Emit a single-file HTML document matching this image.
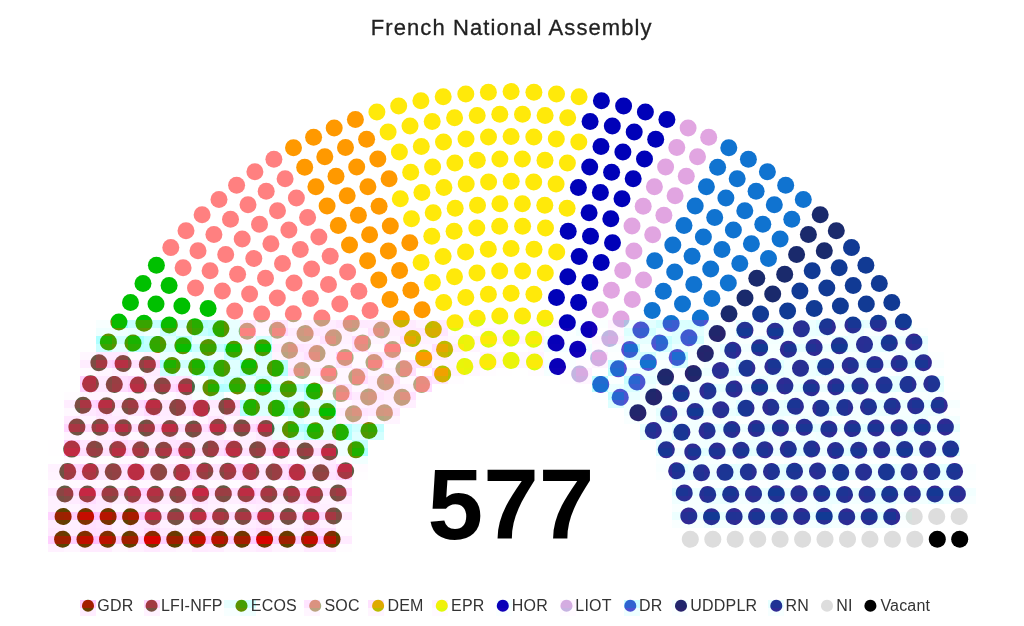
<!DOCTYPE html>
<html><head><meta charset="utf-8"><title>French National Assembly</title>
<style>
html,body{margin:0;padding:0;background:#fff}
body{width:1024px;height:626px;position:relative;overflow:hidden;font-family:"Liberation Sans",Arial,sans-serif}
#title{position:absolute;left:0;width:1023.4px;top:14.6px;text-align:center;font-size:22px;line-height:26px;color:#222;white-space:nowrap;letter-spacing:1.1px;-webkit-text-stroke:0.3px #222}
#title span{display:inline-block}
#num{position:absolute;left:0;width:1022px;top:447px;text-align:center;font-size:100px;line-height:114px;font-weight:bold;color:#000}
svg{position:absolute;left:0;top:0}
svg svg{position:static}
.li{position:absolute;top:596.3px;height:20px;line-height:20px;font-size:16px;color:#333;white-space:nowrap;letter-spacing:0.2px}
</style></head><body>
<div id="title"><span>French National Assembly</span></div>
<svg width="1024" height="626" viewBox="0 0 1024 626">
<svg x="0" y="0" width="1024" height="320" viewBox="0 0 1024 320">
<circle cx="118.9" cy="322" r="8.5" fill="#00c000"/>
<circle cx="144" cy="323.3" r="8.5" fill="#00c000"/>
<circle cx="130.5" cy="302.4" r="8.5" fill="#00c000"/>
<circle cx="169.3" cy="324.9" r="8.5" fill="#00c000"/>
<circle cx="156" cy="304.1" r="8.5" fill="#00c000"/>
<circle cx="194.9" cy="326.7" r="8.5" fill="#00c000"/>
<circle cx="143" cy="283.5" r="8.5" fill="#00c000"/>
<circle cx="181.9" cy="306.1" r="8.5" fill="#00c000"/>
<circle cx="169.1" cy="285.6" r="8.5" fill="#00c000"/>
<circle cx="208.1" cy="308.4" r="8.5" fill="#00c000"/>
<circle cx="156.4" cy="265.2" r="8.5" fill="#00c000"/>
<circle cx="195.5" cy="288.1" r="8.5" fill="#ff8080"/>
<circle cx="234.7" cy="311" r="8.5" fill="#ff8080"/>
<circle cx="183.1" cy="267.8" r="8.5" fill="#ff8080"/>
<circle cx="170.8" cy="247.6" r="8.5" fill="#ff8080"/>
<circle cx="222.4" cy="290.9" r="8.5" fill="#ff8080"/>
<circle cx="210.1" cy="270.8" r="8.5" fill="#ff8080"/>
<circle cx="261.7" cy="314.1" r="8.5" fill="#ff8080"/>
<circle cx="198" cy="250.8" r="8.5" fill="#ff8080"/>
<circle cx="249.6" cy="294.1" r="8.5" fill="#ff8080"/>
<circle cx="186" cy="230.8" r="8.5" fill="#ff8080"/>
<circle cx="237.6" cy="274.2" r="8.5" fill="#ff8080"/>
<circle cx="225.7" cy="254.4" r="8.5" fill="#ff8080"/>
<circle cx="213.9" cy="234.6" r="8.5" fill="#ff8080"/>
<circle cx="277.3" cy="298" r="8.5" fill="#ff8080"/>
<circle cx="293.3" cy="313.7" r="8.5" fill="#ff8080"/>
<circle cx="202.1" cy="214.8" r="8.5" fill="#ff8080"/>
<circle cx="265.5" cy="278.2" r="8.5" fill="#ff8080"/>
<circle cx="253.8" cy="258.5" r="8.5" fill="#ff8080"/>
<circle cx="242.2" cy="238.9" r="8.5" fill="#ff8080"/>
<circle cx="230.5" cy="219.2" r="8.5" fill="#ff8080"/>
<circle cx="219" cy="199.6" r="8.5" fill="#ff8080"/>
<circle cx="321.9" cy="318.1" r="8.5" fill="#ff8080"/>
<circle cx="294" cy="282.9" r="8.5" fill="#ff8080"/>
<circle cx="310.4" cy="298.5" r="8.5" fill="#ff8080"/>
<circle cx="282.5" cy="263.4" r="8.5" fill="#ff8080"/>
<circle cx="270.9" cy="243.8" r="8.5" fill="#ff8080"/>
<circle cx="259.5" cy="224.3" r="8.5" fill="#ff8080"/>
<circle cx="248" cy="204.8" r="8.5" fill="#ff8080"/>
<circle cx="236.6" cy="185.2" r="8.5" fill="#ff8080"/>
<circle cx="351.2" cy="323.4" r="8.5" fill="#ff8080"/>
<circle cx="311.6" cy="269" r="8.5" fill="#ff8080"/>
<circle cx="339.8" cy="303.9" r="8.5" fill="#ff8080"/>
<circle cx="300.3" cy="249.6" r="8.5" fill="#ff8080"/>
<circle cx="288.9" cy="230.1" r="8.5" fill="#ff8080"/>
<circle cx="328.5" cy="284.5" r="8.5" fill="#ff8080"/>
<circle cx="277.5" cy="210.7" r="8.5" fill="#ff8080"/>
<circle cx="266.2" cy="191.3" r="8.5" fill="#ff8080"/>
<circle cx="254.9" cy="171.8" r="8.5" fill="#ff8080"/>
<circle cx="330.2" cy="256.3" r="8.5" fill="#ff8080"/>
<circle cx="318.9" cy="236.9" r="8.5" fill="#ff8080"/>
<circle cx="307.6" cy="217.5" r="8.5" fill="#ff8080"/>
<circle cx="296.4" cy="198.1" r="8.5" fill="#ff8080"/>
<circle cx="285.1" cy="178.7" r="8.5" fill="#ff8080"/>
<circle cx="273.9" cy="159.3" r="8.5" fill="#ff8080"/>
<circle cx="370.1" cy="310.6" r="8.5" fill="#ff8080"/>
<circle cx="358.9" cy="291.3" r="8.5" fill="#ff8080"/>
<circle cx="347.6" cy="271.9" r="8.5" fill="#ff8080"/>
<circle cx="293.5" cy="147.8" r="8.5" fill="#ff9900"/>
<circle cx="304.7" cy="167.3" r="8.5" fill="#ff9900"/>
<circle cx="315.9" cy="186.7" r="8.5" fill="#ff9900"/>
<circle cx="327.1" cy="206.1" r="8.5" fill="#ff9900"/>
<circle cx="338.3" cy="225.5" r="8.5" fill="#ff9900"/>
<circle cx="349.5" cy="244.9" r="8.5" fill="#ff9900"/>
<circle cx="367.6" cy="260.7" r="8.5" fill="#ff9900"/>
<circle cx="378.8" cy="280.1" r="8.5" fill="#ff9900"/>
<circle cx="390" cy="299.5" r="8.5" fill="#ff9900"/>
<circle cx="401.3" cy="319" r="8.5" fill="#ff9900"/>
<circle cx="313.6" cy="137.3" r="8.5" fill="#ff9900"/>
<circle cx="324.8" cy="156.8" r="8.5" fill="#ff9900"/>
<circle cx="336" cy="176.3" r="8.5" fill="#ff9900"/>
<circle cx="347.2" cy="195.8" r="8.5" fill="#ff9900"/>
<circle cx="358.4" cy="215.3" r="8.5" fill="#ff9900"/>
<circle cx="369.6" cy="234.8" r="8.5" fill="#ff9900"/>
<circle cx="334.2" cy="127.9" r="8.5" fill="#ff9900"/>
<circle cx="388.4" cy="250.9" r="8.5" fill="#ff9900"/>
<circle cx="345.5" cy="147.5" r="8.5" fill="#ff9900"/>
<circle cx="399.6" cy="270.5" r="8.5" fill="#ff9900"/>
<circle cx="356.7" cy="167.1" r="8.5" fill="#ff9900"/>
<circle cx="367.9" cy="186.7" r="8.5" fill="#ff9900"/>
<circle cx="410.9" cy="290.2" r="8.5" fill="#ff9900"/>
<circle cx="379.1" cy="206.3" r="8.5" fill="#ff9900"/>
<circle cx="422.1" cy="309.8" r="8.5" fill="#ff9900"/>
<circle cx="390.3" cy="226" r="8.5" fill="#ff9900"/>
<circle cx="355.4" cy="119.5" r="8.5" fill="#ff9900"/>
<circle cx="366.6" cy="139.2" r="8.5" fill="#ff9900"/>
<circle cx="377.8" cy="159" r="8.5" fill="#ff9900"/>
<circle cx="409.8" cy="242.8" r="8.5" fill="#ff9900"/>
<circle cx="389.1" cy="178.8" r="8.5" fill="#ff9900"/>
<circle cx="421.1" cy="262.6" r="8.5" fill="#ffe90a"/>
<circle cx="400.3" cy="198.7" r="8.5" fill="#ffe90a"/>
<circle cx="376.9" cy="112.1" r="8.5" fill="#ffe90a"/>
<circle cx="411.5" cy="218.7" r="8.5" fill="#ffe90a"/>
<circle cx="432.4" cy="282.6" r="8.5" fill="#ffe90a"/>
<circle cx="388.1" cy="132.1" r="8.5" fill="#ffe90a"/>
<circle cx="399.4" cy="152.1" r="8.5" fill="#ffe90a"/>
<circle cx="443.7" cy="302.6" r="8.5" fill="#ffe90a"/>
<circle cx="410.7" cy="172.3" r="8.5" fill="#ffe90a"/>
<circle cx="431.8" cy="236.2" r="8.5" fill="#ffe90a"/>
<circle cx="455" cy="322.7" r="8.5" fill="#ffe90a"/>
<circle cx="398.7" cy="105.9" r="8.5" fill="#ffe90a"/>
<circle cx="421.9" cy="192.4" r="8.5" fill="#ffe90a"/>
<circle cx="410" cy="126.1" r="8.5" fill="#ffe90a"/>
<circle cx="443.1" cy="256.4" r="8.5" fill="#ffe90a"/>
<circle cx="433.2" cy="212.7" r="8.5" fill="#ffe90a"/>
<circle cx="421.3" cy="146.5" r="8.5" fill="#ffe90a"/>
<circle cx="454.5" cy="276.8" r="8.5" fill="#ffe90a"/>
<circle cx="432.6" cy="167" r="8.5" fill="#ffe90a"/>
<circle cx="420.9" cy="100.8" r="8.5" fill="#ffe90a"/>
<circle cx="443.9" cy="187.5" r="8.5" fill="#ffe90a"/>
<circle cx="432.2" cy="121.4" r="8.5" fill="#ffe90a"/>
<circle cx="465.8" cy="297.4" r="8.5" fill="#ffe90a"/>
<circle cx="454.1" cy="231.2" r="8.5" fill="#ffe90a"/>
<circle cx="443.5" cy="142.1" r="8.5" fill="#ffe90a"/>
<circle cx="455.2" cy="208.3" r="8.5" fill="#ffe90a"/>
<circle cx="465.6" cy="252" r="8.5" fill="#ffe90a"/>
<circle cx="477.2" cy="318.2" r="8.5" fill="#ffe90a"/>
<circle cx="443.2" cy="96.8" r="8.5" fill="#ffe90a"/>
<circle cx="454.9" cy="163" r="8.5" fill="#ffe90a"/>
<circle cx="454.6" cy="117.8" r="8.5" fill="#ffe90a"/>
<circle cx="477" cy="273" r="8.5" fill="#ffe90a"/>
<circle cx="466.2" cy="184" r="8.5" fill="#ffe90a"/>
<circle cx="466" cy="138.9" r="8.5" fill="#ffe90a"/>
<circle cx="476.8" cy="227.9" r="8.5" fill="#ffe90a"/>
<circle cx="465.8" cy="93.9" r="8.5" fill="#ffe90a"/>
<circle cx="477.5" cy="205.3" r="8.5" fill="#ffe90a"/>
<circle cx="488.4" cy="294.2" r="8.5" fill="#ffe90a"/>
<circle cx="477.3" cy="160.3" r="8.5" fill="#ffe90a"/>
<circle cx="477.2" cy="115.4" r="8.5" fill="#ffe90a"/>
<circle cx="488.3" cy="249.3" r="8.5" fill="#ffe90a"/>
<circle cx="488.6" cy="181.9" r="8.5" fill="#ffe90a"/>
<circle cx="488.5" cy="137" r="8.5" fill="#ffe90a"/>
<circle cx="499.8" cy="315.9" r="8.5" fill="#ffe90a"/>
<circle cx="488.4" cy="92.2" r="8.5" fill="#ffe90a"/>
<circle cx="499.7" cy="271" r="8.5" fill="#ffe90a"/>
<circle cx="499.7" cy="226.2" r="8.5" fill="#ffe90a"/>
<circle cx="499.9" cy="203.8" r="8.5" fill="#ffe90a"/>
<circle cx="499.9" cy="159" r="8.5" fill="#ffe90a"/>
<circle cx="499.8" cy="114.2" r="8.5" fill="#ffe90a"/>
<circle cx="511.1" cy="293.2" r="8.5" fill="#ffe90a"/>
<circle cx="511.1" cy="248.4" r="8.5" fill="#ffe90a"/>
<circle cx="511.2" cy="181.2" r="8.5" fill="#ffe90a"/>
<circle cx="511.1" cy="136.4" r="8.5" fill="#ffe90a"/>
<circle cx="511.1" cy="91.6" r="8.5" fill="#ffe90a"/>
<circle cx="522.5" cy="114.2" r="8.5" fill="#ffe90a"/>
<circle cx="522.4" cy="159" r="8.5" fill="#ffe90a"/>
<circle cx="522.4" cy="203.8" r="8.5" fill="#ffe90a"/>
<circle cx="522.6" cy="226.2" r="8.5" fill="#ffe90a"/>
<circle cx="522.6" cy="271" r="8.5" fill="#ffe90a"/>
<circle cx="522.5" cy="315.9" r="8.5" fill="#ffe90a"/>
<circle cx="533.9" cy="92.2" r="8.5" fill="#ffe90a"/>
<circle cx="533.8" cy="137" r="8.5" fill="#ffe90a"/>
<circle cx="533.7" cy="181.9" r="8.5" fill="#ffe90a"/>
<circle cx="534" cy="249.3" r="8.5" fill="#ffe90a"/>
<circle cx="545.1" cy="115.4" r="8.5" fill="#ffe90a"/>
<circle cx="545" cy="160.3" r="8.5" fill="#ffe90a"/>
<circle cx="533.9" cy="294.2" r="8.5" fill="#ffe90a"/>
<circle cx="544.8" cy="205.3" r="8.5" fill="#ffe90a"/>
<circle cx="556.5" cy="93.9" r="8.5" fill="#ffe90a"/>
<circle cx="545.5" cy="227.9" r="8.5" fill="#ffe90a"/>
<circle cx="556.3" cy="138.9" r="8.5" fill="#ffe90a"/>
<circle cx="556.1" cy="184" r="8.5" fill="#ffe90a"/>
<circle cx="545.3" cy="273" r="8.5" fill="#ffe90a"/>
<circle cx="567.7" cy="117.8" r="8.5" fill="#ffe90a"/>
<circle cx="567.4" cy="163" r="8.5" fill="#ffe90a"/>
<circle cx="545.1" cy="318.2" r="8.5" fill="#ffe90a"/>
<circle cx="579.1" cy="96.8" r="8.5" fill="#ffe90a"/>
<circle cx="556.7" cy="252" r="8.5" fill="#ffe90a"/>
<circle cx="567.1" cy="208.3" r="8.5" fill="#ffe90a"/>
<circle cx="578.8" cy="142.1" r="8.5" fill="#ffe90a"/>
<circle cx="568.2" cy="231.2" r="8.5" fill="#0001b8"/>
<circle cx="556.5" cy="297.4" r="8.5" fill="#0001b8"/>
<circle cx="590.1" cy="121.4" r="8.5" fill="#0001b8"/>
<circle cx="578.4" cy="187.5" r="8.5" fill="#0001b8"/>
<circle cx="601.4" cy="100.8" r="8.5" fill="#0001b8"/>
<circle cx="589.7" cy="167" r="8.5" fill="#0001b8"/>
<circle cx="567.8" cy="276.8" r="8.5" fill="#0001b8"/>
<circle cx="601" cy="146.5" r="8.5" fill="#0001b8"/>
<circle cx="589.1" cy="212.7" r="8.5" fill="#0001b8"/>
<circle cx="579.2" cy="256.4" r="8.5" fill="#0001b8"/>
<circle cx="612.3" cy="126.1" r="8.5" fill="#0001b8"/>
<circle cx="600.4" cy="192.4" r="8.5" fill="#0001b8"/>
<circle cx="567.3" cy="322.7" r="8.5" fill="#0001b8"/>
<circle cx="623.6" cy="105.9" r="8.5" fill="#0001b8"/>
<circle cx="590.5" cy="236.2" r="8.5" fill="#0001b8"/>
<circle cx="611.6" cy="172.3" r="8.5" fill="#0001b8"/>
<circle cx="578.6" cy="302.6" r="8.5" fill="#0001b8"/>
<circle cx="622.9" cy="152.1" r="8.5" fill="#0001b8"/>
<circle cx="634.2" cy="132.1" r="8.5" fill="#0001b8"/>
<circle cx="589.9" cy="282.6" r="8.5" fill="#0001b8"/>
<circle cx="610.8" cy="218.7" r="8.5" fill="#0001b8"/>
<circle cx="645.4" cy="112.1" r="8.5" fill="#0001b8"/>
<circle cx="601.2" cy="262.6" r="8.5" fill="#0001b8"/>
<circle cx="622" cy="198.7" r="8.5" fill="#0001b8"/>
<circle cx="633.2" cy="178.8" r="8.5" fill="#0001b8"/>
<circle cx="612.5" cy="242.8" r="8.5" fill="#0001b8"/>
<circle cx="644.5" cy="159" r="8.5" fill="#0001b8"/>
<circle cx="655.7" cy="139.2" r="8.5" fill="#0001b8"/>
<circle cx="666.9" cy="119.5" r="8.5" fill="#0001b8"/>
<circle cx="632" cy="226" r="8.5" fill="#e1a5e1"/>
<circle cx="600.2" cy="309.8" r="8.5" fill="#e1a5e1"/>
<circle cx="643.2" cy="206.3" r="8.5" fill="#e1a5e1"/>
<circle cx="611.4" cy="290.2" r="8.5" fill="#e1a5e1"/>
<circle cx="654.4" cy="186.7" r="8.5" fill="#e1a5e1"/>
<circle cx="622.7" cy="270.5" r="8.5" fill="#e1a5e1"/>
<circle cx="665.6" cy="167.1" r="8.5" fill="#e1a5e1"/>
<circle cx="676.8" cy="147.5" r="8.5" fill="#e1a5e1"/>
<circle cx="633.9" cy="250.9" r="8.5" fill="#e1a5e1"/>
<circle cx="688.1" cy="127.9" r="8.5" fill="#e1a5e1"/>
<circle cx="652.7" cy="234.8" r="8.5" fill="#e1a5e1"/>
<circle cx="663.9" cy="215.3" r="8.5" fill="#e1a5e1"/>
<circle cx="675.1" cy="195.8" r="8.5" fill="#e1a5e1"/>
<circle cx="686.3" cy="176.3" r="8.5" fill="#e1a5e1"/>
<circle cx="697.5" cy="156.8" r="8.5" fill="#e1a5e1"/>
<circle cx="708.7" cy="137.3" r="8.5" fill="#e1a5e1"/>
<circle cx="621" cy="319" r="8.5" fill="#e1a5e1"/>
<circle cx="632.3" cy="299.5" r="8.5" fill="#e1a5e1"/>
<circle cx="643.5" cy="280.1" r="8.5" fill="#e1a5e1"/>
<circle cx="654.7" cy="260.7" r="8.5" fill="#1073d0"/>
<circle cx="672.8" cy="244.9" r="8.5" fill="#1073d0"/>
<circle cx="684" cy="225.5" r="8.5" fill="#1073d0"/>
<circle cx="695.2" cy="206.1" r="8.5" fill="#1073d0"/>
<circle cx="706.4" cy="186.7" r="8.5" fill="#1073d0"/>
<circle cx="717.6" cy="167.3" r="8.5" fill="#1073d0"/>
<circle cx="728.8" cy="147.8" r="8.5" fill="#1073d0"/>
<circle cx="674.7" cy="271.9" r="8.5" fill="#1073d0"/>
<circle cx="663.4" cy="291.3" r="8.5" fill="#1073d0"/>
<circle cx="652.2" cy="310.6" r="8.5" fill="#1073d0"/>
<circle cx="748.4" cy="159.3" r="8.5" fill="#1073d0"/>
<circle cx="737.2" cy="178.7" r="8.5" fill="#1073d0"/>
<circle cx="725.9" cy="198.1" r="8.5" fill="#1073d0"/>
<circle cx="714.7" cy="217.5" r="8.5" fill="#1073d0"/>
<circle cx="703.4" cy="236.9" r="8.5" fill="#1073d0"/>
<circle cx="692.1" cy="256.3" r="8.5" fill="#1073d0"/>
<circle cx="767.4" cy="171.8" r="8.5" fill="#1073d0"/>
<circle cx="756.1" cy="191.3" r="8.5" fill="#1073d0"/>
<circle cx="744.8" cy="210.7" r="8.5" fill="#1073d0"/>
<circle cx="693.8" cy="284.5" r="8.5" fill="#1073d0"/>
<circle cx="733.4" cy="230.1" r="8.5" fill="#1073d0"/>
<circle cx="682.5" cy="303.9" r="8.5" fill="#1073d0"/>
<circle cx="722" cy="249.6" r="8.5" fill="#1073d0"/>
<circle cx="710.7" cy="269" r="8.5" fill="#1073d0"/>
<circle cx="671.1" cy="323.4" r="8.5" fill="#1073d0"/>
<circle cx="785.7" cy="185.2" r="8.5" fill="#1073d0"/>
<circle cx="774.3" cy="204.8" r="8.5" fill="#1073d0"/>
<circle cx="762.8" cy="224.3" r="8.5" fill="#1073d0"/>
<circle cx="751.4" cy="243.8" r="8.5" fill="#1073d0"/>
<circle cx="739.8" cy="263.4" r="8.5" fill="#1073d0"/>
<circle cx="711.9" cy="298.5" r="8.5" fill="#1073d0"/>
<circle cx="728.3" cy="282.9" r="8.5" fill="#1073d0"/>
<circle cx="700.4" cy="318.1" r="8.5" fill="#1073d0"/>
<circle cx="803.3" cy="199.6" r="8.5" fill="#1073d0"/>
<circle cx="791.8" cy="219.2" r="8.5" fill="#1073d0"/>
<circle cx="780.1" cy="238.9" r="8.5" fill="#1073d0"/>
<circle cx="768.5" cy="258.5" r="8.5" fill="#1073d0"/>
<circle cx="756.8" cy="278.2" r="8.5" fill="#1a2a6c"/>
<circle cx="820.2" cy="214.8" r="8.5" fill="#1a2a6c"/>
<circle cx="729" cy="313.7" r="8.5" fill="#1a2a6c"/>
<circle cx="745" cy="298" r="8.5" fill="#1a2a6c"/>
<circle cx="808.4" cy="234.6" r="8.5" fill="#1a2a6c"/>
<circle cx="796.6" cy="254.4" r="8.5" fill="#1a2a6c"/>
<circle cx="784.7" cy="274.2" r="8.5" fill="#1a2a6c"/>
<circle cx="836.3" cy="230.8" r="8.5" fill="#1a2a6c"/>
<circle cx="772.7" cy="294.1" r="8.5" fill="#1a2a6c"/>
<circle cx="824.3" cy="250.8" r="8.5" fill="#1a2a6c"/>
<circle cx="760.6" cy="314.1" r="8.5" fill="#113a94"/>
<circle cx="812.2" cy="270.8" r="8.5" fill="#113a94"/>
<circle cx="799.9" cy="290.9" r="8.5" fill="#113a94"/>
<circle cx="851.5" cy="247.6" r="8.5" fill="#113a94"/>
<circle cx="839.2" cy="267.8" r="8.5" fill="#113a94"/>
<circle cx="787.6" cy="311" r="8.5" fill="#113a94"/>
<circle cx="826.8" cy="288.1" r="8.5" fill="#113a94"/>
<circle cx="865.9" cy="265.2" r="8.5" fill="#113a94"/>
<circle cx="814.2" cy="308.4" r="8.5" fill="#113a94"/>
<circle cx="853.2" cy="285.6" r="8.5" fill="#113a94"/>
<circle cx="840.4" cy="306.1" r="8.5" fill="#113a94"/>
<circle cx="879.3" cy="283.5" r="8.5" fill="#113a94"/>
<circle cx="827.4" cy="326.7" r="8.5" fill="#113a94"/>
<circle cx="866.3" cy="304.1" r="8.5" fill="#113a94"/>
<circle cx="853" cy="324.9" r="8.5" fill="#113a94"/>
<circle cx="891.8" cy="302.4" r="8.5" fill="#113a94"/>
<circle cx="878.3" cy="323.3" r="8.5" fill="#113a94"/>
<circle cx="903.4" cy="322" r="8.5" fill="#113a94"/>
</svg>
<svg x="96" y="320" width="16" height="8" viewBox="96 320 16 8"><rect x="96" y="320" width="16" height="8" fill="#f8ffff"/><circle cx="118.9" cy="322" r="8.5" fill="#6a8a00"/></svg>
<svg x="112" y="320" width="16" height="8" viewBox="112 320 16 8"><rect x="112" y="320" width="16" height="8" fill="#98ffff"/><circle cx="118.9" cy="322" r="8.5" fill="#0abb00"/></svg>
<svg x="128" y="320" width="16" height="8" viewBox="128 320 16 8"><rect x="128" y="320" width="16" height="8" fill="#c6ffff"/><circle cx="144" cy="323.3" r="8.5" fill="#38a400"/></svg>
<svg x="144" y="320" width="16" height="8" viewBox="144 320 16 8"><rect x="144" y="320" width="16" height="8" fill="#c6ffff"/><circle cx="144" cy="323.3" r="8.5" fill="#38a400"/></svg>
<svg x="160" y="320" width="16" height="8" viewBox="160 320 16 8"><rect x="160" y="320" width="16" height="8" fill="#97ffff"/><circle cx="169.3" cy="324.9" r="8.5" fill="#09bb00"/></svg>
<svg x="176" y="320" width="16" height="8" viewBox="176 320 16 8"><rect x="176" y="320" width="16" height="8" fill="#d5ffff"/><circle cx="169.3" cy="324.9" r="8.5" fill="#479c00"/><circle cx="194.9" cy="326.7" r="8.5" fill="#479c00"/></svg>
<svg x="192" y="320" width="16" height="8" viewBox="192 320 16 8"><rect x="192" y="320" width="16" height="8" fill="#b6ffff"/><circle cx="194.9" cy="326.7" r="8.5" fill="#28ac00"/></svg>
<svg x="208" y="320" width="16" height="8" viewBox="208 320 16 8"><rect x="208" y="320" width="16" height="8" fill="#bfffff"/><circle cx="220.9" cy="328.8" r="8.5" fill="#31a700"/></svg>
<svg x="224" y="320" width="16" height="8" viewBox="224 320 16 8"><rect x="224" y="320" width="16" height="8" fill="#e9ffff"/><circle cx="220.9" cy="328.8" r="8.5" fill="#5a9200"/><circle cx="247.2" cy="331.2" r="8.5" fill="#90b980"/></svg>
<svg x="240" y="320" width="16" height="8" viewBox="240 320 16 8"><rect x="240" y="320" width="16" height="8" fill="#ffeaff"/><circle cx="247.2" cy="331.2" r="8.5" fill="#cf9980"/><circle cx="261.7" cy="314.1" r="8.5" fill="#cf9980"/></svg>
<svg x="256" y="320" width="16" height="8" viewBox="256 320 16 8"><rect x="256" y="320" width="16" height="8" fill="#fff6ff"/><circle cx="277.4" cy="330.2" r="8.5" fill="#b8a480"/><circle cx="261.7" cy="314.1" r="8.5" fill="#b8a480"/></svg>
<svg x="272" y="320" width="16" height="8" viewBox="272 320 16 8"><rect x="272" y="320" width="16" height="8" fill="#ffe7ff"/><circle cx="277.4" cy="330.2" r="8.5" fill="#d59580"/><circle cx="293.3" cy="313.7" r="8.5" fill="#d59580"/></svg>
<svg x="288" y="320" width="16" height="8" viewBox="288 320 16 8"><rect x="288" y="320" width="16" height="8" fill="#fff6ff"/><circle cx="305.1" cy="333.6" r="8.5" fill="#b8a480"/><circle cx="293.3" cy="313.7" r="8.5" fill="#b8a480"/></svg>
<svg x="304" y="320" width="16" height="8" viewBox="304 320 16 8"><rect x="304" y="320" width="16" height="8" fill="#fff0ff"/><circle cx="305.1" cy="333.6" r="8.5" fill="#c49e80"/><circle cx="321.9" cy="318.1" r="8.5" fill="#c49e80"/></svg>
<svg x="320" y="320" width="16" height="8" viewBox="320 320 16 8"><rect x="320" y="320" width="16" height="8" fill="#ffedff"/><circle cx="321.9" cy="318.1" r="8.5" fill="#c99c80"/></svg>
<svg x="336" y="320" width="16" height="8" viewBox="336 320 16 8"><rect x="336" y="320" width="16" height="8" fill="#ffe6ff"/><circle cx="351.2" cy="323.4" r="8.5" fill="#d79480"/></svg>
<svg x="352" y="320" width="16" height="8" viewBox="352 320 16 8"><rect x="352" y="320" width="16" height="8" fill="#ffeaff"/><circle cx="351.2" cy="323.4" r="8.5" fill="#ce9980"/></svg>
<svg x="368" y="320" width="16" height="8" viewBox="368 320 16 8"><rect x="368" y="320" width="16" height="8" fill="#ffebff"/><circle cx="381.4" cy="330" r="8.5" fill="#cd9a80"/></svg>
<svg x="384" y="320" width="16" height="8" viewBox="384 320 16 8"><rect x="384" y="320" width="16" height="8" fill="#ffeaff"/><circle cx="381.4" cy="330" r="8.5" fill="#d09880"/><circle cx="401.3" cy="319" r="8.5" fill="#d0b100"/></svg>
<svg x="400" y="320" width="16" height="8" viewBox="400 320 16 8"><rect x="400" y="320" width="16" height="8" fill="#ffebff"/><circle cx="401.3" cy="319" r="8.5" fill="#cdb200"/></svg>
<svg x="416" y="320" width="16" height="8" viewBox="416 320 16 8"><rect x="416" y="320" width="16" height="8" fill="#fff3ff"/><circle cx="433.3" cy="329.5" r="8.5" fill="#beba00"/></svg>
<svg x="432" y="320" width="16" height="8" viewBox="432 320 16 8"><rect x="432" y="320" width="16" height="8" fill="#ffebff"/><circle cx="433.3" cy="329.5" r="8.5" fill="#cdb300"/><circle cx="455" cy="322.7" r="8.5" fill="#fdea0a"/></svg>
<svg x="448" y="320" width="16" height="8" viewBox="448 320 16 8"><rect x="448" y="320" width="16" height="8" fill="#ffecff"/><circle cx="455" cy="322.7" r="8.5" fill="#fcea0a"/></svg>
<svg x="464" y="320" width="16" height="8" viewBox="464 320 16 8"><rect x="464" y="320" width="16" height="8" fill="#fff5ff"/><circle cx="477.2" cy="318.2" r="8.5" fill="#e9f40a"/></svg>
<svg x="480" y="320" width="16" height="8" viewBox="480 320 16 8"><rect x="480" y="320" width="16" height="8" fill="#fffaff"/><circle cx="477.2" cy="318.2" r="8.5" fill="#e0f90a"/><circle cx="499.8" cy="315.9" r="8.5" fill="#e0f90a"/></svg>
<svg x="496" y="320" width="16" height="8" viewBox="496 320 16 8"><rect x="496" y="320" width="16" height="8" fill="#fff9ff"/><circle cx="499.8" cy="315.9" r="8.5" fill="#e2f80a"/></svg>
<svg x="512" y="320" width="16" height="8" viewBox="512 320 16 8"><rect x="512" y="320" width="16" height="8" fill="#fff8ff"/><circle cx="522.5" cy="315.9" r="8.5" fill="#e4f70a"/></svg>
<svg x="528" y="320" width="16" height="8" viewBox="528 320 16 8"><rect x="528" y="320" width="16" height="8" fill="#fff9ff"/><circle cx="522.5" cy="315.9" r="8.5" fill="#e2f80a"/><circle cx="545.1" cy="318.2" r="8.5" fill="#e2f80a"/></svg>
<svg x="544" y="320" width="16" height="8" viewBox="544 320 16 8"><rect x="544" y="320" width="16" height="8" fill="#fff8ff"/><circle cx="545.1" cy="318.2" r="8.5" fill="#e5f60a"/><circle cx="567.3" cy="322.7" r="8.5" fill="#2400b8"/></svg>
<svg x="560" y="320" width="16" height="8" viewBox="560 320 16 8"><rect x="560" y="320" width="16" height="8" fill="#ebffff"/><circle cx="567.3" cy="322.7" r="8.5" fill="#0100b8"/></svg>
<svg x="576" y="320" width="16" height="8" viewBox="576 320 16 8"><rect x="576" y="320" width="16" height="8" fill="#f4ffff"/><circle cx="589" cy="329.5" r="8.5" fill="#0b00b8"/></svg>
<svg x="592" y="320" width="16" height="8" viewBox="592 320 16 8"><rect x="592" y="320" width="16" height="8" fill="#fbffff"/><circle cx="589" cy="329.5" r="8.5" fill="#1200b8"/></svg>
<svg x="608" y="320" width="16" height="8" viewBox="608 320 16 8"><rect x="608" y="320" width="16" height="8" fill="#fff5ff"/><circle cx="621" cy="319" r="8.5" fill="#d1ade1"/></svg>
<svg x="624" y="320" width="16" height="8" viewBox="624 320 16 8"><rect x="624" y="320" width="16" height="8" fill="#f1ffff"/><circle cx="621" cy="319" r="8.5" fill="#b0bee1"/><circle cx="640.9" cy="330" r="8.5" fill="#5251d0"/></svg>
<svg x="640" y="320" width="16" height="8" viewBox="640 320 16 8"><rect x="640" y="320" width="16" height="8" fill="#e3ffff"/><circle cx="640.9" cy="330" r="8.5" fill="#4459d0"/></svg>
<svg x="656" y="320" width="16" height="8" viewBox="656 320 16 8"><rect x="656" y="320" width="16" height="8" fill="#d2ffff"/><circle cx="671.1" cy="323.4" r="8.5" fill="#3361d0"/></svg>
<svg x="672" y="320" width="16" height="8" viewBox="672 320 16 8"><rect x="672" y="320" width="16" height="8" fill="#dbffff"/><circle cx="671.1" cy="323.4" r="8.5" fill="#3c5cd0"/></svg>
<svg x="688" y="320" width="16" height="8" viewBox="688 320 16 8"><rect x="688" y="320" width="16" height="8" fill="#d9ffff"/><circle cx="700.4" cy="318.1" r="8.5" fill="#3a5dd0"/></svg>
<svg x="704" y="320" width="16" height="8" viewBox="704 320 16 8"><rect x="704" y="320" width="16" height="8" fill="#f2ffff"/><circle cx="700.4" cy="318.1" r="8.5" fill="#5351d0"/><circle cx="717.2" cy="333.6" r="8.5" fill="#1f276c"/></svg>
<svg x="720" y="320" width="16" height="8" viewBox="720 320 16 8"><rect x="720" y="320" width="16" height="8" fill="#fcffff"/><circle cx="729" cy="313.7" r="8.5" fill="#2a226c"/><circle cx="717.2" cy="333.6" r="8.5" fill="#2a226c"/></svg>
<svg x="736" y="320" width="16" height="8" viewBox="736 320 16 8"><rect x="736" y="320" width="16" height="8" fill="#e9ffff"/><circle cx="744.9" cy="330.2" r="8.5" fill="#223294"/></svg>
<svg x="752" y="320" width="16" height="8" viewBox="752 320 16 8"><rect x="752" y="320" width="16" height="8" fill="#f8ffff"/><circle cx="760.6" cy="314.1" r="8.5" fill="#312994"/><circle cx="744.9" cy="330.2" r="8.5" fill="#312994"/><circle cx="775.1" cy="331.2" r="8.5" fill="#312994"/></svg>
<svg x="768" y="320" width="16" height="8" viewBox="768 320 16 8"><rect x="768" y="320" width="16" height="8" fill="#edffff"/><circle cx="775.1" cy="331.2" r="8.5" fill="#262f94"/></svg>
<svg x="784" y="320" width="16" height="8" viewBox="784 320 16 8"><rect x="784" y="320" width="16" height="8" fill="#f3ffff"/><circle cx="801.4" cy="328.8" r="8.5" fill="#2c2c94"/></svg>
<svg x="800" y="320" width="16" height="8" viewBox="800 320 16 8"><rect x="800" y="320" width="16" height="8" fill="#edffff"/><circle cx="801.4" cy="328.8" r="8.5" fill="#262f94"/></svg>
<svg x="816" y="320" width="16" height="8" viewBox="816 320 16 8"><rect x="816" y="320" width="16" height="8" fill="#e2ffff"/><circle cx="827.4" cy="326.7" r="8.5" fill="#1b3594"/></svg>
<svg x="832" y="320" width="16" height="8" viewBox="832 320 16 8"><rect x="832" y="320" width="16" height="8" fill="#f1ffff"/><circle cx="827.4" cy="326.7" r="8.5" fill="#2a2d94"/><circle cx="853" cy="324.9" r="8.5" fill="#2a2d94"/></svg>
<svg x="848" y="320" width="16" height="8" viewBox="848 320 16 8"><rect x="848" y="320" width="16" height="8" fill="#dfffff"/><circle cx="853" cy="324.9" r="8.5" fill="#183694"/></svg>
<svg x="864" y="320" width="16" height="8" viewBox="864 320 16 8"><rect x="864" y="320" width="16" height="8" fill="#e7ffff"/><circle cx="878.3" cy="323.3" r="8.5" fill="#203294"/></svg>
<svg x="880" y="320" width="16" height="8" viewBox="880 320 16 8"><rect x="880" y="320" width="16" height="8" fill="#eeffff"/><circle cx="878.3" cy="323.3" r="8.5" fill="#272f94"/><circle cx="903.4" cy="322" r="8.5" fill="#272f94"/></svg>
<svg x="896" y="320" width="16" height="8" viewBox="896 320 16 8"><rect x="896" y="320" width="16" height="8" fill="#daffff"/><circle cx="903.4" cy="322" r="8.5" fill="#133994"/></svg>
<svg x="96" y="328" width="16" height="8" viewBox="96 328 16 8"><rect x="96" y="328" width="16" height="8" fill="#efffff"/><circle cx="108.4" cy="342.1" r="8.5" fill="#618f00"/></svg>
<svg x="112" y="328" width="16" height="8" viewBox="112 328 16 8"><rect x="112" y="328" width="16" height="8" fill="#edffff"/><circle cx="108.4" cy="342.1" r="8.5" fill="#5e9000"/><circle cx="118.9" cy="322" r="8.5" fill="#5e9000"/></svg>
<svg x="128" y="328" width="16" height="8" viewBox="128 328 16 8"><rect x="128" y="328" width="16" height="8" fill="#e7ffff"/><circle cx="133" cy="343.1" r="8.5" fill="#599300"/><circle cx="144" cy="323.3" r="8.5" fill="#599300"/></svg>
<svg x="144" y="328" width="16" height="8" viewBox="144 328 16 8"><rect x="144" y="328" width="16" height="8" fill="#efffff"/><circle cx="157.8" cy="344.4" r="8.5" fill="#618f00"/><circle cx="144" cy="323.3" r="8.5" fill="#618f00"/></svg>
<svg x="160" y="328" width="16" height="8" viewBox="160 328 16 8"><rect x="160" y="328" width="16" height="8" fill="#cbffff"/><circle cx="169.3" cy="324.9" r="8.5" fill="#3ca100"/></svg>
<svg x="176" y="328" width="16" height="8" viewBox="176 328 16 8"><rect x="176" y="328" width="16" height="8" fill="#e8ffff"/><circle cx="169.3" cy="324.9" r="8.5" fill="#5a9200"/><circle cx="194.9" cy="326.7" r="8.5" fill="#5a9200"/></svg>
<svg x="192" y="328" width="16" height="8" viewBox="192 328 16 8"><rect x="192" y="328" width="16" height="8" fill="#c6ffff"/><circle cx="194.9" cy="326.7" r="8.5" fill="#38a400"/></svg>
<svg x="208" y="328" width="16" height="8" viewBox="208 328 16 8"><rect x="208" y="328" width="16" height="8" fill="#b6ffff"/><circle cx="220.9" cy="328.8" r="8.5" fill="#27ac00"/></svg>
<svg x="224" y="328" width="16" height="8" viewBox="224 328 16 8"><rect x="224" y="328" width="16" height="8" fill="#e6ffff"/><circle cx="220.9" cy="328.8" r="8.5" fill="#589300"/><circle cx="247.2" cy="331.2" r="8.5" fill="#8dba80"/></svg>
<svg x="240" y="328" width="16" height="8" viewBox="240 328 16 8"><rect x="240" y="328" width="16" height="8" fill="#ffd4ff"/><circle cx="247.2" cy="331.2" r="8.5" fill="#fb8280"/></svg>
<svg x="256" y="328" width="16" height="8" viewBox="256 328 16 8"><rect x="256" y="328" width="16" height="8" fill="#fff8ff"/><circle cx="277.4" cy="330.2" r="8.5" fill="#b4a680"/></svg>
<svg x="272" y="328" width="16" height="8" viewBox="272 328 16 8"><rect x="272" y="328" width="16" height="8" fill="#ffd9ff"/><circle cx="277.4" cy="330.2" r="8.5" fill="#f08880"/></svg>
<svg x="288" y="328" width="16" height="8" viewBox="288 328 16 8"><rect x="288" y="328" width="16" height="8" fill="#ffecff"/><circle cx="305.1" cy="333.6" r="8.5" fill="#cc9a80"/></svg>
<svg x="304" y="328" width="16" height="8" viewBox="304 328 16 8"><rect x="304" y="328" width="16" height="8" fill="#ffe6ff"/><circle cx="305.1" cy="333.6" r="8.5" fill="#d89480"/></svg>
<svg x="320" y="328" width="16" height="8" viewBox="320 328 16 8"><rect x="320" y="328" width="16" height="8" fill="#ffeaff"/><circle cx="333.4" cy="337.7" r="8.5" fill="#ce9980"/></svg>
<svg x="336" y="328" width="16" height="8" viewBox="336 328 16 8"><rect x="336" y="328" width="16" height="8" fill="#ffefff"/><circle cx="333.4" cy="337.7" r="8.5" fill="#c69d80"/><circle cx="351.2" cy="323.4" r="8.5" fill="#c69d80"/></svg>
<svg x="352" y="328" width="16" height="8" viewBox="352 328 16 8"><rect x="352" y="328" width="16" height="8" fill="#fff6ff"/><circle cx="362.6" cy="342.9" r="8.5" fill="#b8a480"/><circle cx="351.2" cy="323.4" r="8.5" fill="#b8a480"/></svg>
<svg x="368" y="328" width="16" height="8" viewBox="368 328 16 8"><rect x="368" y="328" width="16" height="8" fill="#ffe2ff"/><circle cx="381.4" cy="330" r="8.5" fill="#e09080"/></svg>
<svg x="384" y="328" width="16" height="8" viewBox="384 328 16 8"><rect x="384" y="328" width="16" height="8" fill="#fff0ff"/><circle cx="381.4" cy="330" r="8.5" fill="#c39f80"/></svg>
<svg x="400" y="328" width="16" height="8" viewBox="400 328 16 8"><rect x="400" y="328" width="16" height="8" fill="#ffebff"/><circle cx="412.5" cy="338.5" r="8.5" fill="#ccb300"/></svg>
<svg x="416" y="328" width="16" height="8" viewBox="416 328 16 8"><rect x="416" y="328" width="16" height="8" fill="#ffe8ff"/><circle cx="412.5" cy="338.5" r="8.5" fill="#d4af00"/><circle cx="433.3" cy="329.5" r="8.5" fill="#d4af00"/></svg>
<svg x="432" y="328" width="16" height="8" viewBox="432 328 16 8"><rect x="432" y="328" width="16" height="8" fill="#ffe6ff"/><circle cx="433.3" cy="329.5" r="8.5" fill="#d8ad00"/></svg>
<svg x="448" y="328" width="16" height="8" viewBox="448 328 16 8"><rect x="448" y="328" width="16" height="8" fill="#fffaff"/><circle cx="455" cy="322.7" r="8.5" fill="#e0f90a"/><circle cx="466.3" cy="343" r="8.5" fill="#e0f90a"/></svg>
<svg x="464" y="328" width="16" height="8" viewBox="464 328 16 8"><rect x="464" y="328" width="16" height="8" fill="#fffeff"/><circle cx="466.3" cy="343" r="8.5" fill="#d9fd0a"/></svg>
<svg x="480" y="328" width="16" height="8" viewBox="480 328 16 8"><rect x="480" y="328" width="16" height="8" fill="#fff5ff"/><circle cx="488.6" cy="339.3" r="8.5" fill="#e9f40a"/></svg>
<svg x="496" y="328" width="16" height="8" viewBox="496 328 16 8"><rect x="496" y="328" width="16" height="8" fill="#fff8ff"/><circle cx="488.6" cy="339.3" r="8.5" fill="#e5f60a"/><circle cx="511.1" cy="338" r="8.5" fill="#e5f60a"/></svg>
<svg x="512" y="328" width="16" height="8" viewBox="512 328 16 8"><rect x="512" y="328" width="16" height="8" fill="#fff9ff"/><circle cx="511.1" cy="338" r="8.5" fill="#e2f80a"/><circle cx="533.7" cy="339.3" r="8.5" fill="#e2f80a"/></svg>
<svg x="528" y="328" width="16" height="8" viewBox="528 328 16 8"><rect x="528" y="328" width="16" height="8" fill="#fff6ff"/><circle cx="533.7" cy="339.3" r="8.5" fill="#e8f50a"/></svg>
<svg x="544" y="328" width="16" height="8" viewBox="544 328 16 8"><rect x="544" y="328" width="16" height="8" fill="#fdffff"/><circle cx="556" cy="343" r="8.5" fill="#1400b8"/></svg>
<svg x="560" y="328" width="16" height="8" viewBox="560 328 16 8"><rect x="560" y="328" width="16" height="8" fill="#faffff"/><circle cx="556" cy="343" r="8.5" fill="#1100b8"/><circle cx="567.3" cy="322.7" r="8.5" fill="#1100b8"/></svg>
<svg x="576" y="328" width="16" height="8" viewBox="576 328 16 8"><rect x="576" y="328" width="16" height="8" fill="#f1ffff"/><circle cx="589" cy="329.5" r="8.5" fill="#0700b8"/></svg>
<svg x="592" y="328" width="16" height="8" viewBox="592 328 16 8"><circle cx="589" cy="329.5" r="8.5" fill="#1600b8"/><circle cx="609.8" cy="338.5" r="8.5" fill="#beb7e1"/></svg>
<svg x="608" y="328" width="16" height="8" viewBox="608 328 16 8"><rect x="608" y="328" width="16" height="8" fill="#fff9ff"/><circle cx="609.8" cy="338.5" r="8.5" fill="#cab1e1"/></svg>
<svg x="624" y="328" width="16" height="8" viewBox="624 328 16 8"><rect x="624" y="328" width="16" height="8" fill="#ddffff"/><circle cx="640.9" cy="330" r="8.5" fill="#3e5cd0"/></svg>
<svg x="640" y="328" width="16" height="8" viewBox="640 328 16 8"><rect x="640" y="328" width="16" height="8" fill="#d3ffff"/><circle cx="640.9" cy="330" r="8.5" fill="#3460d0"/><circle cx="659.7" cy="342.9" r="8.5" fill="#3460d0"/></svg>
<svg x="656" y="328" width="16" height="8" viewBox="656 328 16 8"><rect x="656" y="328" width="16" height="8" fill="#ebffff"/><circle cx="671.1" cy="323.4" r="8.5" fill="#4c54d0"/><circle cx="659.7" cy="342.9" r="8.5" fill="#4c54d0"/></svg>
<svg x="672" y="328" width="16" height="8" viewBox="672 328 16 8"><rect x="672" y="328" width="16" height="8" fill="#dfffff"/><circle cx="671.1" cy="323.4" r="8.5" fill="#405ad0"/><circle cx="688.9" cy="337.7" r="8.5" fill="#405ad0"/></svg>
<svg x="688" y="328" width="16" height="8" viewBox="688 328 16 8"><rect x="688" y="328" width="16" height="8" fill="#e2ffff"/><circle cx="688.9" cy="337.7" r="8.5" fill="#4359d0"/></svg>
<svg x="704" y="328" width="16" height="8" viewBox="704 328 16 8"><rect x="704" y="328" width="16" height="8" fill="#f2ffff"/><circle cx="717.2" cy="333.6" r="8.5" fill="#20276c"/></svg>
<svg x="720" y="328" width="16" height="8" viewBox="720 328 16 8"><rect x="720" y="328" width="16" height="8" fill="#f9ffff"/><circle cx="717.2" cy="333.6" r="8.5" fill="#27236c"/></svg>
<svg x="736" y="328" width="16" height="8" viewBox="736 328 16 8"><rect x="736" y="328" width="16" height="8" fill="#dbffff"/><circle cx="744.9" cy="330.2" r="8.5" fill="#143994"/></svg>
<svg x="752" y="328" width="16" height="8" viewBox="752 328 16 8"><rect x="752" y="328" width="16" height="8" fill="#faffff"/><circle cx="744.9" cy="330.2" r="8.5" fill="#332894"/><circle cx="775.1" cy="331.2" r="8.5" fill="#332894"/></svg>
<svg x="768" y="328" width="16" height="8" viewBox="768 328 16 8"><rect x="768" y="328" width="16" height="8" fill="#daffff"/><circle cx="775.1" cy="331.2" r="8.5" fill="#133994"/></svg>
<svg x="784" y="328" width="16" height="8" viewBox="784 328 16 8"><rect x="784" y="328" width="16" height="8" fill="#f1ffff"/><circle cx="801.4" cy="328.8" r="8.5" fill="#2a2d94"/></svg>
<svg x="800" y="328" width="16" height="8" viewBox="800 328 16 8"><rect x="800" y="328" width="16" height="8" fill="#eaffff"/><circle cx="801.4" cy="328.8" r="8.5" fill="#233194"/></svg>
<svg x="816" y="328" width="16" height="8" viewBox="816 328 16 8"><rect x="816" y="328" width="16" height="8" fill="#e8ffff"/><circle cx="827.4" cy="326.7" r="8.5" fill="#213294"/></svg>
<svg x="832" y="328" width="16" height="8" viewBox="832 328 16 8"><rect x="832" y="328" width="16" height="8" fill="#f9ffff"/><circle cx="827.4" cy="326.7" r="8.5" fill="#322994"/><circle cx="853" cy="324.9" r="8.5" fill="#322994"/></svg>
<svg x="848" y="328" width="16" height="8" viewBox="848 328 16 8"><rect x="848" y="328" width="16" height="8" fill="#eeffff"/><circle cx="853" cy="324.9" r="8.5" fill="#272f94"/><circle cx="864.5" cy="344.4" r="8.5" fill="#272f94"/></svg>
<svg x="864" y="328" width="16" height="8" viewBox="864 328 16 8"><rect x="864" y="328" width="16" height="8" fill="#f8ffff"/><circle cx="878.3" cy="323.3" r="8.5" fill="#312a94"/><circle cx="864.5" cy="344.4" r="8.5" fill="#312a94"/></svg>
<svg x="880" y="328" width="16" height="8" viewBox="880 328 16 8"><rect x="880" y="328" width="16" height="8" fill="#f9ffff"/><circle cx="878.3" cy="323.3" r="8.5" fill="#322994"/><circle cx="889.3" cy="343.1" r="8.5" fill="#322994"/></svg>
<svg x="896" y="328" width="16" height="8" viewBox="896 328 16 8"><rect x="896" y="328" width="16" height="8" fill="#f8ffff"/><circle cx="903.4" cy="322" r="8.5" fill="#312a94"/><circle cx="913.9" cy="342.1" r="8.5" fill="#312a94"/></svg>
<svg x="912" y="328" width="16" height="8" viewBox="912 328 16 8"><rect x="912" y="328" width="16" height="8" fill="#fbffff"/><circle cx="913.9" cy="342.1" r="8.5" fill="#342894"/></svg>
<svg x="96" y="336" width="16" height="8" viewBox="96 336 16 8"><rect x="96" y="336" width="16" height="8" fill="#aeffff"/><circle cx="108.4" cy="342.1" r="8.5" fill="#20b000"/></svg>
<svg x="112" y="336" width="16" height="8" viewBox="112 336 16 8"><rect x="112" y="336" width="16" height="8" fill="#d0ffff"/><circle cx="108.4" cy="342.1" r="8.5" fill="#429f00"/><circle cx="133" cy="343.1" r="8.5" fill="#429f00"/></svg>
<svg x="128" y="336" width="16" height="8" viewBox="128 336 16 8"><rect x="128" y="336" width="16" height="8" fill="#a7ffff"/><circle cx="133" cy="343.1" r="8.5" fill="#19b300"/></svg>
<svg x="144" y="336" width="16" height="8" viewBox="144 336 16 8"><rect x="144" y="336" width="16" height="8" fill="#c3ffff"/><circle cx="157.8" cy="344.4" r="8.5" fill="#34a500"/></svg>
<svg x="160" y="336" width="16" height="8" viewBox="160 336 16 8"><rect x="160" y="336" width="16" height="8" fill="#dfffff"/><circle cx="157.8" cy="344.4" r="8.5" fill="#519700"/><circle cx="182.9" cy="345.8" r="8.5" fill="#519700"/></svg>
<svg x="176" y="336" width="16" height="8" viewBox="176 336 16 8"><rect x="176" y="336" width="16" height="8" fill="#b9ffff"/><circle cx="182.9" cy="345.8" r="8.5" fill="#2aaa00"/></svg>
<svg x="192" y="336" width="16" height="8" viewBox="192 336 16 8"><rect x="192" y="336" width="16" height="8" fill="#e8ffff"/><circle cx="208.2" cy="347.4" r="8.5" fill="#5a9200"/></svg>
<svg x="208" y="336" width="16" height="8" viewBox="208 336 16 8"><rect x="208" y="336" width="16" height="8" fill="#e1ffff"/><circle cx="208.2" cy="347.4" r="8.5" fill="#539600"/><circle cx="220.9" cy="328.8" r="8.5" fill="#539600"/></svg>
<svg x="224" y="336" width="16" height="8" viewBox="224 336 16 8"><rect x="224" y="336" width="16" height="8" fill="#e5ffff"/><circle cx="233.9" cy="349.3" r="8.5" fill="#569400"/><circle cx="220.9" cy="328.8" r="8.5" fill="#569400"/></svg>
<svg x="240" y="336" width="16" height="8" viewBox="240 336 16 8"><rect x="240" y="336" width="16" height="8" fill="#fff3ff"/><circle cx="233.9" cy="349.3" r="8.5" fill="#887a00"/><circle cx="262.7" cy="347.8" r="8.5" fill="#887a00"/><circle cx="247.2" cy="331.2" r="8.5" fill="#bea180"/></svg>
<svg x="256" y="336" width="16" height="8" viewBox="256 336 16 8"><rect x="256" y="336" width="16" height="8" fill="#d3ffff"/><circle cx="262.7" cy="347.8" r="8.5" fill="#459d00"/><circle cx="277.4" cy="330.2" r="8.5" fill="#7ac480"/></svg>
<svg x="272" y="336" width="16" height="8" viewBox="272 336 16 8"><rect x="272" y="336" width="16" height="8" fill="#fff5ff"/><circle cx="289.5" cy="350.3" r="8.5" fill="#b9a480"/><circle cx="277.4" cy="330.2" r="8.5" fill="#b9a480"/></svg>
<svg x="288" y="336" width="16" height="8" viewBox="288 336 16 8"><rect x="288" y="336" width="16" height="8" fill="#fff1ff"/><circle cx="289.5" cy="350.3" r="8.5" fill="#c29f80"/><circle cx="305.1" cy="333.6" r="8.5" fill="#c29f80"/></svg>
<svg x="304" y="336" width="16" height="8" viewBox="304 336 16 8"><rect x="304" y="336" width="16" height="8" fill="#fff0ff"/><circle cx="305.1" cy="333.6" r="8.5" fill="#c39f80"/></svg>
<svg x="320" y="336" width="16" height="8" viewBox="320 336 16 8"><rect x="320" y="336" width="16" height="8" fill="#ffe2ff"/><circle cx="333.4" cy="337.7" r="8.5" fill="#df9080"/></svg>
<svg x="336" y="336" width="16" height="8" viewBox="336 336 16 8"><rect x="336" y="336" width="16" height="8" fill="#fff1ff"/><circle cx="333.4" cy="337.7" r="8.5" fill="#c29f80"/></svg>
<svg x="352" y="336" width="16" height="8" viewBox="352 336 16 8"><rect x="352" y="336" width="16" height="8" fill="#ffdbff"/><circle cx="362.6" cy="342.9" r="8.5" fill="#ed8980"/></svg>
<svg x="368" y="336" width="16" height="8" viewBox="368 336 16 8"><rect x="368" y="336" width="16" height="8" fill="#fff4ff"/><circle cx="362.6" cy="342.9" r="8.5" fill="#bca280"/><circle cx="381.4" cy="330" r="8.5" fill="#bca280"/></svg>
<svg x="384" y="336" width="16" height="8" viewBox="384 336 16 8"><rect x="384" y="336" width="16" height="8" fill="#fff4ff"/><circle cx="392.6" cy="349.4" r="8.5" fill="#bba380"/><circle cx="381.4" cy="330" r="8.5" fill="#bba380"/></svg>
<svg x="400" y="336" width="16" height="8" viewBox="400 336 16 8"><rect x="400" y="336" width="16" height="8" fill="#ffdfff"/><circle cx="412.5" cy="338.5" r="8.5" fill="#e6a600"/></svg>
<svg x="416" y="336" width="16" height="8" viewBox="416 336 16 8"><rect x="416" y="336" width="16" height="8" fill="#fff1ff"/><circle cx="412.5" cy="338.5" r="8.5" fill="#c1b800"/><circle cx="433.3" cy="329.5" r="8.5" fill="#c1b800"/></svg>
<svg x="432" y="336" width="16" height="8" viewBox="432 336 16 8"><rect x="432" y="336" width="16" height="8" fill="#fff3ff"/><circle cx="433.3" cy="329.5" r="8.5" fill="#beba00"/><circle cx="444.6" cy="349.3" r="8.5" fill="#beba00"/></svg>
<svg x="448" y="336" width="16" height="8" viewBox="448 336 16 8"><rect x="448" y="336" width="16" height="8" fill="#fff7ff"/><circle cx="444.6" cy="349.3" r="8.5" fill="#b7be00"/><circle cx="466.3" cy="343" r="8.5" fill="#e7f50a"/></svg>
<svg x="464" y="336" width="16" height="8" viewBox="464 336 16 8"><rect x="464" y="336" width="16" height="8" fill="#fff2ff"/><circle cx="466.3" cy="343" r="8.5" fill="#eff10a"/></svg>
<svg x="480" y="336" width="16" height="8" viewBox="480 336 16 8"><rect x="480" y="336" width="16" height="8" fill="#ffebff"/><circle cx="488.6" cy="339.3" r="8.5" fill="#feea0a"/></svg>
<svg x="496" y="336" width="16" height="8" viewBox="496 336 16 8"><rect x="496" y="336" width="16" height="8" fill="#fff3ff"/><circle cx="488.6" cy="339.3" r="8.5" fill="#eef20a"/><circle cx="511.1" cy="338" r="8.5" fill="#eef20a"/></svg>
<svg x="512" y="336" width="16" height="8" viewBox="512 336 16 8"><rect x="512" y="336" width="16" height="8" fill="#fff3ff"/><circle cx="511.1" cy="338" r="8.5" fill="#eef20a"/><circle cx="533.7" cy="339.3" r="8.5" fill="#eef20a"/></svg>
<svg x="528" y="336" width="16" height="8" viewBox="528 336 16 8"><rect x="528" y="336" width="16" height="8" fill="#ffedff"/><circle cx="533.7" cy="339.3" r="8.5" fill="#f9ec0a"/></svg>
<svg x="544" y="336" width="16" height="8" viewBox="544 336 16 8"><rect x="544" y="336" width="16" height="8" fill="#f0ffff"/><circle cx="556" cy="343" r="8.5" fill="#0600b8"/></svg>
<svg x="560" y="336" width="16" height="8" viewBox="560 336 16 8"><rect x="560" y="336" width="16" height="8" fill="#f9ffff"/><circle cx="556" cy="343" r="8.5" fill="#0f00b8"/><circle cx="577.7" cy="349.3" r="8.5" fill="#0f00b8"/></svg>
<svg x="576" y="336" width="16" height="8" viewBox="576 336 16 8"><rect x="576" y="336" width="16" height="8" fill="#faffff"/><circle cx="577.7" cy="349.3" r="8.5" fill="#1000b8"/><circle cx="589" cy="329.5" r="8.5" fill="#1000b8"/></svg>
<svg x="592" y="336" width="16" height="8" viewBox="592 336 16 8"><rect x="592" y="336" width="16" height="8" fill="#fff8ff"/><circle cx="589" cy="329.5" r="8.5" fill="#2300b8"/><circle cx="609.8" cy="338.5" r="8.5" fill="#cbb0e1"/></svg>
<svg x="608" y="336" width="16" height="8" viewBox="608 336 16 8"><rect x="608" y="336" width="16" height="8" fill="#fff4ff"/><circle cx="609.8" cy="338.5" r="8.5" fill="#d3ace1"/><circle cx="629.7" cy="349.4" r="8.5" fill="#753fd0"/></svg>
<svg x="624" y="336" width="16" height="8" viewBox="624 336 16 8"><rect x="624" y="336" width="16" height="8" fill="#eaffff"/><circle cx="640.9" cy="330" r="8.5" fill="#4b55d0"/><circle cx="629.7" cy="349.4" r="8.5" fill="#4b55d0"/></svg>
<svg x="640" y="336" width="16" height="8" viewBox="640 336 16 8"><rect x="640" y="336" width="16" height="8" fill="#e5ffff"/><circle cx="640.9" cy="330" r="8.5" fill="#4658d0"/><circle cx="659.7" cy="342.9" r="8.5" fill="#4658d0"/></svg>
<svg x="656" y="336" width="16" height="8" viewBox="656 336 16 8"><rect x="656" y="336" width="16" height="8" fill="#c7ffff"/><circle cx="659.7" cy="342.9" r="8.5" fill="#2867d0"/></svg>
<svg x="672" y="336" width="16" height="8" viewBox="672 336 16 8"><rect x="672" y="336" width="16" height="8" fill="#ddffff"/><circle cx="688.9" cy="337.7" r="8.5" fill="#3e5cd0"/></svg>
<svg x="688" y="336" width="16" height="8" viewBox="688 336 16 8"><rect x="688" y="336" width="16" height="8" fill="#d4ffff"/><circle cx="688.9" cy="337.7" r="8.5" fill="#3560d0"/></svg>
<svg x="704" y="336" width="16" height="8" viewBox="704 336 16 8"><rect x="704" y="336" width="16" height="8" fill="#f8ffff"/><circle cx="717.2" cy="333.6" r="8.5" fill="#25246c"/></svg>
<svg x="720" y="336" width="16" height="8" viewBox="720 336 16 8"><rect x="720" y="336" width="16" height="8" fill="#f8ffff"/><circle cx="717.2" cy="333.6" r="8.5" fill="#25246c"/><circle cx="732.8" cy="350.3" r="8.5" fill="#312a94"/></svg>
<svg x="736" y="336" width="16" height="8" viewBox="736 336 16 8"><rect x="736" y="336" width="16" height="8" fill="#f8ffff"/><circle cx="744.9" cy="330.2" r="8.5" fill="#312a94"/><circle cx="732.8" cy="350.3" r="8.5" fill="#312a94"/><circle cx="759.6" cy="347.8" r="8.5" fill="#312a94"/></svg>
<svg x="752" y="336" width="16" height="8" viewBox="752 336 16 8"><rect x="752" y="336" width="16" height="8" fill="#efffff"/><circle cx="759.6" cy="347.8" r="8.5" fill="#282e94"/></svg>
<svg x="768" y="336" width="16" height="8" viewBox="768 336 16 8"><rect x="768" y="336" width="16" height="8" fill="#f3ffff"/><circle cx="775.1" cy="331.2" r="8.5" fill="#2c2c94"/><circle cx="788.4" cy="349.3" r="8.5" fill="#2c2c94"/></svg>
<svg x="784" y="336" width="16" height="8" viewBox="784 336 16 8"><rect x="784" y="336" width="16" height="8" fill="#f6ffff"/><circle cx="801.4" cy="328.8" r="8.5" fill="#2f2b94"/><circle cx="788.4" cy="349.3" r="8.5" fill="#2f2b94"/></svg>
<svg x="800" y="336" width="16" height="8" viewBox="800 336 16 8"><rect x="800" y="336" width="16" height="8" fill="#f2ffff"/><circle cx="801.4" cy="328.8" r="8.5" fill="#2b2d94"/><circle cx="814.1" cy="347.4" r="8.5" fill="#2b2d94"/></svg>
<svg x="816" y="336" width="16" height="8" viewBox="816 336 16 8"><rect x="816" y="336" width="16" height="8" fill="#f9ffff"/><circle cx="814.1" cy="347.4" r="8.5" fill="#322994"/><circle cx="839.4" cy="345.8" r="8.5" fill="#322994"/></svg>
<svg x="832" y="336" width="16" height="8" viewBox="832 336 16 8"><rect x="832" y="336" width="16" height="8" fill="#e6ffff"/><circle cx="839.4" cy="345.8" r="8.5" fill="#1f3394"/></svg>
<svg x="848" y="336" width="16" height="8" viewBox="848 336 16 8"><rect x="848" y="336" width="16" height="8" fill="#f0ffff"/><circle cx="864.5" cy="344.4" r="8.5" fill="#292e94"/></svg>
<svg x="864" y="336" width="16" height="8" viewBox="864 336 16 8"><rect x="864" y="336" width="16" height="8" fill="#eeffff"/><circle cx="864.5" cy="344.4" r="8.5" fill="#272f94"/></svg>
<svg x="880" y="336" width="16" height="8" viewBox="880 336 16 8"><rect x="880" y="336" width="16" height="8" fill="#ddffff"/><circle cx="889.3" cy="343.1" r="8.5" fill="#163794"/></svg>
<svg x="896" y="336" width="16" height="8" viewBox="896 336 16 8"><rect x="896" y="336" width="16" height="8" fill="#eeffff"/><circle cx="889.3" cy="343.1" r="8.5" fill="#272f94"/><circle cx="913.9" cy="342.1" r="8.5" fill="#272f94"/></svg>
<svg x="912" y="336" width="16" height="8" viewBox="912 336 16 8"><rect x="912" y="336" width="16" height="8" fill="#e7ffff"/><circle cx="913.9" cy="342.1" r="8.5" fill="#203294"/></svg>
<svg x="96" y="344" width="16" height="8" viewBox="96 344 16 8"><rect x="96" y="344" width="16" height="8" fill="#caffff"/><circle cx="108.4" cy="342.1" r="8.5" fill="#3ca200"/></svg>
<svg x="112" y="344" width="16" height="8" viewBox="112 344 16 8"><rect x="112" y="344" width="16" height="8" fill="#e6ffff"/><circle cx="108.4" cy="342.1" r="8.5" fill="#579400"/><circle cx="133" cy="343.1" r="8.5" fill="#579400"/></svg>
<svg x="128" y="344" width="16" height="8" viewBox="128 344 16 8"><rect x="128" y="344" width="16" height="8" fill="#b8ffff"/><circle cx="133" cy="343.1" r="8.5" fill="#2aab00"/></svg>
<svg x="144" y="344" width="16" height="8" viewBox="144 344 16 8"><rect x="144" y="344" width="16" height="8" fill="#bdffff"/><circle cx="157.8" cy="344.4" r="8.5" fill="#2fa800"/></svg>
<svg x="160" y="344" width="16" height="8" viewBox="160 344 16 8"><rect x="160" y="344" width="16" height="8" fill="#d5ffff"/><circle cx="157.8" cy="344.4" r="8.5" fill="#479c00"/><circle cx="182.9" cy="345.8" r="8.5" fill="#479c00"/></svg>
<svg x="176" y="344" width="16" height="8" viewBox="176 344 16 8"><rect x="176" y="344" width="16" height="8" fill="#99ffff"/><circle cx="182.9" cy="345.8" r="8.5" fill="#0bbb00"/></svg>
<svg x="192" y="344" width="16" height="8" viewBox="192 344 16 8"><rect x="192" y="344" width="16" height="8" fill="#c8ffff"/><circle cx="208.2" cy="347.4" r="8.5" fill="#39a300"/></svg>
<svg x="208" y="344" width="16" height="8" viewBox="208 344 16 8"><rect x="208" y="344" width="16" height="8" fill="#c5ffff"/><circle cx="208.2" cy="347.4" r="8.5" fill="#37a400"/></svg>
<svg x="224" y="344" width="16" height="8" viewBox="224 344 16 8"><rect x="224" y="344" width="16" height="8" fill="#9cffff"/><circle cx="233.9" cy="349.3" r="8.5" fill="#0eb900"/></svg>
<svg x="240" y="344" width="16" height="8" viewBox="240 344 16 8"><rect x="240" y="344" width="16" height="8" fill="#e8ffff"/><circle cx="233.9" cy="349.3" r="8.5" fill="#5a9200"/><circle cx="262.7" cy="347.8" r="8.5" fill="#5a9200"/></svg>
<svg x="256" y="344" width="16" height="8" viewBox="256 344 16 8"><rect x="256" y="344" width="16" height="8" fill="#97ffff"/><circle cx="262.7" cy="347.8" r="8.5" fill="#09bb00"/></svg>
<svg x="272" y="344" width="16" height="8" viewBox="272 344 16 8"><rect x="272" y="344" width="16" height="8" fill="#ffedff"/><circle cx="289.5" cy="350.3" r="8.5" fill="#c99c80"/></svg>
<svg x="288" y="344" width="16" height="8" viewBox="288 344 16 8"><rect x="288" y="344" width="16" height="8" fill="#ffe5ff"/><circle cx="289.5" cy="350.3" r="8.5" fill="#d99380"/></svg>
<svg x="304" y="344" width="16" height="8" viewBox="304 344 16 8"><rect x="304" y="344" width="16" height="8" fill="#ffe8ff"/><circle cx="317" cy="353.5" r="8.5" fill="#d29780"/></svg>
<svg x="320" y="344" width="16" height="8" viewBox="320 344 16 8"><rect x="320" y="344" width="16" height="8" fill="#fff2ff"/><circle cx="317" cy="353.5" r="8.5" fill="#bfa180"/><circle cx="333.4" cy="337.7" r="8.5" fill="#bfa180"/></svg>
<svg x="336" y="344" width="16" height="8" viewBox="336 344 16 8"><rect x="336" y="344" width="16" height="8" fill="#fff5ff"/><circle cx="345.1" cy="357.4" r="8.5" fill="#baa380"/><circle cx="333.4" cy="337.7" r="8.5" fill="#baa380"/></svg>
<svg x="352" y="344" width="16" height="8" viewBox="352 344 16 8"><rect x="352" y="344" width="16" height="8" fill="#ffe2ff"/><circle cx="362.6" cy="342.9" r="8.5" fill="#e09080"/></svg>
<svg x="368" y="344" width="16" height="8" viewBox="368 344 16 8"><rect x="368" y="344" width="16" height="8" fill="#fffbff"/><circle cx="362.6" cy="342.9" r="8.5" fill="#adaa80"/></svg>
<svg x="384" y="344" width="16" height="8" viewBox="384 344 16 8"><rect x="384" y="344" width="16" height="8" fill="#ffd4ff"/><circle cx="392.6" cy="349.4" r="8.5" fill="#fb8280"/></svg>
<svg x="400" y="344" width="16" height="8" viewBox="400 344 16 8"><rect x="400" y="344" width="16" height="8" fill="#fff6ff"/><circle cx="392.6" cy="349.4" r="8.5" fill="#b8a480"/><circle cx="412.5" cy="338.5" r="8.5" fill="#b8bd00"/></svg>
<svg x="416" y="344" width="16" height="8" viewBox="416 344 16 8"><rect x="416" y="344" width="16" height="8" fill="#fff7ff"/><circle cx="412.5" cy="338.5" r="8.5" fill="#b6be00"/><circle cx="423.7" cy="357.9" r="8.5" fill="#b6be00"/></svg>
<svg x="432" y="344" width="16" height="8" viewBox="432 344 16 8"><rect x="432" y="344" width="16" height="8" fill="#ffdfff"/><circle cx="444.6" cy="349.3" r="8.5" fill="#e5a600"/></svg>
<svg x="448" y="344" width="16" height="8" viewBox="448 344 16 8"><rect x="448" y="344" width="16" height="8" fill="#ffedff"/><circle cx="444.6" cy="349.3" r="8.5" fill="#c9b400"/><circle cx="466.3" cy="343" r="8.5" fill="#f9ec0a"/></svg>
<svg x="464" y="344" width="16" height="8" viewBox="464 344 16 8"><rect x="464" y="344" width="16" height="8" fill="#fff5ff"/><circle cx="466.3" cy="343" r="8.5" fill="#eaf40a"/></svg>
<svg x="480" y="344" width="16" height="8" viewBox="480 344 16 8"><rect x="480" y="344" width="16" height="8" fill="#fff9ff"/><circle cx="488.6" cy="339.3" r="8.5" fill="#e1f80a"/></svg>
<svg x="496" y="344" width="16" height="8" viewBox="496 344 16 8"><rect x="496" y="344" width="16" height="8" fill="#fffdff"/><circle cx="511.1" cy="360.4" r="8.5" fill="#dafc0a"/><circle cx="511.1" cy="338" r="8.5" fill="#dafc0a"/></svg>
<svg x="512" y="344" width="16" height="8" viewBox="512 344 16 8"><rect x="512" y="344" width="16" height="8" fill="#fffeff"/><circle cx="511.1" cy="360.4" r="8.5" fill="#d9fc0a"/><circle cx="511.1" cy="338" r="8.5" fill="#d9fc0a"/><circle cx="533.7" cy="339.3" r="8.5" fill="#d9fc0a"/></svg>
<svg x="528" y="344" width="16" height="8" viewBox="528 344 16 8"><rect x="528" y="344" width="16" height="8" fill="#fff9ff"/><circle cx="533.7" cy="339.3" r="8.5" fill="#e1f80a"/></svg>
<svg x="544" y="344" width="16" height="8" viewBox="544 344 16 8"><rect x="544" y="344" width="16" height="8" fill="#f2ffff"/><circle cx="556" cy="343" r="8.5" fill="#0900b8"/></svg>
<svg x="560" y="344" width="16" height="8" viewBox="560 344 16 8"><rect x="560" y="344" width="16" height="8" fill="#f3ffff"/><circle cx="556" cy="343" r="8.5" fill="#0a00b8"/><circle cx="577.7" cy="349.3" r="8.5" fill="#0a00b8"/></svg>
<svg x="576" y="344" width="16" height="8" viewBox="576 344 16 8"><rect x="576" y="344" width="16" height="8" fill="#f2ffff"/><circle cx="577.7" cy="349.3" r="8.5" fill="#0900b8"/></svg>
<svg x="592" y="344" width="16" height="8" viewBox="592 344 16 8"><rect x="592" y="344" width="16" height="8" fill="#fffbff"/><circle cx="598.6" cy="357.9" r="8.5" fill="#c5b3e1"/><circle cx="609.8" cy="338.5" r="8.5" fill="#c5b3e1"/></svg>
<svg x="608" y="344" width="16" height="8" viewBox="608 344 16 8"><rect x="608" y="344" width="16" height="8" fill="#f9ffff"/><circle cx="609.8" cy="338.5" r="8.5" fill="#b8bae1"/><circle cx="629.7" cy="349.4" r="8.5" fill="#5a4dd0"/></svg>
<svg x="624" y="344" width="16" height="8" viewBox="624 344 16 8"><rect x="624" y="344" width="16" height="8" fill="#bbffff"/><circle cx="629.7" cy="349.4" r="8.5" fill="#1c6dd0"/></svg>
<svg x="640" y="344" width="16" height="8" viewBox="640 344 16 8"><rect x="640" y="344" width="16" height="8" fill="#f2ffff"/><circle cx="659.7" cy="342.9" r="8.5" fill="#5351d0"/></svg>
<svg x="656" y="344" width="16" height="8" viewBox="656 344 16 8"><rect x="656" y="344" width="16" height="8" fill="#d1ffff"/><circle cx="659.7" cy="342.9" r="8.5" fill="#3262d0"/><circle cx="677.2" cy="357.4" r="8.5" fill="#3262d0"/></svg>
<svg x="672" y="344" width="16" height="8" viewBox="672 344 16 8"><rect x="672" y="344" width="16" height="8" fill="#ebffff"/><circle cx="688.9" cy="337.7" r="8.5" fill="#4c54d0"/><circle cx="677.2" cy="357.4" r="8.5" fill="#4c54d0"/></svg>
<svg x="688" y="344" width="16" height="8" viewBox="688 344 16 8"><rect x="688" y="344" width="16" height="8" fill="#f4ffff"/><circle cx="688.9" cy="337.7" r="8.5" fill="#5550d0"/><circle cx="705.3" cy="353.5" r="8.5" fill="#22266c"/></svg>
<svg x="704" y="344" width="16" height="8" viewBox="704 344 16 8"><rect x="704" y="344" width="16" height="8" fill="#f7ffff"/><circle cx="705.3" cy="353.5" r="8.5" fill="#25246c"/></svg>
<svg x="720" y="344" width="16" height="8" viewBox="720 344 16 8"><rect x="720" y="344" width="16" height="8" fill="#e4ffff"/><circle cx="732.8" cy="350.3" r="8.5" fill="#1d3494"/></svg>
<svg x="736" y="344" width="16" height="8" viewBox="736 344 16 8"><rect x="736" y="344" width="16" height="8" fill="#f3ffff"/><circle cx="732.8" cy="350.3" r="8.5" fill="#2c2c94"/><circle cx="759.6" cy="347.8" r="8.5" fill="#2c2c94"/></svg>
<svg x="752" y="344" width="16" height="8" viewBox="752 344 16 8"><rect x="752" y="344" width="16" height="8" fill="#d9ffff"/><circle cx="759.6" cy="347.8" r="8.5" fill="#123a94"/></svg>
<svg x="768" y="344" width="16" height="8" viewBox="768 344 16 8"><rect x="768" y="344" width="16" height="8" fill="#f6ffff"/><circle cx="759.6" cy="347.8" r="8.5" fill="#2f2b94"/><circle cx="788.4" cy="349.3" r="8.5" fill="#2f2b94"/></svg>
<svg x="784" y="344" width="16" height="8" viewBox="784 344 16 8"><rect x="784" y="344" width="16" height="8" fill="#e1ffff"/><circle cx="788.4" cy="349.3" r="8.5" fill="#1a3594"/></svg>
<svg x="800" y="344" width="16" height="8" viewBox="800 344 16 8"><rect x="800" y="344" width="16" height="8" fill="#e7ffff"/><circle cx="814.1" cy="347.4" r="8.5" fill="#203394"/></svg>
<svg x="816" y="344" width="16" height="8" viewBox="816 344 16 8"><rect x="816" y="344" width="16" height="8" fill="#efffff"/><circle cx="814.1" cy="347.4" r="8.5" fill="#282e94"/><circle cx="839.4" cy="345.8" r="8.5" fill="#282e94"/></svg>
<svg x="832" y="344" width="16" height="8" viewBox="832 344 16 8"><rect x="832" y="344" width="16" height="8" fill="#dbffff"/><circle cx="839.4" cy="345.8" r="8.5" fill="#143994"/></svg>
<svg x="848" y="344" width="16" height="8" viewBox="848 344 16 8"><rect x="848" y="344" width="16" height="8" fill="#efffff"/><circle cx="864.5" cy="344.4" r="8.5" fill="#282e94"/></svg>
<svg x="864" y="344" width="16" height="8" viewBox="864 344 16 8"><rect x="864" y="344" width="16" height="8" fill="#ecffff"/><circle cx="864.5" cy="344.4" r="8.5" fill="#253094"/></svg>
<svg x="880" y="344" width="16" height="8" viewBox="880 344 16 8"><rect x="880" y="344" width="16" height="8" fill="#e4ffff"/><circle cx="889.3" cy="343.1" r="8.5" fill="#1d3494"/></svg>
<svg x="896" y="344" width="16" height="8" viewBox="896 344 16 8"><rect x="896" y="344" width="16" height="8" fill="#f6ffff"/><circle cx="889.3" cy="343.1" r="8.5" fill="#2f2b94"/><circle cx="913.9" cy="342.1" r="8.5" fill="#2f2b94"/></svg>
<svg x="912" y="344" width="16" height="8" viewBox="912 344 16 8"><rect x="912" y="344" width="16" height="8" fill="#f0ffff"/><circle cx="913.9" cy="342.1" r="8.5" fill="#292e94"/></svg>
<svg x="80" y="352" width="16" height="8" viewBox="80 352 16 8"><rect x="80" y="352" width="16" height="8" fill="#fff7ff"/><circle cx="98.9" cy="362.7" r="8.5" fill="#695643"/></svg>
<svg x="96" y="352" width="16" height="8" viewBox="96 352 16 8"><rect x="96" y="352" width="16" height="8" fill="#ffe9ff"/><circle cx="98.9" cy="362.7" r="8.5" fill="#864843"/></svg>
<svg x="112" y="352" width="16" height="8" viewBox="112 352 16 8"><rect x="112" y="352" width="16" height="8" fill="#ffe9ff"/><circle cx="123.1" cy="363.5" r="8.5" fill="#864843"/></svg>
<svg x="128" y="352" width="16" height="8" viewBox="128 352 16 8"><rect x="128" y="352" width="16" height="8" fill="#fff9ff"/><circle cx="123.1" cy="363.5" r="8.5" fill="#655843"/><circle cx="147.4" cy="364.4" r="8.5" fill="#655843"/></svg>
<svg x="144" y="352" width="16" height="8" viewBox="144 352 16 8"><rect x="144" y="352" width="16" height="8" fill="#fff2ff"/><circle cx="147.4" cy="364.4" r="8.5" fill="#745143"/><circle cx="157.8" cy="344.4" r="8.5" fill="#8b7900"/></svg>
<svg x="160" y="352" width="16" height="8" viewBox="160 352 16 8"><rect x="160" y="352" width="16" height="8" fill="#eaffff"/><circle cx="172" cy="365.5" r="8.5" fill="#5b9200"/><circle cx="157.8" cy="344.4" r="8.5" fill="#5b9200"/></svg>
<svg x="176" y="352" width="16" height="8" viewBox="176 352 16 8"><rect x="176" y="352" width="16" height="8" fill="#efffff"/><circle cx="172" cy="365.5" r="8.5" fill="#608f00"/><circle cx="196.7" cy="366.7" r="8.5" fill="#608f00"/><circle cx="182.9" cy="345.8" r="8.5" fill="#608f00"/></svg>
<svg x="192" y="352" width="16" height="8" viewBox="192 352 16 8"><rect x="192" y="352" width="16" height="8" fill="#e4ffff"/><circle cx="196.7" cy="366.7" r="8.5" fill="#569400"/><circle cx="208.2" cy="347.4" r="8.5" fill="#569400"/></svg>
<svg x="208" y="352" width="16" height="8" viewBox="208 352 16 8"><rect x="208" y="352" width="16" height="8" fill="#edffff"/><circle cx="221.8" cy="368.2" r="8.5" fill="#5f9000"/><circle cx="208.2" cy="347.4" r="8.5" fill="#5f9000"/></svg>
<svg x="224" y="352" width="16" height="8" viewBox="224 352 16 8"><rect x="224" y="352" width="16" height="8" fill="#c8ffff"/><circle cx="221.8" cy="368.2" r="8.5" fill="#3aa300"/><circle cx="233.9" cy="349.3" r="8.5" fill="#3aa300"/></svg>
<svg x="240" y="352" width="16" height="8" viewBox="240 352 16 8"><rect x="240" y="352" width="16" height="8" fill="#efffff"/><circle cx="249.4" cy="366.4" r="8.5" fill="#618f00"/><circle cx="233.9" cy="349.3" r="8.5" fill="#618f00"/><circle cx="262.7" cy="347.8" r="8.5" fill="#618f00"/></svg>
<svg x="256" y="352" width="16" height="8" viewBox="256 352 16 8"><rect x="256" y="352" width="16" height="8" fill="#daffff"/><circle cx="262.7" cy="347.8" r="8.5" fill="#4c9900"/></svg>
<svg x="272" y="352" width="16" height="8" viewBox="272 352 16 8"><rect x="272" y="352" width="16" height="8" fill="#fff4ff"/><circle cx="275.4" cy="368.3" r="8.5" fill="#867c00"/><circle cx="289.5" cy="350.3" r="8.5" fill="#bba280"/></svg>
<svg x="288" y="352" width="16" height="8" viewBox="288 352 16 8"><rect x="288" y="352" width="16" height="8" fill="#ffedff"/><circle cx="289.5" cy="350.3" r="8.5" fill="#c99b80"/></svg>
<svg x="304" y="352" width="16" height="8" viewBox="304 352 16 8"><rect x="304" y="352" width="16" height="8" fill="#ffe1ff"/><circle cx="317" cy="353.5" r="8.5" fill="#e18f80"/></svg>
<svg x="320" y="352" width="16" height="8" viewBox="320 352 16 8"><rect x="320" y="352" width="16" height="8" fill="#fff2ff"/><circle cx="317" cy="353.5" r="8.5" fill="#c0a080"/></svg>
<svg x="336" y="352" width="16" height="8" viewBox="336 352 16 8"><rect x="336" y="352" width="16" height="8" fill="#ffd5ff"/><circle cx="345.1" cy="357.4" r="8.5" fill="#f88380"/></svg>
<svg x="352" y="352" width="16" height="8" viewBox="352 352 16 8"><rect x="352" y="352" width="16" height="8" fill="#fffbff"/><circle cx="345.1" cy="357.4" r="8.5" fill="#aea980"/><circle cx="374" cy="362.4" r="8.5" fill="#aea980"/></svg>
<svg x="368" y="352" width="16" height="8" viewBox="368 352 16 8"><rect x="368" y="352" width="16" height="8" fill="#ffe8ff"/><circle cx="374" cy="362.4" r="8.5" fill="#d49680"/></svg>
<svg x="384" y="352" width="16" height="8" viewBox="384 352 16 8"><rect x="384" y="352" width="16" height="8" fill="#ffe7ff"/><circle cx="392.6" cy="349.4" r="8.5" fill="#d69580"/></svg>
<svg x="400" y="352" width="16" height="8" viewBox="400 352 16 8"><rect x="400" y="352" width="16" height="8" fill="#fffeff"/><circle cx="392.6" cy="349.4" r="8.5" fill="#a9ac80"/><circle cx="423.7" cy="357.9" r="8.5" fill="#a9c500"/></svg>
<svg x="416" y="352" width="16" height="8" viewBox="416 352 16 8"><rect x="416" y="352" width="16" height="8" fill="#ffd4ff"/><circle cx="423.7" cy="357.9" r="8.5" fill="#fb9b00"/></svg>
<svg x="432" y="352" width="16" height="8" viewBox="432 352 16 8"><rect x="432" y="352" width="16" height="8" fill="#ffedff"/><circle cx="423.7" cy="357.9" r="8.5" fill="#cab400"/><circle cx="444.6" cy="349.3" r="8.5" fill="#cab400"/></svg>
<svg x="448" y="352" width="16" height="8" viewBox="448 352 16 8"><rect x="448" y="352" width="16" height="8" fill="#fff9ff"/><circle cx="444.6" cy="349.3" r="8.5" fill="#b2c000"/><circle cx="464.8" cy="366.5" r="8.5" fill="#e2f80a"/></svg>
<svg x="464" y="352" width="16" height="8" viewBox="464 352 16 8"><rect x="464" y="352" width="16" height="8" fill="#fffeff"/><circle cx="464.8" cy="366.5" r="8.5" fill="#d9fc0a"/><circle cx="487.8" cy="361.9" r="8.5" fill="#d9fc0a"/></svg>
<svg x="480" y="352" width="16" height="8" viewBox="480 352 16 8"><rect x="480" y="352" width="16" height="8" fill="#fff2ff"/><circle cx="487.8" cy="361.9" r="8.5" fill="#eff10a"/></svg>
<svg x="496" y="352" width="16" height="8" viewBox="496 352 16 8"><rect x="496" y="352" width="16" height="8" fill="#fff5ff"/><circle cx="487.8" cy="361.9" r="8.5" fill="#e9f40a"/><circle cx="511.1" cy="360.4" r="8.5" fill="#e9f40a"/></svg>
<svg x="512" y="352" width="16" height="8" viewBox="512 352 16 8"><rect x="512" y="352" width="16" height="8" fill="#fff7ff"/><circle cx="511.1" cy="360.4" r="8.5" fill="#e5f60a"/><circle cx="534.5" cy="361.9" r="8.5" fill="#e5f60a"/></svg>
<svg x="528" y="352" width="16" height="8" viewBox="528 352 16 8"><rect x="528" y="352" width="16" height="8" fill="#fff3ff"/><circle cx="534.5" cy="361.9" r="8.5" fill="#eef20a"/></svg>
<svg x="544" y="352" width="16" height="8" viewBox="544 352 16 8"><rect x="544" y="352" width="16" height="8" fill="#fdffff"/><circle cx="557.5" cy="366.5" r="8.5" fill="#1400b8"/></svg>
<svg x="560" y="352" width="16" height="8" viewBox="560 352 16 8"><rect x="560" y="352" width="16" height="8" fill="#fbffff"/><circle cx="557.5" cy="366.5" r="8.5" fill="#1100b8"/><circle cx="577.7" cy="349.3" r="8.5" fill="#1100b8"/></svg>
<svg x="576" y="352" width="16" height="8" viewBox="576 352 16 8"><rect x="576" y="352" width="16" height="8" fill="#fbffff"/><circle cx="577.7" cy="349.3" r="8.5" fill="#1100b8"/><circle cx="598.6" cy="357.9" r="8.5" fill="#b9b9e1"/></svg>
<svg x="592" y="352" width="16" height="8" viewBox="592 352 16 8"><rect x="592" y="352" width="16" height="8" fill="#ffefff"/><circle cx="598.6" cy="357.9" r="8.5" fill="#dda7e1"/></svg>
<svg x="608" y="352" width="16" height="8" viewBox="608 352 16 8"><rect x="608" y="352" width="16" height="8" fill="#fcffff"/><circle cx="629.7" cy="349.4" r="8.5" fill="#5d4cd0"/></svg>
<svg x="624" y="352" width="16" height="8" viewBox="624 352 16 8"><rect x="624" y="352" width="16" height="8" fill="#d7ffff"/><circle cx="629.7" cy="349.4" r="8.5" fill="#385fd0"/></svg>
<svg x="640" y="352" width="16" height="8" viewBox="640 352 16 8"><rect x="640" y="352" width="16" height="8" fill="#d3ffff"/><circle cx="648.3" cy="362.4" r="8.5" fill="#3461d0"/></svg>
<svg x="656" y="352" width="16" height="8" viewBox="656 352 16 8"><rect x="656" y="352" width="16" height="8" fill="#f1ffff"/><circle cx="648.3" cy="362.4" r="8.5" fill="#5251d0"/><circle cx="677.2" cy="357.4" r="8.5" fill="#5251d0"/></svg>
<svg x="672" y="352" width="16" height="8" viewBox="672 352 16 8"><rect x="672" y="352" width="16" height="8" fill="#bdffff"/><circle cx="677.2" cy="357.4" r="8.5" fill="#1e6cd0"/></svg>
<svg x="688" y="352" width="16" height="8" viewBox="688 352 16 8"><rect x="688" y="352" width="16" height="8" fill="#f8ffff"/><circle cx="705.3" cy="353.5" r="8.5" fill="#25246c"/></svg>
<svg x="704" y="352" width="16" height="8" viewBox="704 352 16 8"><rect x="704" y="352" width="16" height="8" fill="#f4ffff"/><circle cx="705.3" cy="353.5" r="8.5" fill="#22266c"/></svg>
<svg x="720" y="352" width="16" height="8" viewBox="720 352 16 8"><rect x="720" y="352" width="16" height="8" fill="#ecffff"/><circle cx="732.8" cy="350.3" r="8.5" fill="#253094"/></svg>
<svg x="736" y="352" width="16" height="8" viewBox="736 352 16 8"><rect x="736" y="352" width="16" height="8" fill="#f9ffff"/><circle cx="732.8" cy="350.3" r="8.5" fill="#322994"/><circle cx="746.9" cy="368.3" r="8.5" fill="#322994"/></svg>
<svg x="752" y="352" width="16" height="8" viewBox="752 352 16 8"><rect x="752" y="352" width="16" height="8" fill="#f2ffff"/><circle cx="759.6" cy="347.8" r="8.5" fill="#2b2d94"/><circle cx="772.9" cy="366.4" r="8.5" fill="#2b2d94"/></svg>
<svg x="768" y="352" width="16" height="8" viewBox="768 352 16 8"><rect x="768" y="352" width="16" height="8" fill="#f7ffff"/><circle cx="788.4" cy="349.3" r="8.5" fill="#302a94"/><circle cx="772.9" cy="366.4" r="8.5" fill="#302a94"/></svg>
<svg x="784" y="352" width="16" height="8" viewBox="784 352 16 8"><rect x="784" y="352" width="16" height="8" fill="#eeffff"/><circle cx="788.4" cy="349.3" r="8.5" fill="#272f94"/><circle cx="800.5" cy="368.2" r="8.5" fill="#272f94"/></svg>
<svg x="800" y="352" width="16" height="8" viewBox="800 352 16 8"><rect x="800" y="352" width="16" height="8" fill="#f7ffff"/><circle cx="814.1" cy="347.4" r="8.5" fill="#302a94"/><circle cx="800.5" cy="368.2" r="8.5" fill="#302a94"/></svg>
<svg x="816" y="352" width="16" height="8" viewBox="816 352 16 8"><rect x="816" y="352" width="16" height="8" fill="#f8ffff"/><circle cx="814.1" cy="347.4" r="8.5" fill="#312a94"/><circle cx="825.6" cy="366.7" r="8.5" fill="#312a94"/></svg>
<svg x="832" y="352" width="16" height="8" viewBox="832 352 16 8"><rect x="832" y="352" width="16" height="8" fill="#f8ffff"/><circle cx="839.4" cy="345.8" r="8.5" fill="#312a94"/><circle cx="850.3" cy="365.5" r="8.5" fill="#312a94"/></svg>
<svg x="848" y="352" width="16" height="8" viewBox="848 352 16 8"><rect x="848" y="352" width="16" height="8" fill="#f8ffff"/><circle cx="864.5" cy="344.4" r="8.5" fill="#312994"/><circle cx="850.3" cy="365.5" r="8.5" fill="#312994"/></svg>
<svg x="864" y="352" width="16" height="8" viewBox="864 352 16 8"><rect x="864" y="352" width="16" height="8" fill="#f3ffff"/><circle cx="864.5" cy="344.4" r="8.5" fill="#2c2c94"/><circle cx="874.9" cy="364.4" r="8.5" fill="#2c2c94"/></svg>
<svg x="880" y="352" width="16" height="8" viewBox="880 352 16 8"><rect x="880" y="352" width="16" height="8" fill="#fbffff"/><circle cx="874.9" cy="364.4" r="8.5" fill="#342894"/><circle cx="899.2" cy="363.5" r="8.5" fill="#342894"/></svg>
<svg x="896" y="352" width="16" height="8" viewBox="896 352 16 8"><rect x="896" y="352" width="16" height="8" fill="#f2ffff"/><circle cx="899.2" cy="363.5" r="8.5" fill="#2b2d94"/></svg>
<svg x="912" y="352" width="16" height="8" viewBox="912 352 16 8"><rect x="912" y="352" width="16" height="8" fill="#eeffff"/><circle cx="923.4" cy="362.7" r="8.5" fill="#272f94"/></svg>
<svg x="928" y="352" width="16" height="8" viewBox="928 352 16 8"><rect x="928" y="352" width="16" height="8" fill="#fcffff"/><circle cx="923.4" cy="362.7" r="8.5" fill="#352794"/></svg>
<svg x="80" y="360" width="16" height="8" viewBox="80 360 16 8"><rect x="80" y="360" width="16" height="8" fill="#ffedff"/><circle cx="98.9" cy="362.7" r="8.5" fill="#7e4c43"/></svg>
<svg x="96" y="360" width="16" height="8" viewBox="96 360 16 8"><rect x="96" y="360" width="16" height="8" fill="#ffd8ff"/><circle cx="98.9" cy="362.7" r="8.5" fill="#a73743"/></svg>
<svg x="112" y="360" width="16" height="8" viewBox="112 360 16 8"><rect x="112" y="360" width="16" height="8" fill="#ffd0ff"/><circle cx="123.1" cy="363.5" r="8.5" fill="#b62f43"/></svg>
<svg x="128" y="360" width="16" height="8" viewBox="128 360 16 8"><rect x="128" y="360" width="16" height="8" fill="#ffe3ff"/><circle cx="123.1" cy="363.5" r="8.5" fill="#924243"/><circle cx="147.4" cy="364.4" r="8.5" fill="#924243"/></svg>
<svg x="144" y="360" width="16" height="8" viewBox="144 360 16 8"><rect x="144" y="360" width="16" height="8" fill="#ffd5ff"/><circle cx="147.4" cy="364.4" r="8.5" fill="#ac3543"/></svg>
<svg x="160" y="360" width="16" height="8" viewBox="160 360 16 8"><rect x="160" y="360" width="16" height="8" fill="#abffff"/><circle cx="172" cy="365.5" r="8.5" fill="#1db100"/></svg>
<svg x="176" y="360" width="16" height="8" viewBox="176 360 16 8"><rect x="176" y="360" width="16" height="8" fill="#d0ffff"/><circle cx="172" cy="365.5" r="8.5" fill="#429f00"/><circle cx="196.7" cy="366.7" r="8.5" fill="#429f00"/></svg>
<svg x="192" y="360" width="16" height="8" viewBox="192 360 16 8"><rect x="192" y="360" width="16" height="8" fill="#a9ffff"/><circle cx="196.7" cy="366.7" r="8.5" fill="#1bb200"/></svg>
<svg x="208" y="360" width="16" height="8" viewBox="208 360 16 8"><rect x="208" y="360" width="16" height="8" fill="#c0ffff"/><circle cx="221.8" cy="368.2" r="8.5" fill="#32a700"/></svg>
<svg x="224" y="360" width="16" height="8" viewBox="224 360 16 8"><rect x="224" y="360" width="16" height="8" fill="#dfffff"/><circle cx="221.8" cy="368.2" r="8.5" fill="#519700"/></svg>
<svg x="240" y="360" width="16" height="8" viewBox="240 360 16 8"><rect x="240" y="360" width="16" height="8" fill="#9bffff"/><circle cx="249.4" cy="366.4" r="8.5" fill="#0db900"/></svg>
<svg x="256" y="360" width="16" height="8" viewBox="256 360 16 8"><rect x="256" y="360" width="16" height="8" fill="#e0ffff"/><circle cx="249.4" cy="366.4" r="8.5" fill="#519700"/><circle cx="275.4" cy="368.3" r="8.5" fill="#519700"/></svg>
<svg x="272" y="360" width="16" height="8" viewBox="272 360 16 8"><rect x="272" y="360" width="16" height="8" fill="#b8ffff"/><circle cx="275.4" cy="368.3" r="8.5" fill="#2aab00"/></svg>
<svg x="288" y="360" width="16" height="8" viewBox="288 360 16 8"><rect x="288" y="360" width="16" height="8" fill="#ffeeff"/><circle cx="301.9" cy="370.6" r="8.5" fill="#c79d80"/></svg>
<svg x="304" y="360" width="16" height="8" viewBox="304 360 16 8"><rect x="304" y="360" width="16" height="8" fill="#fff3ff"/><circle cx="301.9" cy="370.6" r="8.5" fill="#bea180"/><circle cx="317" cy="353.5" r="8.5" fill="#bea180"/></svg>
<svg x="320" y="360" width="16" height="8" viewBox="320 360 16 8"><rect x="320" y="360" width="16" height="8" fill="#fff5ff"/><circle cx="329" cy="373.5" r="8.5" fill="#b9a380"/><circle cx="317" cy="353.5" r="8.5" fill="#b9a380"/></svg>
<svg x="336" y="360" width="16" height="8" viewBox="336 360 16 8"><rect x="336" y="360" width="16" height="8" fill="#ffe7ff"/><circle cx="345.1" cy="357.4" r="8.5" fill="#d59580"/></svg>
<svg x="352" y="360" width="16" height="8" viewBox="352 360 16 8"><rect x="352" y="360" width="16" height="8" fill="#fff9ff"/><circle cx="345.1" cy="357.4" r="8.5" fill="#b2a780"/><circle cx="374" cy="362.4" r="8.5" fill="#b2a780"/></svg>
<svg x="368" y="360" width="16" height="8" viewBox="368 360 16 8"><rect x="368" y="360" width="16" height="8" fill="#ffd8ff"/><circle cx="374" cy="362.4" r="8.5" fill="#f38680"/></svg>
<svg x="384" y="360" width="16" height="8" viewBox="384 360 16 8"><rect x="384" y="360" width="16" height="8" fill="#fff8ff"/><circle cx="403.9" cy="368.8" r="8.5" fill="#b4a680"/></svg>
<svg x="400" y="360" width="16" height="8" viewBox="400 360 16 8"><rect x="400" y="360" width="16" height="8" fill="#ffe3ff"/><circle cx="403.9" cy="368.8" r="8.5" fill="#dd9280"/><circle cx="423.7" cy="357.9" r="8.5" fill="#ddab00"/></svg>
<svg x="416" y="360" width="16" height="8" viewBox="416 360 16 8"><rect x="416" y="360" width="16" height="8" fill="#ffe4ff"/><circle cx="423.7" cy="357.9" r="8.5" fill="#dbab00"/></svg>
<svg x="432" y="360" width="16" height="8" viewBox="432 360 16 8"><rect x="432" y="360" width="16" height="8" fill="#fff8ff"/><circle cx="442.6" cy="374" r="8.5" fill="#b4bf00"/></svg>
<svg x="448" y="360" width="16" height="8" viewBox="448 360 16 8"><rect x="448" y="360" width="16" height="8" fill="#fff6ff"/><circle cx="442.6" cy="374" r="8.5" fill="#b8bd00"/><circle cx="464.8" cy="366.5" r="8.5" fill="#e8f50a"/></svg>
<svg x="464" y="360" width="16" height="8" viewBox="464 360 16 8"><rect x="464" y="360" width="16" height="8" fill="#fff4ff"/><circle cx="464.8" cy="366.5" r="8.5" fill="#ecf20a"/><circle cx="487.8" cy="361.9" r="8.5" fill="#ecf20a"/></svg>
<svg x="480" y="360" width="16" height="8" viewBox="480 360 16 8"><rect x="480" y="360" width="16" height="8" fill="#ffebff"/><circle cx="487.8" cy="361.9" r="8.5" fill="#fdea0a"/></svg>
<svg x="496" y="360" width="16" height="8" viewBox="496 360 16 8"><rect x="496" y="360" width="16" height="8" fill="#fff4ff"/><circle cx="487.8" cy="361.9" r="8.5" fill="#ebf30a"/><circle cx="511.1" cy="360.4" r="8.5" fill="#ebf30a"/></svg>
<svg x="512" y="360" width="16" height="8" viewBox="512 360 16 8"><rect x="512" y="360" width="16" height="8" fill="#fff5ff"/><circle cx="511.1" cy="360.4" r="8.5" fill="#eaf40a"/><circle cx="534.5" cy="361.9" r="8.5" fill="#eaf40a"/></svg>
<svg x="528" y="360" width="16" height="8" viewBox="528 360 16 8"><rect x="528" y="360" width="16" height="8" fill="#ffecff"/><circle cx="534.5" cy="361.9" r="8.5" fill="#fbeb0a"/></svg>
<svg x="544" y="360" width="16" height="8" viewBox="544 360 16 8"><rect x="544" y="360" width="16" height="8" fill="#f1ffff"/><circle cx="557.5" cy="366.5" r="8.5" fill="#0800b8"/></svg>
<svg x="560" y="360" width="16" height="8" viewBox="560 360 16 8"><rect x="560" y="360" width="16" height="8" fill="#f9ffff"/><circle cx="557.5" cy="366.5" r="8.5" fill="#0f00b8"/><circle cx="579.7" cy="374" r="8.5" fill="#b7bae1"/></svg>
<svg x="576" y="360" width="16" height="8" viewBox="576 360 16 8"><rect x="576" y="360" width="16" height="8" fill="#fffcff"/><circle cx="579.7" cy="374" r="8.5" fill="#c4b4e1"/><circle cx="598.6" cy="357.9" r="8.5" fill="#c4b4e1"/></svg>
<svg x="592" y="360" width="16" height="8" viewBox="592 360 16 8"><rect x="592" y="360" width="16" height="8" fill="#fff5ff"/><circle cx="598.6" cy="357.9" r="8.5" fill="#d2ade1"/></svg>
<svg x="608" y="360" width="16" height="8" viewBox="608 360 16 8"><rect x="608" y="360" width="16" height="8" fill="#c8ffff"/><circle cx="618.4" cy="368.8" r="8.5" fill="#2966d0"/></svg>
<svg x="624" y="360" width="16" height="8" viewBox="624 360 16 8"><rect x="624" y="360" width="16" height="8" fill="#f9ffff"/><circle cx="618.4" cy="368.8" r="8.5" fill="#5a4dd0"/><circle cx="648.3" cy="362.4" r="8.5" fill="#5a4dd0"/></svg>
<svg x="640" y="360" width="16" height="8" viewBox="640 360 16 8"><rect x="640" y="360" width="16" height="8" fill="#b2ffff"/><circle cx="648.3" cy="362.4" r="8.5" fill="#1372d0"/></svg>
<svg x="656" y="360" width="16" height="8" viewBox="656 360 16 8"><rect x="656" y="360" width="16" height="8" fill="#f9ffff"/><circle cx="648.3" cy="362.4" r="8.5" fill="#5a4ed0"/><circle cx="677.2" cy="357.4" r="8.5" fill="#5a4ed0"/></svg>
<svg x="672" y="360" width="16" height="8" viewBox="672 360 16 8"><rect x="672" y="360" width="16" height="8" fill="#d8ffff"/><circle cx="677.2" cy="357.4" r="8.5" fill="#395ed0"/><circle cx="693.3" cy="373.5" r="8.5" fill="#06346c"/></svg>
<svg x="688" y="360" width="16" height="8" viewBox="688 360 16 8"><rect x="688" y="360" width="16" height="8" fill="#fbffff"/><circle cx="705.3" cy="353.5" r="8.5" fill="#28236c"/><circle cx="693.3" cy="373.5" r="8.5" fill="#28236c"/></svg>
<svg x="704" y="360" width="16" height="8" viewBox="704 360 16 8"><rect x="704" y="360" width="16" height="8" fill="#f4ffff"/><circle cx="705.3" cy="353.5" r="8.5" fill="#21266c"/><circle cx="720.4" cy="370.6" r="8.5" fill="#2d2c94"/></svg>
<svg x="720" y="360" width="16" height="8" viewBox="720 360 16 8"><rect x="720" y="360" width="16" height="8" fill="#f4ffff"/><circle cx="720.4" cy="370.6" r="8.5" fill="#2d2c94"/></svg>
<svg x="736" y="360" width="16" height="8" viewBox="736 360 16 8"><rect x="736" y="360" width="16" height="8" fill="#e3ffff"/><circle cx="746.9" cy="368.3" r="8.5" fill="#1c3594"/></svg>
<svg x="752" y="360" width="16" height="8" viewBox="752 360 16 8"><rect x="752" y="360" width="16" height="8" fill="#f4ffff"/><circle cx="746.9" cy="368.3" r="8.5" fill="#2d2c94"/><circle cx="772.9" cy="366.4" r="8.5" fill="#2d2c94"/></svg>
<svg x="768" y="360" width="16" height="8" viewBox="768 360 16 8"><rect x="768" y="360" width="16" height="8" fill="#e0ffff"/><circle cx="772.9" cy="366.4" r="8.5" fill="#193694"/></svg>
<svg x="784" y="360" width="16" height="8" viewBox="784 360 16 8"><rect x="784" y="360" width="16" height="8" fill="#f0ffff"/><circle cx="800.5" cy="368.2" r="8.5" fill="#292e94"/></svg>
<svg x="800" y="360" width="16" height="8" viewBox="800 360 16 8"><rect x="800" y="360" width="16" height="8" fill="#edffff"/><circle cx="800.5" cy="368.2" r="8.5" fill="#262f94"/></svg>
<svg x="816" y="360" width="16" height="8" viewBox="816 360 16 8"><rect x="816" y="360" width="16" height="8" fill="#ddffff"/><circle cx="825.6" cy="366.7" r="8.5" fill="#163794"/></svg>
<svg x="832" y="360" width="16" height="8" viewBox="832 360 16 8"><rect x="832" y="360" width="16" height="8" fill="#eeffff"/><circle cx="825.6" cy="366.7" r="8.5" fill="#272f94"/><circle cx="850.3" cy="365.5" r="8.5" fill="#272f94"/></svg>
<svg x="848" y="360" width="16" height="8" viewBox="848 360 16 8"><rect x="848" y="360" width="16" height="8" fill="#e6ffff"/><circle cx="850.3" cy="365.5" r="8.5" fill="#1f3394"/></svg>
<svg x="864" y="360" width="16" height="8" viewBox="864 360 16 8"><rect x="864" y="360" width="16" height="8" fill="#dfffff"/><circle cx="874.9" cy="364.4" r="8.5" fill="#183694"/></svg>
<svg x="880" y="360" width="16" height="8" viewBox="880 360 16 8"><rect x="880" y="360" width="16" height="8" fill="#ecffff"/><circle cx="874.9" cy="364.4" r="8.5" fill="#253094"/><circle cx="899.2" cy="363.5" r="8.5" fill="#253094"/></svg>
<svg x="896" y="360" width="16" height="8" viewBox="896 360 16 8"><rect x="896" y="360" width="16" height="8" fill="#e4ffff"/><circle cx="899.2" cy="363.5" r="8.5" fill="#1d3494"/></svg>
<svg x="912" y="360" width="16" height="8" viewBox="912 360 16 8"><rect x="912" y="360" width="16" height="8" fill="#e0ffff"/><circle cx="923.4" cy="362.7" r="8.5" fill="#193694"/></svg>
<svg x="928" y="360" width="16" height="8" viewBox="928 360 16 8"><rect x="928" y="360" width="16" height="8" fill="#f7ffff"/><circle cx="923.4" cy="362.7" r="8.5" fill="#302a94"/></svg>
<svg x="80" y="368" width="16" height="8" viewBox="80 368 16 8"><rect x="80" y="368" width="16" height="8" fill="#fffbff"/><circle cx="90.5" cy="383.7" r="8.5" fill="#625a43"/><circle cx="98.9" cy="362.7" r="8.5" fill="#625a43"/></svg>
<svg x="96" y="368" width="16" height="8" viewBox="96 368 16 8"><rect x="96" y="368" width="16" height="8" fill="#fff5ff"/><circle cx="98.9" cy="362.7" r="8.5" fill="#6e5443"/></svg>
<svg x="112" y="368" width="16" height="8" viewBox="112 368 16 8"><rect x="112" y="368" width="16" height="8" fill="#ffefff"/><circle cx="114.3" cy="384.4" r="8.5" fill="#7a4e43"/><circle cx="123.1" cy="363.5" r="8.5" fill="#7a4e43"/></svg>
<svg x="128" y="368" width="16" height="8" viewBox="128 368 16 8"><rect x="128" y="368" width="16" height="8" fill="#fff9ff"/><circle cx="123.1" cy="363.5" r="8.5" fill="#665843"/><circle cx="147.4" cy="364.4" r="8.5" fill="#665843"/></svg>
<svg x="144" y="368" width="16" height="8" viewBox="144 368 16 8"><rect x="144" y="368" width="16" height="8" fill="#ffecff"/><circle cx="147.4" cy="364.4" r="8.5" fill="#804b43"/></svg>
<svg x="160" y="368" width="16" height="8" viewBox="160 368 16 8"><rect x="160" y="368" width="16" height="8" fill="#cdffff"/><circle cx="172" cy="365.5" r="8.5" fill="#3fa000"/></svg>
<svg x="176" y="368" width="16" height="8" viewBox="176 368 16 8"><rect x="176" y="368" width="16" height="8" fill="#e8ffff"/><circle cx="172" cy="365.5" r="8.5" fill="#5a9200"/><circle cx="196.7" cy="366.7" r="8.5" fill="#5a9200"/></svg>
<svg x="192" y="368" width="16" height="8" viewBox="192 368 16 8"><rect x="192" y="368" width="16" height="8" fill="#bcffff"/><circle cx="196.7" cy="366.7" r="8.5" fill="#2ea900"/></svg>
<svg x="208" y="368" width="16" height="8" viewBox="208 368 16 8"><rect x="208" y="368" width="16" height="8" fill="#beffff"/><circle cx="221.8" cy="368.2" r="8.5" fill="#2fa800"/></svg>
<svg x="224" y="368" width="16" height="8" viewBox="224 368 16 8"><rect x="224" y="368" width="16" height="8" fill="#ddffff"/><circle cx="221.8" cy="368.2" r="8.5" fill="#4e9800"/></svg>
<svg x="240" y="368" width="16" height="8" viewBox="240 368 16 8"><rect x="240" y="368" width="16" height="8" fill="#b7ffff"/><circle cx="249.4" cy="366.4" r="8.5" fill="#29ab00"/></svg>
<svg x="256" y="368" width="16" height="8" viewBox="256 368 16 8"><rect x="256" y="368" width="16" height="8" fill="#e2ffff"/><circle cx="249.4" cy="366.4" r="8.5" fill="#539600"/><circle cx="275.4" cy="368.3" r="8.5" fill="#539600"/></svg>
<svg x="272" y="368" width="16" height="8" viewBox="272 368 16 8"><rect x="272" y="368" width="16" height="8" fill="#b5ffff"/><circle cx="275.4" cy="368.3" r="8.5" fill="#27ac00"/></svg>
<svg x="288" y="368" width="16" height="8" viewBox="288 368 16 8"><rect x="288" y="368" width="16" height="8" fill="#ffe3ff"/><circle cx="301.9" cy="370.6" r="8.5" fill="#de9180"/></svg>
<svg x="304" y="368" width="16" height="8" viewBox="304 368 16 8"><rect x="304" y="368" width="16" height="8" fill="#ffefff"/><circle cx="301.9" cy="370.6" r="8.5" fill="#c69d80"/></svg>
<svg x="320" y="368" width="16" height="8" viewBox="320 368 16 8"><rect x="320" y="368" width="16" height="8" fill="#ffd5ff"/><circle cx="329" cy="373.5" r="8.5" fill="#f98380"/></svg>
<svg x="336" y="368" width="16" height="8" viewBox="336 368 16 8"><rect x="336" y="368" width="16" height="8" fill="#fff7ff"/><circle cx="329" cy="373.5" r="8.5" fill="#b5a680"/><circle cx="356.8" cy="377.1" r="8.5" fill="#b5a680"/></svg>
<svg x="352" y="368" width="16" height="8" viewBox="352 368 16 8"><rect x="352" y="368" width="16" height="8" fill="#ffe2ff"/><circle cx="356.8" cy="377.1" r="8.5" fill="#de9180"/><circle cx="374" cy="362.4" r="8.5" fill="#de9180"/></svg>
<svg x="368" y="368" width="16" height="8" viewBox="368 368 16 8"><rect x="368" y="368" width="16" height="8" fill="#fff4ff"/><circle cx="385.4" cy="381.9" r="8.5" fill="#bca280"/><circle cx="374" cy="362.4" r="8.5" fill="#bca280"/></svg>
<svg x="384" y="368" width="16" height="8" viewBox="384 368 16 8"><rect x="384" y="368" width="16" height="8" fill="#fff1ff"/><circle cx="385.4" cy="381.9" r="8.5" fill="#c29f80"/><circle cx="403.9" cy="368.8" r="8.5" fill="#c29f80"/></svg>
<svg x="400" y="368" width="16" height="8" viewBox="400 368 16 8"><rect x="400" y="368" width="16" height="8" fill="#ffdfff"/><circle cx="403.9" cy="368.8" r="8.5" fill="#e48e80"/></svg>
<svg x="416" y="368" width="16" height="8" viewBox="416 368 16 8"><circle cx="421.6" cy="384.4" r="8.5" fill="#a6ad80"/></svg>
<svg x="432" y="368" width="16" height="8" viewBox="432 368 16 8"><rect x="432" y="368" width="16" height="8" fill="#ffdaff"/><circle cx="442.6" cy="374" r="8.5" fill="#f0a100"/></svg>
<svg x="448" y="368" width="16" height="8" viewBox="448 368 16 8"><rect x="448" y="368" width="16" height="8" fill="#fff2ff"/><circle cx="442.6" cy="374" r="8.5" fill="#bfb900"/><circle cx="464.8" cy="366.5" r="8.5" fill="#f0f10a"/></svg>
<svg x="464" y="368" width="16" height="8" viewBox="464 368 16 8"><rect x="464" y="368" width="16" height="8" fill="#fff7ff"/><circle cx="464.8" cy="366.5" r="8.5" fill="#e6f60a"/></svg>
<svg x="480" y="368" width="16" height="8" viewBox="480 368 16 8"><rect x="480" y="368" width="16" height="8" fill="#fffcff"/><circle cx="487.8" cy="361.9" r="8.5" fill="#dcfb0a"/></svg>
<svg x="496" y="368" width="16" height="8" viewBox="496 368 16 8"><rect x="496" y="368" width="16" height="8" fill="#fffeff"/><circle cx="511.1" cy="360.4" r="8.5" fill="#d7fd0a"/></svg>
<svg x="512" y="368" width="16" height="8" viewBox="512 368 16 8"><circle cx="511.1" cy="360.4" r="8.5" fill="#d7fe0a"/></svg>
<svg x="528" y="368" width="16" height="8" viewBox="528 368 16 8"><rect x="528" y="368" width="16" height="8" fill="#fffcff"/><circle cx="534.5" cy="361.9" r="8.5" fill="#dcfb0a"/></svg>
<svg x="544" y="368" width="16" height="8" viewBox="544 368 16 8"><rect x="544" y="368" width="16" height="8" fill="#f5ffff"/><circle cx="557.5" cy="366.5" r="8.5" fill="#0c00b8"/></svg>
<svg x="560" y="368" width="16" height="8" viewBox="560 368 16 8"><rect x="560" y="368" width="16" height="8" fill="#fffdff"/><circle cx="557.5" cy="366.5" r="8.5" fill="#1a00b8"/><circle cx="579.7" cy="374" r="8.5" fill="#c3b5e1"/></svg>
<svg x="576" y="368" width="16" height="8" viewBox="576 368 16 8"><rect x="576" y="368" width="16" height="8" fill="#fff2ff"/><circle cx="579.7" cy="374" r="8.5" fill="#d7aae1"/></svg>
<svg x="592" y="368" width="16" height="8" viewBox="592 368 16 8"><circle cx="600.7" cy="384.4" r="8.5" fill="#604ad0"/></svg>
<svg x="608" y="368" width="16" height="8" viewBox="608 368 16 8"><rect x="608" y="368" width="16" height="8" fill="#bfffff"/><circle cx="618.4" cy="368.8" r="8.5" fill="#206bd0"/></svg>
<svg x="624" y="368" width="16" height="8" viewBox="624 368 16 8"><rect x="624" y="368" width="16" height="8" fill="#ebffff"/><circle cx="618.4" cy="368.8" r="8.5" fill="#4c54d0"/><circle cx="636.9" cy="381.9" r="8.5" fill="#4c54d0"/></svg>
<svg x="640" y="368" width="16" height="8" viewBox="640 368 16 8"><rect x="640" y="368" width="16" height="8" fill="#edffff"/><circle cx="648.3" cy="362.4" r="8.5" fill="#4e53d0"/><circle cx="636.9" cy="381.9" r="8.5" fill="#4e53d0"/></svg>
<svg x="656" y="368" width="16" height="8" viewBox="656 368 16 8"><rect x="656" y="368" width="16" height="8" fill="#f2ffff"/><circle cx="665.5" cy="377.1" r="8.5" fill="#20276c"/></svg>
<svg x="672" y="368" width="16" height="8" viewBox="672 368 16 8"><rect x="672" y="368" width="16" height="8" fill="#fbffff"/><circle cx="665.5" cy="377.1" r="8.5" fill="#29226c"/><circle cx="693.3" cy="373.5" r="8.5" fill="#29226c"/></svg>
<svg x="688" y="368" width="16" height="8" viewBox="688 368 16 8"><rect x="688" y="368" width="16" height="8" fill="#f0ffff"/><circle cx="693.3" cy="373.5" r="8.5" fill="#1d286c"/></svg>
<svg x="704" y="368" width="16" height="8" viewBox="704 368 16 8"><rect x="704" y="368" width="16" height="8" fill="#edffff"/><circle cx="720.4" cy="370.6" r="8.5" fill="#262f94"/></svg>
<svg x="720" y="368" width="16" height="8" viewBox="720 368 16 8"><rect x="720" y="368" width="16" height="8" fill="#ebffff"/><circle cx="720.4" cy="370.6" r="8.5" fill="#243094"/></svg>
<svg x="736" y="368" width="16" height="8" viewBox="736 368 16 8"><rect x="736" y="368" width="16" height="8" fill="#e2ffff"/><circle cx="746.9" cy="368.3" r="8.5" fill="#1b3594"/></svg>
<svg x="752" y="368" width="16" height="8" viewBox="752 368 16 8"><rect x="752" y="368" width="16" height="8" fill="#f6ffff"/><circle cx="746.9" cy="368.3" r="8.5" fill="#2f2b94"/><circle cx="772.9" cy="366.4" r="8.5" fill="#2f2b94"/></svg>
<svg x="768" y="368" width="16" height="8" viewBox="768 368 16 8"><rect x="768" y="368" width="16" height="8" fill="#e8ffff"/><circle cx="772.9" cy="366.4" r="8.5" fill="#213294"/></svg>
<svg x="784" y="368" width="16" height="8" viewBox="784 368 16 8"><rect x="784" y="368" width="16" height="8" fill="#efffff"/><circle cx="800.5" cy="368.2" r="8.5" fill="#282e94"/></svg>
<svg x="800" y="368" width="16" height="8" viewBox="800 368 16 8"><rect x="800" y="368" width="16" height="8" fill="#edffff"/><circle cx="800.5" cy="368.2" r="8.5" fill="#263094"/></svg>
<svg x="816" y="368" width="16" height="8" viewBox="816 368 16 8"><rect x="816" y="368" width="16" height="8" fill="#e5ffff"/><circle cx="825.6" cy="366.7" r="8.5" fill="#1e3394"/></svg>
<svg x="832" y="368" width="16" height="8" viewBox="832 368 16 8"><rect x="832" y="368" width="16" height="8" fill="#f7ffff"/><circle cx="825.6" cy="366.7" r="8.5" fill="#302a94"/><circle cx="850.3" cy="365.5" r="8.5" fill="#302a94"/></svg>
<svg x="848" y="368" width="16" height="8" viewBox="848 368 16 8"><rect x="848" y="368" width="16" height="8" fill="#f0ffff"/><circle cx="850.3" cy="365.5" r="8.5" fill="#292e94"/></svg>
<svg x="864" y="368" width="16" height="8" viewBox="864 368 16 8"><rect x="864" y="368" width="16" height="8" fill="#f0ffff"/><circle cx="874.9" cy="364.4" r="8.5" fill="#292e94"/></svg>
<svg x="880" y="368" width="16" height="8" viewBox="880 368 16 8"><rect x="880" y="368" width="16" height="8" fill="#fbffff"/><circle cx="874.9" cy="364.4" r="8.5" fill="#342894"/><circle cx="899.2" cy="363.5" r="8.5" fill="#342894"/></svg>
<svg x="896" y="368" width="16" height="8" viewBox="896 368 16 8"><rect x="896" y="368" width="16" height="8" fill="#f6ffff"/><circle cx="899.2" cy="363.5" r="8.5" fill="#2f2b94"/><circle cx="908" cy="384.4" r="8.5" fill="#2f2b94"/></svg>
<svg x="912" y="368" width="16" height="8" viewBox="912 368 16 8"><rect x="912" y="368" width="16" height="8" fill="#f7ffff"/><circle cx="923.4" cy="362.7" r="8.5" fill="#302a94"/></svg>
<svg x="928" y="368" width="16" height="8" viewBox="928 368 16 8"><rect x="928" y="368" width="16" height="8" fill="#fdffff"/><circle cx="923.4" cy="362.7" r="8.5" fill="#362794"/><circle cx="931.8" cy="383.7" r="8.5" fill="#362794"/></svg>
<svg x="80" y="376" width="16" height="8" viewBox="80 376 16 8"><rect x="80" y="376" width="16" height="8" fill="#ffd2ff"/><circle cx="90.5" cy="383.7" r="8.5" fill="#b23143"/></svg>
<svg x="96" y="376" width="16" height="8" viewBox="96 376 16 8"><rect x="96" y="376" width="16" height="8" fill="#ffeaff"/><circle cx="90.5" cy="383.7" r="8.5" fill="#834943"/><circle cx="114.3" cy="384.4" r="8.5" fill="#834943"/></svg>
<svg x="112" y="376" width="16" height="8" viewBox="112 376 16 8"><rect x="112" y="376" width="16" height="8" fill="#ffdfff"/><circle cx="114.3" cy="384.4" r="8.5" fill="#983f43"/></svg>
<svg x="128" y="376" width="16" height="8" viewBox="128 376 16 8"><rect x="128" y="376" width="16" height="8" fill="#ffd8ff"/><circle cx="138.2" cy="385.1" r="8.5" fill="#a73743"/></svg>
<svg x="144" y="376" width="16" height="8" viewBox="144 376 16 8"><rect x="144" y="376" width="16" height="8" fill="#fff0ff"/><circle cx="138.2" cy="385.1" r="8.5" fill="#774f43"/><circle cx="162.3" cy="385.9" r="8.5" fill="#774f43"/></svg>
<svg x="160" y="376" width="16" height="8" viewBox="160 376 16 8"><rect x="160" y="376" width="16" height="8" fill="#ffe6ff"/><circle cx="162.3" cy="385.9" r="8.5" fill="#8a4643"/></svg>
<svg x="176" y="376" width="16" height="8" viewBox="176 376 16 8"><rect x="176" y="376" width="16" height="8" fill="#ffe3ff"/><circle cx="186.5" cy="386.8" r="8.5" fill="#904243"/></svg>
<svg x="192" y="376" width="16" height="8" viewBox="192 376 16 8"><rect x="192" y="376" width="16" height="8" fill="#f9ffff"/><circle cx="186.5" cy="386.8" r="8.5" fill="#546143"/><circle cx="211" cy="387.8" r="8.5" fill="#6b8a00"/></svg>
<svg x="208" y="376" width="16" height="8" viewBox="208 376 16 8"><rect x="208" y="376" width="16" height="8" fill="#dbffff"/><circle cx="211" cy="387.8" r="8.5" fill="#4c9900"/><circle cx="221.8" cy="368.2" r="8.5" fill="#4c9900"/></svg>
<svg x="224" y="376" width="16" height="8" viewBox="224 376 16 8"><rect x="224" y="376" width="16" height="8" fill="#ceffff"/><circle cx="237.4" cy="385.9" r="8.5" fill="#3fa000"/><circle cx="221.8" cy="368.2" r="8.5" fill="#3fa000"/></svg>
<svg x="240" y="376" width="16" height="8" viewBox="240 376 16 8"><rect x="240" y="376" width="16" height="8" fill="#eaffff"/><circle cx="237.4" cy="385.9" r="8.5" fill="#5c9100"/><circle cx="262.7" cy="387.3" r="8.5" fill="#5c9100"/></svg>
<svg x="256" y="376" width="16" height="8" viewBox="256 376 16 8"><rect x="256" y="376" width="16" height="8" fill="#ccffff"/><circle cx="262.7" cy="387.3" r="8.5" fill="#3ea000"/><circle cx="275.4" cy="368.3" r="8.5" fill="#3ea000"/></svg>
<svg x="272" y="376" width="16" height="8" viewBox="272 376 16 8"><rect x="272" y="376" width="16" height="8" fill="#efffff"/><circle cx="288.3" cy="388.9" r="8.5" fill="#618f00"/><circle cx="275.4" cy="368.3" r="8.5" fill="#618f00"/></svg>
<svg x="288" y="376" width="16" height="8" viewBox="288 376 16 8"><rect x="288" y="376" width="16" height="8" fill="#fcffff"/><circle cx="288.3" cy="388.9" r="8.5" fill="#6e8800"/><circle cx="301.9" cy="370.6" r="8.5" fill="#a3af80"/></svg>
<svg x="304" y="376" width="16" height="8" viewBox="304 376 16 8"><rect x="304" y="376" width="16" height="8" fill="#fbffff"/><circle cx="314.4" cy="391" r="8.5" fill="#6d8800"/><circle cx="301.9" cy="370.6" r="8.5" fill="#a2af80"/></svg>
<svg x="320" y="376" width="16" height="8" viewBox="320 376 16 8"><rect x="320" y="376" width="16" height="8" fill="#ffe7ff"/><circle cx="329" cy="373.5" r="8.5" fill="#d59580"/></svg>
<svg x="336" y="376" width="16" height="8" viewBox="336 376 16 8"><rect x="336" y="376" width="16" height="8" fill="#fff7ff"/><circle cx="329" cy="373.5" r="8.5" fill="#b5a580"/><circle cx="356.8" cy="377.1" r="8.5" fill="#b5a580"/></svg>
<svg x="352" y="376" width="16" height="8" viewBox="352 376 16 8"><rect x="352" y="376" width="16" height="8" fill="#ffdcff"/><circle cx="356.8" cy="377.1" r="8.5" fill="#ea8b80"/></svg>
<svg x="368" y="376" width="16" height="8" viewBox="368 376 16 8"><rect x="368" y="376" width="16" height="8" fill="#ffedff"/><circle cx="385.4" cy="381.9" r="8.5" fill="#ca9b80"/></svg>
<svg x="384" y="376" width="16" height="8" viewBox="384 376 16 8"><rect x="384" y="376" width="16" height="8" fill="#ffe5ff"/><circle cx="385.4" cy="381.9" r="8.5" fill="#d99380"/><circle cx="403.9" cy="368.8" r="8.5" fill="#d99380"/></svg>
<svg x="400" y="376" width="16" height="8" viewBox="400 376 16 8"><rect x="400" y="376" width="16" height="8" fill="#fff9ff"/><circle cx="403.9" cy="368.8" r="8.5" fill="#b2a780"/><circle cx="421.6" cy="384.4" r="8.5" fill="#b2a780"/></svg>
<svg x="416" y="376" width="16" height="8" viewBox="416 376 16 8"><rect x="416" y="376" width="16" height="8" fill="#ffdeff"/><circle cx="421.6" cy="384.4" r="8.5" fill="#e68d80"/></svg>
<svg x="432" y="376" width="16" height="8" viewBox="432 376 16 8"><rect x="432" y="376" width="16" height="8" fill="#ffe7ff"/><circle cx="442.6" cy="374" r="8.5" fill="#d6ae00"/></svg>
<svg x="448" y="376" width="16" height="8" viewBox="448 376 16 8"><rect x="448" y="376" width="16" height="8" fill="#fffcff"/><circle cx="442.6" cy="374" r="8.5" fill="#abc400"/></svg>
<svg x="560" y="376" width="16" height="8" viewBox="560 376 16 8"><rect x="560" y="376" width="16" height="8" fill="#fffdff"/><circle cx="579.7" cy="374" r="8.5" fill="#c2b5e1"/></svg>
<svg x="576" y="376" width="16" height="8" viewBox="576 376 16 8"><rect x="576" y="376" width="16" height="8" fill="#fff6ff"/><circle cx="579.7" cy="374" r="8.5" fill="#ceaee1"/></svg>
<svg x="592" y="376" width="16" height="8" viewBox="592 376 16 8"><rect x="592" y="376" width="16" height="8" fill="#c0ffff"/><circle cx="600.7" cy="384.4" r="8.5" fill="#216ad0"/></svg>
<svg x="608" y="376" width="16" height="8" viewBox="608 376 16 8"><rect x="608" y="376" width="16" height="8" fill="#faffff"/><circle cx="600.7" cy="384.4" r="8.5" fill="#5b4dd0"/><circle cx="618.4" cy="368.8" r="8.5" fill="#5b4dd0"/></svg>
<svg x="624" y="376" width="16" height="8" viewBox="624 376 16 8"><rect x="624" y="376" width="16" height="8" fill="#c8ffff"/><circle cx="636.9" cy="381.9" r="8.5" fill="#2966d0"/></svg>
<svg x="640" y="376" width="16" height="8" viewBox="640 376 16 8"><rect x="640" y="376" width="16" height="8" fill="#e7ffff"/><circle cx="636.9" cy="381.9" r="8.5" fill="#4856d0"/></svg>
<svg x="656" y="376" width="16" height="8" viewBox="656 376 16 8"><rect x="656" y="376" width="16" height="8" fill="#efffff"/><circle cx="665.5" cy="377.1" r="8.5" fill="#1d296c"/></svg>
<svg x="672" y="376" width="16" height="8" viewBox="672 376 16 8"><rect x="672" y="376" width="16" height="8" fill="#fdffff"/><circle cx="665.5" cy="377.1" r="8.5" fill="#2a226c"/><circle cx="693.3" cy="373.5" r="8.5" fill="#2a226c"/></svg>
<svg x="688" y="376" width="16" height="8" viewBox="688 376 16 8"><rect x="688" y="376" width="16" height="8" fill="#f6ffff"/><circle cx="693.3" cy="373.5" r="8.5" fill="#24256c"/><circle cx="707.9" cy="391" r="8.5" fill="#2f2b94"/></svg>
<svg x="704" y="376" width="16" height="8" viewBox="704 376 16 8"><rect x="704" y="376" width="16" height="8" fill="#f9ffff"/><circle cx="720.4" cy="370.6" r="8.5" fill="#322994"/><circle cx="707.9" cy="391" r="8.5" fill="#322994"/></svg>
<svg x="720" y="376" width="16" height="8" viewBox="720 376 16 8"><rect x="720" y="376" width="16" height="8" fill="#f4ffff"/><circle cx="720.4" cy="370.6" r="8.5" fill="#2d2c94"/><circle cx="734" cy="388.9" r="8.5" fill="#2d2c94"/></svg>
<svg x="736" y="376" width="16" height="8" viewBox="736 376 16 8"><rect x="736" y="376" width="16" height="8" fill="#fbffff"/><circle cx="746.9" cy="368.3" r="8.5" fill="#342894"/><circle cx="734" cy="388.9" r="8.5" fill="#342894"/><circle cx="759.6" cy="387.3" r="8.5" fill="#342894"/></svg>
<svg x="752" y="376" width="16" height="8" viewBox="752 376 16 8"><rect x="752" y="376" width="16" height="8" fill="#edffff"/><circle cx="759.6" cy="387.3" r="8.5" fill="#262f94"/></svg>
<svg x="768" y="376" width="16" height="8" viewBox="768 376 16 8"><rect x="768" y="376" width="16" height="8" fill="#f5ffff"/><circle cx="784.9" cy="385.9" r="8.5" fill="#2e2b94"/></svg>
<svg x="784" y="376" width="16" height="8" viewBox="784 376 16 8"><rect x="784" y="376" width="16" height="8" fill="#f1ffff"/><circle cx="800.5" cy="368.2" r="8.5" fill="#2a2d94"/><circle cx="784.9" cy="385.9" r="8.5" fill="#2a2d94"/></svg>
<svg x="800" y="376" width="16" height="8" viewBox="800 376 16 8"><rect x="800" y="376" width="16" height="8" fill="#f1ffff"/><circle cx="800.5" cy="368.2" r="8.5" fill="#2a2d94"/><circle cx="811.3" cy="387.8" r="8.5" fill="#2a2d94"/></svg>
<svg x="816" y="376" width="16" height="8" viewBox="816 376 16 8"><rect x="816" y="376" width="16" height="8" fill="#faffff"/><circle cx="811.3" cy="387.8" r="8.5" fill="#332994"/><circle cx="835.8" cy="386.8" r="8.5" fill="#332994"/></svg>
<svg x="832" y="376" width="16" height="8" viewBox="832 376 16 8"><rect x="832" y="376" width="16" height="8" fill="#efffff"/><circle cx="835.8" cy="386.8" r="8.5" fill="#282e94"/></svg>
<svg x="848" y="376" width="16" height="8" viewBox="848 376 16 8"><rect x="848" y="376" width="16" height="8" fill="#ecffff"/><circle cx="860" cy="385.9" r="8.5" fill="#253094"/></svg>
<svg x="864" y="376" width="16" height="8" viewBox="864 376 16 8"><rect x="864" y="376" width="16" height="8" fill="#f5ffff"/><circle cx="860" cy="385.9" r="8.5" fill="#2e2b94"/><circle cx="884.1" cy="385.1" r="8.5" fill="#2e2b94"/></svg>
<svg x="880" y="376" width="16" height="8" viewBox="880 376 16 8"><rect x="880" y="376" width="16" height="8" fill="#e8ffff"/><circle cx="884.1" cy="385.1" r="8.5" fill="#213294"/></svg>
<svg x="896" y="376" width="16" height="8" viewBox="896 376 16 8"><rect x="896" y="376" width="16" height="8" fill="#e6ffff"/><circle cx="908" cy="384.4" r="8.5" fill="#1f3394"/></svg>
<svg x="912" y="376" width="16" height="8" viewBox="912 376 16 8"><rect x="912" y="376" width="16" height="8" fill="#f1ffff"/><circle cx="908" cy="384.4" r="8.5" fill="#2a2d94"/><circle cx="931.8" cy="383.7" r="8.5" fill="#2a2d94"/></svg>
<svg x="928" y="376" width="16" height="8" viewBox="928 376 16 8"><rect x="928" y="376" width="16" height="8" fill="#e5ffff"/><circle cx="931.8" cy="383.7" r="8.5" fill="#1e3494"/></svg>
<svg x="80" y="384" width="16" height="8" viewBox="80 384 16 8"><rect x="80" y="384" width="16" height="8" fill="#ffd4ff"/><circle cx="90.5" cy="383.7" r="8.5" fill="#ad3443"/></svg>
<svg x="96" y="384" width="16" height="8" viewBox="96 384 16 8"><rect x="96" y="384" width="16" height="8" fill="#ffe8ff"/><circle cx="90.5" cy="383.7" r="8.5" fill="#884743"/><circle cx="114.3" cy="384.4" r="8.5" fill="#884743"/></svg>
<svg x="112" y="384" width="16" height="8" viewBox="112 384 16 8"><rect x="112" y="384" width="16" height="8" fill="#ffddff"/><circle cx="114.3" cy="384.4" r="8.5" fill="#9d3c43"/></svg>
<svg x="128" y="384" width="16" height="8" viewBox="128 384 16 8"><rect x="128" y="384" width="16" height="8" fill="#ffcfff"/><circle cx="138.2" cy="385.1" r="8.5" fill="#b82e43"/></svg>
<svg x="144" y="384" width="16" height="8" viewBox="144 384 16 8"><rect x="144" y="384" width="16" height="8" fill="#ffe5ff"/><circle cx="138.2" cy="385.1" r="8.5" fill="#8d4443"/><circle cx="162.3" cy="385.9" r="8.5" fill="#8d4443"/></svg>
<svg x="160" y="384" width="16" height="8" viewBox="160 384 16 8"><rect x="160" y="384" width="16" height="8" fill="#ffdaff"/><circle cx="162.3" cy="385.9" r="8.5" fill="#a23a43"/></svg>
<svg x="176" y="384" width="16" height="8" viewBox="176 384 16 8"><rect x="176" y="384" width="16" height="8" fill="#ffceff"/><circle cx="186.5" cy="386.8" r="8.5" fill="#ba2d43"/></svg>
<svg x="192" y="384" width="16" height="8" viewBox="192 384 16 8"><rect x="192" y="384" width="16" height="8" fill="#edffff"/><circle cx="186.5" cy="386.8" r="8.5" fill="#486743"/><circle cx="211" cy="387.8" r="8.5" fill="#5f9000"/></svg>
<svg x="208" y="384" width="16" height="8" viewBox="208 384 16 8"><rect x="208" y="384" width="16" height="8" fill="#b1ffff"/><circle cx="211" cy="387.8" r="8.5" fill="#23ae00"/></svg>
<svg x="224" y="384" width="16" height="8" viewBox="224 384 16 8"><rect x="224" y="384" width="16" height="8" fill="#b6ffff"/><circle cx="237.4" cy="385.9" r="8.5" fill="#28ac00"/></svg>
<svg x="240" y="384" width="16" height="8" viewBox="240 384 16 8"><rect x="240" y="384" width="16" height="8" fill="#d1ffff"/><circle cx="237.4" cy="385.9" r="8.5" fill="#439e00"/><circle cx="262.7" cy="387.3" r="8.5" fill="#439e00"/></svg>
<svg x="256" y="384" width="16" height="8" viewBox="256 384 16 8"><rect x="256" y="384" width="16" height="8" fill="#97ffff"/><circle cx="262.7" cy="387.3" r="8.5" fill="#09bc00"/></svg>
<svg x="272" y="384" width="16" height="8" viewBox="272 384 16 8"><rect x="272" y="384" width="16" height="8" fill="#c9ffff"/><circle cx="288.3" cy="388.9" r="8.5" fill="#3aa200"/></svg>
<svg x="288" y="384" width="16" height="8" viewBox="288 384 16 8"><rect x="288" y="384" width="16" height="8" fill="#c4ffff"/><circle cx="288.3" cy="388.9" r="8.5" fill="#36a500"/></svg>
<svg x="304" y="384" width="16" height="8" viewBox="304 384 16 8"><rect x="304" y="384" width="16" height="8" fill="#a3ffff"/><circle cx="314.4" cy="391" r="8.5" fill="#15b500"/></svg>
<svg x="320" y="384" width="16" height="8" viewBox="320 384 16 8"><rect x="320" y="384" width="16" height="8" fill="#f9ffff"/><circle cx="314.4" cy="391" r="8.5" fill="#6b8a00"/><circle cx="341.1" cy="393.6" r="8.5" fill="#a0b080"/></svg>
<svg x="336" y="384" width="16" height="8" viewBox="336 384 16 8"><rect x="336" y="384" width="16" height="8" fill="#ffe4ff"/><circle cx="341.1" cy="393.6" r="8.5" fill="#db9280"/><circle cx="356.8" cy="377.1" r="8.5" fill="#db9280"/></svg>
<svg x="352" y="384" width="16" height="8" viewBox="352 384 16 8"><rect x="352" y="384" width="16" height="8" fill="#fff7ff"/><circle cx="368.6" cy="396.9" r="8.5" fill="#b6a580"/><circle cx="356.8" cy="377.1" r="8.5" fill="#b6a580"/></svg>
<svg x="368" y="384" width="16" height="8" viewBox="368 384 16 8"><rect x="368" y="384" width="16" height="8" fill="#ffeeff"/><circle cx="368.6" cy="396.9" r="8.5" fill="#c79c80"/><circle cx="385.4" cy="381.9" r="8.5" fill="#c79c80"/></svg>
<svg x="384" y="384" width="16" height="8" viewBox="384 384 16 8"><rect x="384" y="384" width="16" height="8" fill="#ffebff"/><circle cx="385.4" cy="381.9" r="8.5" fill="#cd9a80"/><circle cx="402.1" cy="397.3" r="8.5" fill="#cd9a80"/></svg>
<svg x="400" y="384" width="16" height="8" viewBox="400 384 16 8"><rect x="400" y="384" width="16" height="8" fill="#fff2ff"/><circle cx="402.1" cy="397.3" r="8.5" fill="#bfa180"/><circle cx="421.6" cy="384.4" r="8.5" fill="#bfa180"/></svg>
<svg x="416" y="384" width="16" height="8" viewBox="416 384 16 8"><rect x="416" y="384" width="16" height="8" fill="#ffdbff"/><circle cx="421.6" cy="384.4" r="8.5" fill="#ec8a80"/></svg>
<svg x="592" y="384" width="16" height="8" viewBox="592 384 16 8"><rect x="592" y="384" width="16" height="8" fill="#b9ffff"/><circle cx="600.7" cy="384.4" r="8.5" fill="#1a6ed0"/></svg>
<svg x="608" y="384" width="16" height="8" viewBox="608 384 16 8"><rect x="608" y="384" width="16" height="8" fill="#ecffff"/><circle cx="600.7" cy="384.4" r="8.5" fill="#4d54d0"/><circle cx="620.2" cy="397.3" r="8.5" fill="#4d54d0"/></svg>
<svg x="624" y="384" width="16" height="8" viewBox="624 384 16 8"><rect x="624" y="384" width="16" height="8" fill="#d9ffff"/><circle cx="620.2" cy="397.3" r="8.5" fill="#3a5ed0"/><circle cx="636.9" cy="381.9" r="8.5" fill="#3a5ed0"/></svg>
<svg x="640" y="384" width="16" height="8" viewBox="640 384 16 8"><rect x="640" y="384" width="16" height="8" fill="#efffff"/><circle cx="636.9" cy="381.9" r="8.5" fill="#5052d0"/><circle cx="653.7" cy="396.9" r="8.5" fill="#1d286c"/></svg>
<svg x="656" y="384" width="16" height="8" viewBox="656 384 16 8"><rect x="656" y="384" width="16" height="8" fill="#fdffff"/><circle cx="665.5" cy="377.1" r="8.5" fill="#2a226c"/><circle cx="653.7" cy="396.9" r="8.5" fill="#2a226c"/></svg>
<svg x="672" y="384" width="16" height="8" viewBox="672 384 16 8"><rect x="672" y="384" width="16" height="8" fill="#e6ffff"/><circle cx="681.2" cy="393.6" r="8.5" fill="#1f3394"/></svg>
<svg x="688" y="384" width="16" height="8" viewBox="688 384 16 8"><rect x="688" y="384" width="16" height="8" fill="#f5ffff"/><circle cx="681.2" cy="393.6" r="8.5" fill="#2e2b94"/><circle cx="707.9" cy="391" r="8.5" fill="#2e2b94"/></svg>
<svg x="704" y="384" width="16" height="8" viewBox="704 384 16 8"><rect x="704" y="384" width="16" height="8" fill="#e3ffff"/><circle cx="707.9" cy="391" r="8.5" fill="#1c3494"/></svg>
<svg x="720" y="384" width="16" height="8" viewBox="720 384 16 8"><rect x="720" y="384" width="16" height="8" fill="#e7ffff"/><circle cx="734" cy="388.9" r="8.5" fill="#203394"/></svg>
<svg x="736" y="384" width="16" height="8" viewBox="736 384 16 8"><rect x="736" y="384" width="16" height="8" fill="#efffff"/><circle cx="734" cy="388.9" r="8.5" fill="#282e94"/><circle cx="759.6" cy="387.3" r="8.5" fill="#282e94"/></svg>
<svg x="752" y="384" width="16" height="8" viewBox="752 384 16 8"><rect x="752" y="384" width="16" height="8" fill="#d9ffff"/><circle cx="759.6" cy="387.3" r="8.5" fill="#123a94"/></svg>
<svg x="768" y="384" width="16" height="8" viewBox="768 384 16 8"><rect x="768" y="384" width="16" height="8" fill="#eeffff"/><circle cx="759.6" cy="387.3" r="8.5" fill="#272f94"/><circle cx="784.9" cy="385.9" r="8.5" fill="#272f94"/></svg>
<svg x="784" y="384" width="16" height="8" viewBox="784 384 16 8"><rect x="784" y="384" width="16" height="8" fill="#eaffff"/><circle cx="784.9" cy="385.9" r="8.5" fill="#233194"/></svg>
<svg x="800" y="384" width="16" height="8" viewBox="800 384 16 8"><rect x="800" y="384" width="16" height="8" fill="#e0ffff"/><circle cx="811.3" cy="387.8" r="8.5" fill="#193694"/></svg>
<svg x="816" y="384" width="16" height="8" viewBox="816 384 16 8"><rect x="816" y="384" width="16" height="8" fill="#edffff"/><circle cx="811.3" cy="387.8" r="8.5" fill="#262f94"/><circle cx="835.8" cy="386.8" r="8.5" fill="#262f94"/></svg>
<svg x="832" y="384" width="16" height="8" viewBox="832 384 16 8"><rect x="832" y="384" width="16" height="8" fill="#e2ffff"/><circle cx="835.8" cy="386.8" r="8.5" fill="#1b3594"/></svg>
<svg x="848" y="384" width="16" height="8" viewBox="848 384 16 8"><rect x="848" y="384" width="16" height="8" fill="#e2ffff"/><circle cx="860" cy="385.9" r="8.5" fill="#1b3594"/></svg>
<svg x="864" y="384" width="16" height="8" viewBox="864 384 16 8"><rect x="864" y="384" width="16" height="8" fill="#eeffff"/><circle cx="860" cy="385.9" r="8.5" fill="#272f94"/><circle cx="884.1" cy="385.1" r="8.5" fill="#272f94"/></svg>
<svg x="880" y="384" width="16" height="8" viewBox="880 384 16 8"><rect x="880" y="384" width="16" height="8" fill="#e3ffff"/><circle cx="884.1" cy="385.1" r="8.5" fill="#1c3494"/></svg>
<svg x="896" y="384" width="16" height="8" viewBox="896 384 16 8"><rect x="896" y="384" width="16" height="8" fill="#e4ffff"/><circle cx="908" cy="384.4" r="8.5" fill="#1d3494"/></svg>
<svg x="912" y="384" width="16" height="8" viewBox="912 384 16 8"><rect x="912" y="384" width="16" height="8" fill="#f0ffff"/><circle cx="908" cy="384.4" r="8.5" fill="#292e94"/><circle cx="931.8" cy="383.7" r="8.5" fill="#292e94"/></svg>
<svg x="928" y="384" width="16" height="8" viewBox="928 384 16 8"><rect x="928" y="384" width="16" height="8" fill="#e6ffff"/><circle cx="931.8" cy="383.7" r="8.5" fill="#1f3394"/></svg>
<svg x="64" y="392" width="16" height="8" viewBox="64 392 16 8"><rect x="64" y="392" width="16" height="8" fill="#fffcff"/><circle cx="83.1" cy="405.2" r="8.5" fill="#5f5c43"/></svg>
<svg x="80" y="392" width="16" height="8" viewBox="80 392 16 8"><rect x="80" y="392" width="16" height="8" fill="#fff4ff"/><circle cx="83.1" cy="405.2" r="8.5" fill="#705343"/><circle cx="90.5" cy="383.7" r="8.5" fill="#705343"/></svg>
<svg x="96" y="392" width="16" height="8" viewBox="96 392 16 8"><rect x="96" y="392" width="16" height="8" fill="#fff4ff"/><circle cx="106.6" cy="405.7" r="8.5" fill="#6f5443"/><circle cx="114.3" cy="384.4" r="8.5" fill="#6f5443"/></svg>
<svg x="112" y="392" width="16" height="8" viewBox="112 392 16 8"><rect x="112" y="392" width="16" height="8" fill="#fffbff"/><circle cx="106.6" cy="405.7" r="8.5" fill="#615a43"/><circle cx="130.1" cy="406.2" r="8.5" fill="#615a43"/><circle cx="114.3" cy="384.4" r="8.5" fill="#615a43"/></svg>
<svg x="128" y="392" width="16" height="8" viewBox="128 392 16 8"><rect x="128" y="392" width="16" height="8" fill="#fff5ff"/><circle cx="130.1" cy="406.2" r="8.5" fill="#6d5543"/><circle cx="138.2" cy="385.1" r="8.5" fill="#6d5543"/></svg>
<svg x="144" y="392" width="16" height="8" viewBox="144 392 16 8"><rect x="144" y="392" width="16" height="8" fill="#fff8ff"/><circle cx="153.8" cy="406.7" r="8.5" fill="#685743"/><circle cx="162.3" cy="385.9" r="8.5" fill="#685743"/></svg>
<svg x="160" y="392" width="16" height="8" viewBox="160 392 16 8"><rect x="160" y="392" width="16" height="8" fill="#fff8ff"/><circle cx="177.6" cy="407.4" r="8.5" fill="#685743"/><circle cx="162.3" cy="385.9" r="8.5" fill="#685743"/></svg>
<svg x="176" y="392" width="16" height="8" viewBox="176 392 16 8"><rect x="176" y="392" width="16" height="8" fill="#fff1ff"/><circle cx="177.6" cy="407.4" r="8.5" fill="#765043"/><circle cx="186.5" cy="386.8" r="8.5" fill="#765043"/></svg>
<svg x="192" y="392" width="16" height="8" viewBox="192 392 16 8"><rect x="192" y="392" width="16" height="8" fill="#f8ffff"/><circle cx="201.5" cy="408.2" r="8.5" fill="#536243"/><circle cx="186.5" cy="386.8" r="8.5" fill="#536243"/><circle cx="211" cy="387.8" r="8.5" fill="#6a8a00"/></svg>
<svg x="208" y="392" width="16" height="8" viewBox="208 392 16 8"><rect x="208" y="392" width="16" height="8" fill="#e5ffff"/><circle cx="226.9" cy="406.3" r="8.5" fill="#3f6c43"/><circle cx="211" cy="387.8" r="8.5" fill="#569400"/></svg>
<svg x="224" y="392" width="16" height="8" viewBox="224 392 16 8"><circle cx="226.9" cy="406.3" r="8.5" fill="#595e43"/><circle cx="237.4" cy="385.9" r="8.5" fill="#708700"/></svg>
<svg x="240" y="392" width="16" height="8" viewBox="240 392 16 8"><rect x="240" y="392" width="16" height="8" fill="#f5ffff"/><circle cx="251.5" cy="407.2" r="8.5" fill="#678c00"/><circle cx="237.4" cy="385.9" r="8.5" fill="#678c00"/><circle cx="262.7" cy="387.3" r="8.5" fill="#678c00"/></svg>
<svg x="256" y="392" width="16" height="8" viewBox="256 392 16 8"><rect x="256" y="392" width="16" height="8" fill="#e0ffff"/><circle cx="251.5" cy="407.2" r="8.5" fill="#529600"/><circle cx="262.7" cy="387.3" r="8.5" fill="#529600"/></svg>
<svg x="272" y="392" width="16" height="8" viewBox="272 392 16 8"><rect x="272" y="392" width="16" height="8" fill="#e5ffff"/><circle cx="276.3" cy="408.3" r="8.5" fill="#579400"/><circle cx="288.3" cy="388.9" r="8.5" fill="#579400"/></svg>
<svg x="288" y="392" width="16" height="8" viewBox="288 392 16 8"><rect x="288" y="392" width="16" height="8" fill="#e3ffff"/><circle cx="288.3" cy="388.9" r="8.5" fill="#559500"/></svg>
<svg x="304" y="392" width="16" height="8" viewBox="304 392 16 8"><rect x="304" y="392" width="16" height="8" fill="#b5ffff"/><circle cx="314.4" cy="391" r="8.5" fill="#27ac00"/></svg>
<svg x="320" y="392" width="16" height="8" viewBox="320 392 16 8"><rect x="320" y="392" width="16" height="8" fill="#fffcff"/><circle cx="314.4" cy="391" r="8.5" fill="#778300"/><circle cx="341.1" cy="393.6" r="8.5" fill="#acaa80"/></svg>
<svg x="336" y="392" width="16" height="8" viewBox="336 392 16 8"><rect x="336" y="392" width="16" height="8" fill="#ffdbff"/><circle cx="341.1" cy="393.6" r="8.5" fill="#ed8980"/></svg>
<svg x="352" y="392" width="16" height="8" viewBox="352 392 16 8"><rect x="352" y="392" width="16" height="8" fill="#ffeaff"/><circle cx="368.6" cy="396.9" r="8.5" fill="#cf9880"/></svg>
<svg x="368" y="392" width="16" height="8" viewBox="368 392 16 8"><rect x="368" y="392" width="16" height="8" fill="#ffe7ff"/><circle cx="368.6" cy="396.9" r="8.5" fill="#d69580"/></svg>
<svg x="384" y="392" width="16" height="8" viewBox="384 392 16 8"><rect x="384" y="392" width="16" height="8" fill="#ffeeff"/><circle cx="402.1" cy="397.3" r="8.5" fill="#c79d80"/></svg>
<svg x="400" y="392" width="16" height="8" viewBox="400 392 16 8"><rect x="400" y="392" width="16" height="8" fill="#ffe2ff"/><circle cx="402.1" cy="397.3" r="8.5" fill="#de9180"/></svg>
<svg x="416" y="392" width="16" height="8" viewBox="416 392 16 8"><rect x="416" y="392" width="16" height="8" fill="#fffeff"/><circle cx="421.6" cy="384.4" r="8.5" fill="#a9ac80"/></svg>
<svg x="592" y="392" width="16" height="8" viewBox="592 392 16 8"><rect x="592" y="392" width="16" height="8" fill="#fcffff"/><circle cx="600.7" cy="384.4" r="8.5" fill="#5d4cd0"/></svg>
<svg x="608" y="392" width="16" height="8" viewBox="608 392 16 8"><rect x="608" y="392" width="16" height="8" fill="#c4ffff"/><circle cx="620.2" cy="397.3" r="8.5" fill="#2568d0"/></svg>
<svg x="624" y="392" width="16" height="8" viewBox="624 392 16 8"><rect x="624" y="392" width="16" height="8" fill="#eaffff"/><circle cx="620.2" cy="397.3" r="8.5" fill="#4b55d0"/></svg>
<svg x="640" y="392" width="16" height="8" viewBox="640 392 16 8"><rect x="640" y="392" width="16" height="8" fill="#f3ffff"/><circle cx="653.7" cy="396.9" r="8.5" fill="#21276c"/></svg>
<svg x="656" y="392" width="16" height="8" viewBox="656 392 16 8"><rect x="656" y="392" width="16" height="8" fill="#f8ffff"/><circle cx="653.7" cy="396.9" r="8.5" fill="#26246c"/></svg>
<svg x="672" y="392" width="16" height="8" viewBox="672 392 16 8"><rect x="672" y="392" width="16" height="8" fill="#dcffff"/><circle cx="681.2" cy="393.6" r="8.5" fill="#153894"/></svg>
<svg x="688" y="392" width="16" height="8" viewBox="688 392 16 8"><rect x="688" y="392" width="16" height="8" fill="#f7ffff"/><circle cx="681.2" cy="393.6" r="8.5" fill="#302a94"/><circle cx="707.9" cy="391" r="8.5" fill="#302a94"/></svg>
<svg x="704" y="392" width="16" height="8" viewBox="704 392 16 8"><rect x="704" y="392" width="16" height="8" fill="#e8ffff"/><circle cx="707.9" cy="391" r="8.5" fill="#213294"/></svg>
<svg x="720" y="392" width="16" height="8" viewBox="720 392 16 8"><rect x="720" y="392" width="16" height="8" fill="#f3ffff"/><circle cx="734" cy="388.9" r="8.5" fill="#2c2c94"/></svg>
<svg x="736" y="392" width="16" height="8" viewBox="736 392 16 8"><rect x="736" y="392" width="16" height="8" fill="#f9ffff"/><circle cx="734" cy="388.9" r="8.5" fill="#322994"/><circle cx="746" cy="408.3" r="8.5" fill="#322994"/></svg>
<svg x="752" y="392" width="16" height="8" viewBox="752 392 16 8"><rect x="752" y="392" width="16" height="8" fill="#f4ffff"/><circle cx="759.6" cy="387.3" r="8.5" fill="#2d2c94"/><circle cx="770.8" cy="407.2" r="8.5" fill="#2d2c94"/></svg>
<svg x="768" y="392" width="16" height="8" viewBox="768 392 16 8"><rect x="768" y="392" width="16" height="8" fill="#fbffff"/><circle cx="784.9" cy="385.9" r="8.5" fill="#342894"/><circle cx="770.8" cy="407.2" r="8.5" fill="#342894"/></svg>
<svg x="784" y="392" width="16" height="8" viewBox="784 392 16 8"><rect x="784" y="392" width="16" height="8" fill="#f6ffff"/><circle cx="784.9" cy="385.9" r="8.5" fill="#2f2b94"/><circle cx="795.4" cy="406.3" r="8.5" fill="#2f2b94"/></svg>
<svg x="800" y="392" width="16" height="8" viewBox="800 392 16 8"><rect x="800" y="392" width="16" height="8" fill="#f3ffff"/><circle cx="811.3" cy="387.8" r="8.5" fill="#2c2c94"/><circle cx="795.4" cy="406.3" r="8.5" fill="#2c2c94"/></svg>
<svg x="816" y="392" width="16" height="8" viewBox="816 392 16 8"><rect x="816" y="392" width="16" height="8" fill="#fdffff"/><circle cx="811.3" cy="387.8" r="8.5" fill="#362794"/><circle cx="835.8" cy="386.8" r="8.5" fill="#362794"/><circle cx="820.8" cy="408.2" r="8.5" fill="#362794"/></svg>
<svg x="832" y="392" width="16" height="8" viewBox="832 392 16 8"><rect x="832" y="392" width="16" height="8" fill="#f6ffff"/><circle cx="835.8" cy="386.8" r="8.5" fill="#2f2b94"/><circle cx="844.7" cy="407.4" r="8.5" fill="#2f2b94"/></svg>
<svg x="848" y="392" width="16" height="8" viewBox="848 392 16 8"><rect x="848" y="392" width="16" height="8" fill="#faffff"/><circle cx="860" cy="385.9" r="8.5" fill="#332994"/><circle cx="844.7" cy="407.4" r="8.5" fill="#332994"/><circle cx="868.5" cy="406.7" r="8.5" fill="#332994"/></svg>
<svg x="864" y="392" width="16" height="8" viewBox="864 392 16 8"><rect x="864" y="392" width="16" height="8" fill="#fbffff"/><circle cx="860" cy="385.9" r="8.5" fill="#342894"/><circle cx="884.1" cy="385.1" r="8.5" fill="#342894"/><circle cx="868.5" cy="406.7" r="8.5" fill="#342894"/></svg>
<svg x="880" y="392" width="16" height="8" viewBox="880 392 16 8"><rect x="880" y="392" width="16" height="8" fill="#f8ffff"/><circle cx="884.1" cy="385.1" r="8.5" fill="#312a94"/><circle cx="892.2" cy="406.2" r="8.5" fill="#312a94"/></svg>
<svg x="896" y="392" width="16" height="8" viewBox="896 392 16 8"><rect x="896" y="392" width="16" height="8" fill="#fdffff"/><circle cx="908" cy="384.4" r="8.5" fill="#362794"/><circle cx="892.2" cy="406.2" r="8.5" fill="#362794"/><circle cx="915.7" cy="405.7" r="8.5" fill="#362794"/></svg>
<svg x="912" y="392" width="16" height="8" viewBox="912 392 16 8"><rect x="912" y="392" width="16" height="8" fill="#f9ffff"/><circle cx="915.7" cy="405.7" r="8.5" fill="#322994"/></svg>
<svg x="928" y="392" width="16" height="8" viewBox="928 392 16 8"><rect x="928" y="392" width="16" height="8" fill="#f6ffff"/><circle cx="931.8" cy="383.7" r="8.5" fill="#2f2b94"/><circle cx="939.2" cy="405.2" r="8.5" fill="#2f2b94"/></svg>
<svg x="944" y="392" width="16" height="8" viewBox="944 392 16 8"><rect x="944" y="392" width="16" height="8" fill="#feffff"/><circle cx="939.2" cy="405.2" r="8.5" fill="#372694"/></svg>
<svg x="64" y="400" width="16" height="8" viewBox="64 400 16 8"><rect x="64" y="400" width="16" height="8" fill="#ffedff"/><circle cx="83.1" cy="405.2" r="8.5" fill="#7d4c43"/></svg>
<svg x="80" y="400" width="16" height="8" viewBox="80 400 16 8"><rect x="80" y="400" width="16" height="8" fill="#ffd7ff"/><circle cx="83.1" cy="405.2" r="8.5" fill="#a93643"/></svg>
<svg x="96" y="400" width="16" height="8" viewBox="96 400 16 8"><rect x="96" y="400" width="16" height="8" fill="#ffcfff"/><circle cx="106.6" cy="405.7" r="8.5" fill="#b82e43"/></svg>
<svg x="112" y="400" width="16" height="8" viewBox="112 400 16 8"><rect x="112" y="400" width="16" height="8" fill="#ffe2ff"/><circle cx="106.6" cy="405.7" r="8.5" fill="#934143"/><circle cx="130.1" cy="406.2" r="8.5" fill="#934143"/></svg>
<svg x="128" y="400" width="16" height="8" viewBox="128 400 16 8"><rect x="128" y="400" width="16" height="8" fill="#ffdbff"/><circle cx="130.1" cy="406.2" r="8.5" fill="#a03a43"/></svg>
<svg x="144" y="400" width="16" height="8" viewBox="144 400 16 8"><rect x="144" y="400" width="16" height="8" fill="#ffcdff"/><circle cx="153.8" cy="406.7" r="8.5" fill="#bb2d43"/></svg>
<svg x="160" y="400" width="16" height="8" viewBox="160 400 16 8"><rect x="160" y="400" width="16" height="8" fill="#ffe6ff"/><circle cx="153.8" cy="406.7" r="8.5" fill="#8b4543"/><circle cx="177.6" cy="407.4" r="8.5" fill="#8b4543"/></svg>
<svg x="176" y="400" width="16" height="8" viewBox="176 400 16 8"><rect x="176" y="400" width="16" height="8" fill="#ffdfff"/><circle cx="177.6" cy="407.4" r="8.5" fill="#983e43"/></svg>
<svg x="192" y="400" width="16" height="8" viewBox="192 400 16 8"><rect x="192" y="400" width="16" height="8" fill="#ffd1ff"/><circle cx="201.5" cy="408.2" r="8.5" fill="#b43043"/></svg>
<svg x="208" y="400" width="16" height="8" viewBox="208 400 16 8"><rect x="208" y="400" width="16" height="8" fill="#ffeaff"/><circle cx="201.5" cy="408.2" r="8.5" fill="#824a43"/><circle cx="226.9" cy="406.3" r="8.5" fill="#824a43"/></svg>
<svg x="224" y="400" width="16" height="8" viewBox="224 400 16 8"><rect x="224" y="400" width="16" height="8" fill="#ffd8ff"/><circle cx="226.9" cy="406.3" r="8.5" fill="#a63743"/></svg>
<svg x="240" y="400" width="16" height="8" viewBox="240 400 16 8"><rect x="240" y="400" width="16" height="8" fill="#acffff"/><circle cx="251.5" cy="407.2" r="8.5" fill="#1db100"/></svg>
<svg x="256" y="400" width="16" height="8" viewBox="256 400 16 8"><rect x="256" y="400" width="16" height="8" fill="#d9ffff"/><circle cx="251.5" cy="407.2" r="8.5" fill="#4b9a00"/><circle cx="276.3" cy="408.3" r="8.5" fill="#4b9a00"/></svg>
<svg x="272" y="400" width="16" height="8" viewBox="272 400 16 8"><rect x="272" y="400" width="16" height="8" fill="#b2ffff"/><circle cx="276.3" cy="408.3" r="8.5" fill="#24ae00"/></svg>
<svg x="288" y="400" width="16" height="8" viewBox="288 400 16 8"><rect x="288" y="400" width="16" height="8" fill="#ccffff"/><circle cx="301.5" cy="409.7" r="8.5" fill="#3ea000"/></svg>
<svg x="304" y="400" width="16" height="8" viewBox="304 400 16 8"><rect x="304" y="400" width="16" height="8" fill="#e9ffff"/><circle cx="301.5" cy="409.7" r="8.5" fill="#5b9200"/><circle cx="327.2" cy="411.5" r="8.5" fill="#5b9200"/></svg>
<svg x="320" y="400" width="16" height="8" viewBox="320 400 16 8"><rect x="320" y="400" width="16" height="8" fill="#cfffff"/><circle cx="327.2" cy="411.5" r="8.5" fill="#419f00"/><circle cx="341.1" cy="393.6" r="8.5" fill="#76c680"/></svg>
<svg x="336" y="400" width="16" height="8" viewBox="336 400 16 8"><rect x="336" y="400" width="16" height="8" fill="#fff8ff"/><circle cx="353.5" cy="413.8" r="8.5" fill="#b4a680"/><circle cx="341.1" cy="393.6" r="8.5" fill="#b4a680"/></svg>
<svg x="352" y="400" width="16" height="8" viewBox="352 400 16 8"><rect x="352" y="400" width="16" height="8" fill="#fff0ff"/><circle cx="353.5" cy="413.8" r="8.5" fill="#c49e80"/><circle cx="368.6" cy="396.9" r="8.5" fill="#c49e80"/></svg>
<svg x="368" y="400" width="16" height="8" viewBox="368 400 16 8"><rect x="368" y="400" width="16" height="8" fill="#ffedff"/><circle cx="384.4" cy="412.8" r="8.5" fill="#c99c80"/><circle cx="368.6" cy="396.9" r="8.5" fill="#c99c80"/></svg>
<svg x="384" y="400" width="16" height="8" viewBox="384 400 16 8"><rect x="384" y="400" width="16" height="8" fill="#fff0ff"/><circle cx="384.4" cy="412.8" r="8.5" fill="#c39f80"/><circle cx="402.1" cy="397.3" r="8.5" fill="#c39f80"/></svg>
<svg x="400" y="400" width="16" height="8" viewBox="400 400 16 8"><rect x="400" y="400" width="16" height="8" fill="#ffefff"/><circle cx="402.1" cy="397.3" r="8.5" fill="#c59e80"/></svg>
<svg x="608" y="400" width="16" height="8" viewBox="608 400 16 8"><rect x="608" y="400" width="16" height="8" fill="#deffff"/><circle cx="620.2" cy="397.3" r="8.5" fill="#3f5bd0"/></svg>
<svg x="624" y="400" width="16" height="8" viewBox="624 400 16 8"><rect x="624" y="400" width="16" height="8" fill="#f3ffff"/><circle cx="620.2" cy="397.3" r="8.5" fill="#5450d0"/><circle cx="637.9" cy="412.8" r="8.5" fill="#21266c"/></svg>
<svg x="640" y="400" width="16" height="8" viewBox="640 400 16 8"><rect x="640" y="400" width="16" height="8" fill="#f7ffff"/><circle cx="637.9" cy="412.8" r="8.5" fill="#25246c"/><circle cx="653.7" cy="396.9" r="8.5" fill="#25246c"/></svg>
<svg x="656" y="400" width="16" height="8" viewBox="656 400 16 8"><rect x="656" y="400" width="16" height="8" fill="#f6ffff"/><circle cx="653.7" cy="396.9" r="8.5" fill="#24256c"/><circle cx="668.8" cy="413.8" r="8.5" fill="#2f2b94"/></svg>
<svg x="672" y="400" width="16" height="8" viewBox="672 400 16 8"><rect x="672" y="400" width="16" height="8" fill="#faffff"/><circle cx="681.2" cy="393.6" r="8.5" fill="#332994"/><circle cx="668.8" cy="413.8" r="8.5" fill="#332994"/><circle cx="695.1" cy="411.5" r="8.5" fill="#332994"/></svg>
<svg x="688" y="400" width="16" height="8" viewBox="688 400 16 8"><rect x="688" y="400" width="16" height="8" fill="#eeffff"/><circle cx="695.1" cy="411.5" r="8.5" fill="#272f94"/></svg>
<svg x="704" y="400" width="16" height="8" viewBox="704 400 16 8"><rect x="704" y="400" width="16" height="8" fill="#f4ffff"/><circle cx="720.8" cy="409.7" r="8.5" fill="#2d2c94"/></svg>
<svg x="720" y="400" width="16" height="8" viewBox="720 400 16 8"><rect x="720" y="400" width="16" height="8" fill="#f1ffff"/><circle cx="720.8" cy="409.7" r="8.5" fill="#2a2d94"/></svg>
<svg x="736" y="400" width="16" height="8" viewBox="736 400 16 8"><rect x="736" y="400" width="16" height="8" fill="#e1ffff"/><circle cx="746" cy="408.3" r="8.5" fill="#1a3594"/></svg>
<svg x="752" y="400" width="16" height="8" viewBox="752 400 16 8"><rect x="752" y="400" width="16" height="8" fill="#f1ffff"/><circle cx="746" cy="408.3" r="8.5" fill="#2a2d94"/><circle cx="770.8" cy="407.2" r="8.5" fill="#2a2d94"/></svg>
<svg x="768" y="400" width="16" height="8" viewBox="768 400 16 8"><rect x="768" y="400" width="16" height="8" fill="#e6ffff"/><circle cx="770.8" cy="407.2" r="8.5" fill="#1f3394"/></svg>
<svg x="784" y="400" width="16" height="8" viewBox="784 400 16 8"><rect x="784" y="400" width="16" height="8" fill="#e1ffff"/><circle cx="795.4" cy="406.3" r="8.5" fill="#1a3594"/></svg>
<svg x="800" y="400" width="16" height="8" viewBox="800 400 16 8"><rect x="800" y="400" width="16" height="8" fill="#f2ffff"/><circle cx="795.4" cy="406.3" r="8.5" fill="#2b2d94"/><circle cx="820.8" cy="408.2" r="8.5" fill="#2b2d94"/></svg>
<svg x="816" y="400" width="16" height="8" viewBox="816 400 16 8"><rect x="816" y="400" width="16" height="8" fill="#e3ffff"/><circle cx="820.8" cy="408.2" r="8.5" fill="#1c3494"/></svg>
<svg x="832" y="400" width="16" height="8" viewBox="832 400 16 8"><rect x="832" y="400" width="16" height="8" fill="#e5ffff"/><circle cx="844.7" cy="407.4" r="8.5" fill="#1e3394"/></svg>
<svg x="848" y="400" width="16" height="8" viewBox="848 400 16 8"><rect x="848" y="400" width="16" height="8" fill="#eeffff"/><circle cx="844.7" cy="407.4" r="8.5" fill="#272f94"/><circle cx="868.5" cy="406.7" r="8.5" fill="#272f94"/></svg>
<svg x="864" y="400" width="16" height="8" viewBox="864 400 16 8"><rect x="864" y="400" width="16" height="8" fill="#e2ffff"/><circle cx="868.5" cy="406.7" r="8.5" fill="#1b3594"/></svg>
<svg x="880" y="400" width="16" height="8" viewBox="880 400 16 8"><rect x="880" y="400" width="16" height="8" fill="#e3ffff"/><circle cx="892.2" cy="406.2" r="8.5" fill="#1c3594"/></svg>
<svg x="896" y="400" width="16" height="8" viewBox="896 400 16 8"><rect x="896" y="400" width="16" height="8" fill="#ebffff"/><circle cx="892.2" cy="406.2" r="8.5" fill="#243094"/><circle cx="915.7" cy="405.7" r="8.5" fill="#243094"/></svg>
<svg x="912" y="400" width="16" height="8" viewBox="912 400 16 8"><rect x="912" y="400" width="16" height="8" fill="#e3ffff"/><circle cx="915.7" cy="405.7" r="8.5" fill="#1c3494"/></svg>
<svg x="928" y="400" width="16" height="8" viewBox="928 400 16 8"><rect x="928" y="400" width="16" height="8" fill="#e0ffff"/><circle cx="939.2" cy="405.2" r="8.5" fill="#193694"/></svg>
<svg x="944" y="400" width="16" height="8" viewBox="944 400 16 8"><rect x="944" y="400" width="16" height="8" fill="#f7ffff"/><circle cx="939.2" cy="405.2" r="8.5" fill="#302a94"/></svg>
<svg x="64" y="408" width="16" height="8" viewBox="64 408 16 8"><rect x="64" y="408" width="16" height="8" fill="#fff8ff"/><circle cx="83.1" cy="405.2" r="8.5" fill="#685743"/></svg>
<svg x="80" y="408" width="16" height="8" viewBox="80 408 16 8"><rect x="80" y="408" width="16" height="8" fill="#ffe8ff"/><circle cx="83.1" cy="405.2" r="8.5" fill="#864843"/></svg>
<svg x="96" y="408" width="16" height="8" viewBox="96 408 16 8"><rect x="96" y="408" width="16" height="8" fill="#ffe1ff"/><circle cx="106.6" cy="405.7" r="8.5" fill="#954043"/></svg>
<svg x="112" y="408" width="16" height="8" viewBox="112 408 16 8"><rect x="112" y="408" width="16" height="8" fill="#ffefff"/><circle cx="106.6" cy="405.7" r="8.5" fill="#784f43"/><circle cx="130.1" cy="406.2" r="8.5" fill="#784f43"/></svg>
<svg x="128" y="408" width="16" height="8" viewBox="128 408 16 8"><rect x="128" y="408" width="16" height="8" fill="#ffe6ff"/><circle cx="130.1" cy="406.2" r="8.5" fill="#8b4543"/></svg>
<svg x="144" y="408" width="16" height="8" viewBox="144 408 16 8"><rect x="144" y="408" width="16" height="8" fill="#ffd9ff"/><circle cx="153.8" cy="406.7" r="8.5" fill="#a43843"/></svg>
<svg x="160" y="408" width="16" height="8" viewBox="160 408 16 8"><rect x="160" y="408" width="16" height="8" fill="#ffebff"/><circle cx="153.8" cy="406.7" r="8.5" fill="#824a43"/><circle cx="177.6" cy="407.4" r="8.5" fill="#824a43"/></svg>
<svg x="176" y="408" width="16" height="8" viewBox="176 408 16 8"><rect x="176" y="408" width="16" height="8" fill="#ffe2ff"/><circle cx="177.6" cy="407.4" r="8.5" fill="#934143"/></svg>
<svg x="192" y="408" width="16" height="8" viewBox="192 408 16 8"><rect x="192" y="408" width="16" height="8" fill="#ffcfff"/><circle cx="201.5" cy="408.2" r="8.5" fill="#b82e43"/></svg>
<svg x="208" y="408" width="16" height="8" viewBox="208 408 16 8"><rect x="208" y="408" width="16" height="8" fill="#fff1ff"/><circle cx="201.5" cy="408.2" r="8.5" fill="#755043"/><circle cx="226.9" cy="406.3" r="8.5" fill="#755043"/></svg>
<svg x="224" y="408" width="16" height="8" viewBox="224 408 16 8"><rect x="224" y="408" width="16" height="8" fill="#ffe4ff"/><circle cx="226.9" cy="406.3" r="8.5" fill="#8f4343"/></svg>
<svg x="240" y="408" width="16" height="8" viewBox="240 408 16 8"><rect x="240" y="408" width="16" height="8" fill="#b7ffff"/><circle cx="251.5" cy="407.2" r="8.5" fill="#28ab00"/></svg>
<svg x="256" y="408" width="16" height="8" viewBox="256 408 16 8"><rect x="256" y="408" width="16" height="8" fill="#dcffff"/><circle cx="251.5" cy="407.2" r="8.5" fill="#4e9800"/><circle cx="276.3" cy="408.3" r="8.5" fill="#4e9800"/></svg>
<svg x="272" y="408" width="16" height="8" viewBox="272 408 16 8"><rect x="272" y="408" width="16" height="8" fill="#afffff"/><circle cx="276.3" cy="408.3" r="8.5" fill="#21af00"/></svg>
<svg x="288" y="408" width="16" height="8" viewBox="288 408 16 8"><rect x="288" y="408" width="16" height="8" fill="#b7ffff"/><circle cx="301.5" cy="409.7" r="8.5" fill="#29ab00"/></svg>
<svg x="304" y="408" width="16" height="8" viewBox="304 408 16 8"><rect x="304" y="408" width="16" height="8" fill="#d4ffff"/><circle cx="301.5" cy="409.7" r="8.5" fill="#469c00"/><circle cx="327.2" cy="411.5" r="8.5" fill="#469c00"/></svg>
<svg x="320" y="408" width="16" height="8" viewBox="320 408 16 8"><rect x="320" y="408" width="16" height="8" fill="#94ffff"/><circle cx="327.2" cy="411.5" r="8.5" fill="#05bd00"/></svg>
<svg x="336" y="408" width="16" height="8" viewBox="336 408 16 8"><rect x="336" y="408" width="16" height="8" fill="#ffedff"/><circle cx="353.5" cy="413.8" r="8.5" fill="#c99b80"/></svg>
<svg x="352" y="408" width="16" height="8" viewBox="352 408 16 8"><rect x="352" y="408" width="16" height="8" fill="#ffe5ff"/><circle cx="353.5" cy="413.8" r="8.5" fill="#da9380"/></svg>
<svg x="368" y="408" width="16" height="8" viewBox="368 408 16 8"><rect x="368" y="408" width="16" height="8" fill="#ffe9ff"/><circle cx="384.4" cy="412.8" r="8.5" fill="#d09880"/></svg>
<svg x="384" y="408" width="16" height="8" viewBox="384 408 16 8"><rect x="384" y="408" width="16" height="8" fill="#ffe7ff"/><circle cx="384.4" cy="412.8" r="8.5" fill="#d59680"/></svg>
<svg x="624" y="408" width="16" height="8" viewBox="624 408 16 8"><rect x="624" y="408" width="16" height="8" fill="#f3ffff"/><circle cx="637.9" cy="412.8" r="8.5" fill="#21266c"/></svg>
<svg x="640" y="408" width="16" height="8" viewBox="640 408 16 8"><rect x="640" y="408" width="16" height="8" fill="#f8ffff"/><circle cx="637.9" cy="412.8" r="8.5" fill="#26246c"/></svg>
<svg x="656" y="408" width="16" height="8" viewBox="656 408 16 8"><rect x="656" y="408" width="16" height="8" fill="#e4ffff"/><circle cx="668.8" cy="413.8" r="8.5" fill="#1d3494"/></svg>
<svg x="672" y="408" width="16" height="8" viewBox="672 408 16 8"><rect x="672" y="408" width="16" height="8" fill="#f1ffff"/><circle cx="668.8" cy="413.8" r="8.5" fill="#2a2d94"/><circle cx="695.1" cy="411.5" r="8.5" fill="#2a2d94"/></svg>
<svg x="688" y="408" width="16" height="8" viewBox="688 408 16 8"><rect x="688" y="408" width="16" height="8" fill="#daffff"/><circle cx="695.1" cy="411.5" r="8.5" fill="#133994"/></svg>
<svg x="704" y="408" width="16" height="8" viewBox="704 408 16 8"><rect x="704" y="408" width="16" height="8" fill="#eeffff"/><circle cx="720.8" cy="409.7" r="8.5" fill="#272f94"/></svg>
<svg x="720" y="408" width="16" height="8" viewBox="720 408 16 8"><rect x="720" y="408" width="16" height="8" fill="#eaffff"/><circle cx="720.8" cy="409.7" r="8.5" fill="#233194"/></svg>
<svg x="736" y="408" width="16" height="8" viewBox="736 408 16 8"><rect x="736" y="408" width="16" height="8" fill="#e0ffff"/><circle cx="746" cy="408.3" r="8.5" fill="#193694"/></svg>
<svg x="752" y="408" width="16" height="8" viewBox="752 408 16 8"><rect x="752" y="408" width="16" height="8" fill="#f3ffff"/><circle cx="746" cy="408.3" r="8.5" fill="#2c2c94"/><circle cx="770.8" cy="407.2" r="8.5" fill="#2c2c94"/></svg>
<svg x="768" y="408" width="16" height="8" viewBox="768 408 16 8"><rect x="768" y="408" width="16" height="8" fill="#eaffff"/><circle cx="770.8" cy="407.2" r="8.5" fill="#233194"/></svg>
<svg x="784" y="408" width="16" height="8" viewBox="784 408 16 8"><rect x="784" y="408" width="16" height="8" fill="#eaffff"/><circle cx="795.4" cy="406.3" r="8.5" fill="#233194"/></svg>
<svg x="800" y="408" width="16" height="8" viewBox="800 408 16 8"><rect x="800" y="408" width="16" height="8" fill="#f5ffff"/><circle cx="795.4" cy="406.3" r="8.5" fill="#2e2b94"/><circle cx="820.8" cy="408.2" r="8.5" fill="#2e2b94"/></svg>
<svg x="816" y="408" width="16" height="8" viewBox="816 408 16 8"><rect x="816" y="408" width="16" height="8" fill="#e2ffff"/><circle cx="820.8" cy="408.2" r="8.5" fill="#1b3594"/></svg>
<svg x="832" y="408" width="16" height="8" viewBox="832 408 16 8"><rect x="832" y="408" width="16" height="8" fill="#e8ffff"/><circle cx="844.7" cy="407.4" r="8.5" fill="#213294"/></svg>
<svg x="848" y="408" width="16" height="8" viewBox="848 408 16 8"><rect x="848" y="408" width="16" height="8" fill="#f3ffff"/><circle cx="844.7" cy="407.4" r="8.5" fill="#2c2c94"/><circle cx="868.5" cy="406.7" r="8.5" fill="#2c2c94"/></svg>
<svg x="864" y="408" width="16" height="8" viewBox="864 408 16 8"><rect x="864" y="408" width="16" height="8" fill="#e8ffff"/><circle cx="868.5" cy="406.7" r="8.5" fill="#213294"/></svg>
<svg x="880" y="408" width="16" height="8" viewBox="880 408 16 8"><rect x="880" y="408" width="16" height="8" fill="#ebffff"/><circle cx="892.2" cy="406.2" r="8.5" fill="#243094"/></svg>
<svg x="896" y="408" width="16" height="8" viewBox="896 408 16 8"><rect x="896" y="408" width="16" height="8" fill="#f5ffff"/><circle cx="892.2" cy="406.2" r="8.5" fill="#2e2b94"/><circle cx="915.7" cy="405.7" r="8.5" fill="#2e2b94"/></svg>
<svg x="912" y="408" width="16" height="8" viewBox="912 408 16 8"><rect x="912" y="408" width="16" height="8" fill="#edffff"/><circle cx="915.7" cy="405.7" r="8.5" fill="#262f94"/></svg>
<svg x="928" y="408" width="16" height="8" viewBox="928 408 16 8"><rect x="928" y="408" width="16" height="8" fill="#edffff"/><circle cx="939.2" cy="405.2" r="8.5" fill="#262f94"/></svg>
<svg x="944" y="408" width="16" height="8" viewBox="944 408 16 8"><rect x="944" y="408" width="16" height="8" fill="#fcffff"/><circle cx="939.2" cy="405.2" r="8.5" fill="#352794"/></svg>
<svg x="64" y="416" width="16" height="8" viewBox="64 416 16 8"><rect x="64" y="416" width="16" height="8" fill="#ffe9ff"/><circle cx="76.9" cy="427" r="8.5" fill="#844943"/></svg>
<svg x="80" y="416" width="16" height="8" viewBox="80 416 16 8"><rect x="80" y="416" width="16" height="8" fill="#fff4ff"/><circle cx="76.9" cy="427" r="8.5" fill="#705343"/><circle cx="100" cy="427.3" r="8.5" fill="#705343"/></svg>
<svg x="96" y="416" width="16" height="8" viewBox="96 416 16 8"><rect x="96" y="416" width="16" height="8" fill="#ffe9ff"/><circle cx="100" cy="427.3" r="8.5" fill="#854843"/></svg>
<svg x="112" y="416" width="16" height="8" viewBox="112 416 16 8"><rect x="112" y="416" width="16" height="8" fill="#ffeaff"/><circle cx="123.2" cy="427.7" r="8.5" fill="#834943"/></svg>
<svg x="128" y="416" width="16" height="8" viewBox="128 416 16 8"><rect x="128" y="416" width="16" height="8" fill="#fff7ff"/><circle cx="123.2" cy="427.7" r="8.5" fill="#6a5643"/><circle cx="146.5" cy="428.1" r="8.5" fill="#6a5643"/></svg>
<svg x="144" y="416" width="16" height="8" viewBox="144 416 16 8"><rect x="144" y="416" width="16" height="8" fill="#ffefff"/><circle cx="146.5" cy="428.1" r="8.5" fill="#784f43"/></svg>
<svg x="160" y="416" width="16" height="8" viewBox="160 416 16 8"><rect x="160" y="416" width="16" height="8" fill="#ffedff"/><circle cx="169.9" cy="428.6" r="8.5" fill="#7d4c43"/></svg>
<svg x="176" y="416" width="16" height="8" viewBox="176 416 16 8"><rect x="176" y="416" width="16" height="8" fill="#fff9ff"/><circle cx="169.9" cy="428.6" r="8.5" fill="#655943"/><circle cx="193.4" cy="429.1" r="8.5" fill="#655943"/></svg>
<svg x="192" y="416" width="16" height="8" viewBox="192 416 16 8"><rect x="192" y="416" width="16" height="8" fill="#fff4ff"/><circle cx="193.4" cy="429.1" r="8.5" fill="#6f5343"/><circle cx="201.5" cy="408.2" r="8.5" fill="#6f5343"/></svg>
<svg x="208" y="416" width="16" height="8" viewBox="208 416 16 8"><rect x="208" y="416" width="16" height="8" fill="#ffe6ff"/><circle cx="218" cy="427.3" r="8.5" fill="#8c4543"/></svg>
<svg x="224" y="416" width="16" height="8" viewBox="224 416 16 8"><rect x="224" y="416" width="16" height="8" fill="#fff7ff"/><circle cx="218" cy="427.3" r="8.5" fill="#6a5643"/><circle cx="241.9" cy="427.9" r="8.5" fill="#6a5643"/></svg>
<svg x="240" y="416" width="16" height="8" viewBox="240 416 16 8"><rect x="240" y="416" width="16" height="8" fill="#fff1ff"/><circle cx="241.9" cy="427.9" r="8.5" fill="#765043"/></svg>
<svg x="256" y="416" width="16" height="8" viewBox="256 416 16 8"><rect x="256" y="416" width="16" height="8" fill="#ffedff"/><circle cx="266" cy="428.6" r="8.5" fill="#7d4c43"/></svg>
<svg x="272" y="416" width="16" height="8" viewBox="272 416 16 8"><rect x="272" y="416" width="16" height="8" fill="#f8ffff"/><circle cx="266" cy="428.6" r="8.5" fill="#536243"/><circle cx="290.5" cy="429.5" r="8.5" fill="#6a8a00"/><circle cx="276.3" cy="408.3" r="8.5" fill="#6a8a00"/></svg>
<svg x="288" y="416" width="16" height="8" viewBox="288 416 16 8"><rect x="288" y="416" width="16" height="8" fill="#e2ffff"/><circle cx="290.5" cy="429.5" r="8.5" fill="#549500"/><circle cx="301.5" cy="409.7" r="8.5" fill="#549500"/></svg>
<svg x="304" y="416" width="16" height="8" viewBox="304 416 16 8"><rect x="304" y="416" width="16" height="8" fill="#f2ffff"/><circle cx="315.2" cy="430.7" r="8.5" fill="#648d00"/><circle cx="301.5" cy="409.7" r="8.5" fill="#648d00"/><circle cx="327.2" cy="411.5" r="8.5" fill="#648d00"/></svg>
<svg x="320" y="416" width="16" height="8" viewBox="320 416 16 8"><rect x="320" y="416" width="16" height="8" fill="#ddffff"/><circle cx="315.2" cy="430.7" r="8.5" fill="#4f9800"/><circle cx="327.2" cy="411.5" r="8.5" fill="#4f9800"/></svg>
<svg x="336" y="416" width="16" height="8" viewBox="336 416 16 8"><rect x="336" y="416" width="16" height="8" fill="#fff6ff"/><circle cx="340.4" cy="432.2" r="8.5" fill="#837d00"/><circle cx="353.5" cy="413.8" r="8.5" fill="#b9a480"/></svg>
<svg x="352" y="416" width="16" height="8" viewBox="352 416 16 8"><rect x="352" y="416" width="16" height="8" fill="#fff1ff"/><circle cx="369" cy="430.4" r="8.5" fill="#8c7900"/><circle cx="353.5" cy="413.8" r="8.5" fill="#c1a080"/></svg>
<svg x="368" y="416" width="16" height="8" viewBox="368 416 16 8"><rect x="368" y="416" width="16" height="8" fill="#fffaff"/><circle cx="369" cy="430.4" r="8.5" fill="#7b8100"/><circle cx="384.4" cy="412.8" r="8.5" fill="#b0a880"/></svg>
<svg x="384" y="416" width="16" height="8" viewBox="384 416 16 8"><rect x="384" y="416" width="16" height="8" fill="#fff4ff"/><circle cx="384.4" cy="412.8" r="8.5" fill="#bba380"/></svg>
<svg x="624" y="416" width="16" height="8" viewBox="624 416 16 8"><rect x="624" y="416" width="16" height="8" fill="#f9ffff"/><circle cx="637.9" cy="412.8" r="8.5" fill="#27236c"/></svg>
<svg x="640" y="416" width="16" height="8" viewBox="640 416 16 8"><rect x="640" y="416" width="16" height="8" fill="#f9ffff"/><circle cx="637.9" cy="412.8" r="8.5" fill="#26246c"/><circle cx="653.3" cy="430.4" r="8.5" fill="#322994"/></svg>
<svg x="656" y="416" width="16" height="8" viewBox="656 416 16 8"><rect x="656" y="416" width="16" height="8" fill="#edffff"/><circle cx="668.8" cy="413.8" r="8.5" fill="#262f94"/><circle cx="653.3" cy="430.4" r="8.5" fill="#262f94"/></svg>
<svg x="672" y="416" width="16" height="8" viewBox="672 416 16 8"><rect x="672" y="416" width="16" height="8" fill="#f9ffff"/><circle cx="668.8" cy="413.8" r="8.5" fill="#322994"/><circle cx="695.1" cy="411.5" r="8.5" fill="#322994"/><circle cx="681.9" cy="432.2" r="8.5" fill="#322994"/></svg>
<svg x="688" y="416" width="16" height="8" viewBox="688 416 16 8"><rect x="688" y="416" width="16" height="8" fill="#f3ffff"/><circle cx="695.1" cy="411.5" r="8.5" fill="#2c2c94"/><circle cx="707.1" cy="430.7" r="8.5" fill="#2c2c94"/></svg>
<svg x="704" y="416" width="16" height="8" viewBox="704 416 16 8"><rect x="704" y="416" width="16" height="8" fill="#faffff"/><circle cx="720.8" cy="409.7" r="8.5" fill="#332994"/><circle cx="707.1" cy="430.7" r="8.5" fill="#332994"/></svg>
<svg x="720" y="416" width="16" height="8" viewBox="720 416 16 8"><rect x="720" y="416" width="16" height="8" fill="#f5ffff"/><circle cx="720.8" cy="409.7" r="8.5" fill="#2e2b94"/><circle cx="731.8" cy="429.5" r="8.5" fill="#2e2b94"/></svg>
<svg x="736" y="416" width="16" height="8" viewBox="736 416 16 8"><rect x="736" y="416" width="16" height="8" fill="#fcffff"/><circle cx="746" cy="408.3" r="8.5" fill="#352894"/><circle cx="731.8" cy="429.5" r="8.5" fill="#352894"/><circle cx="756.3" cy="428.6" r="8.5" fill="#352894"/></svg>
<svg x="752" y="416" width="16" height="8" viewBox="752 416 16 8"><rect x="752" y="416" width="16" height="8" fill="#f4ffff"/><circle cx="756.3" cy="428.6" r="8.5" fill="#2d2c94"/></svg>
<svg x="768" y="416" width="16" height="8" viewBox="768 416 16 8"><rect x="768" y="416" width="16" height="8" fill="#f3ffff"/><circle cx="780.4" cy="427.9" r="8.5" fill="#2c2c94"/></svg>
<svg x="784" y="416" width="16" height="8" viewBox="784 416 16 8"><rect x="784" y="416" width="16" height="8" fill="#faffff"/><circle cx="780.4" cy="427.9" r="8.5" fill="#332994"/><circle cx="804.3" cy="427.3" r="8.5" fill="#332994"/></svg>
<svg x="800" y="416" width="16" height="8" viewBox="800 416 16 8"><rect x="800" y="416" width="16" height="8" fill="#f0ffff"/><circle cx="804.3" cy="427.3" r="8.5" fill="#292e94"/></svg>
<svg x="816" y="416" width="16" height="8" viewBox="816 416 16 8"><rect x="816" y="416" width="16" height="8" fill="#f6ffff"/><circle cx="820.8" cy="408.2" r="8.5" fill="#2f2b94"/><circle cx="828.9" cy="429.1" r="8.5" fill="#2f2b94"/></svg>
<svg x="832" y="416" width="16" height="8" viewBox="832 416 16 8"><rect x="832" y="416" width="16" height="8" fill="#fcffff"/><circle cx="828.9" cy="429.1" r="8.5" fill="#352894"/><circle cx="852.4" cy="428.6" r="8.5" fill="#352894"/></svg>
<svg x="848" y="416" width="16" height="8" viewBox="848 416 16 8"><rect x="848" y="416" width="16" height="8" fill="#f4ffff"/><circle cx="852.4" cy="428.6" r="8.5" fill="#2d2c94"/></svg>
<svg x="864" y="416" width="16" height="8" viewBox="864 416 16 8"><rect x="864" y="416" width="16" height="8" fill="#f3ffff"/><circle cx="875.8" cy="428.1" r="8.5" fill="#2c2c94"/></svg>
<svg x="880" y="416" width="16" height="8" viewBox="880 416 16 8"><rect x="880" y="416" width="16" height="8" fill="#faffff"/><circle cx="875.8" cy="428.1" r="8.5" fill="#332994"/><circle cx="899.1" cy="427.7" r="8.5" fill="#332994"/></svg>
<svg x="896" y="416" width="16" height="8" viewBox="896 416 16 8"><rect x="896" y="416" width="16" height="8" fill="#f3ffff"/><circle cx="899.1" cy="427.7" r="8.5" fill="#2c2c94"/></svg>
<svg x="912" y="416" width="16" height="8" viewBox="912 416 16 8"><rect x="912" y="416" width="16" height="8" fill="#eeffff"/><circle cx="922.3" cy="427.3" r="8.5" fill="#272f94"/></svg>
<svg x="928" y="416" width="16" height="8" viewBox="928 416 16 8"><rect x="928" y="416" width="16" height="8" fill="#f7ffff"/><circle cx="922.3" cy="427.3" r="8.5" fill="#302a94"/><circle cx="945.4" cy="427" r="8.5" fill="#302a94"/></svg>
<svg x="944" y="416" width="16" height="8" viewBox="944 416 16 8"><rect x="944" y="416" width="16" height="8" fill="#f3ffff"/><circle cx="945.4" cy="427" r="8.5" fill="#2c2c94"/></svg>
<svg x="64" y="424" width="16" height="8" viewBox="64 424 16 8"><rect x="64" y="424" width="16" height="8" fill="#ffd7ff"/><circle cx="76.9" cy="427" r="8.5" fill="#a93643"/></svg>
<svg x="80" y="424" width="16" height="8" viewBox="80 424 16 8"><rect x="80" y="424" width="16" height="8" fill="#ffdeff"/><circle cx="76.9" cy="427" r="8.5" fill="#9a3d43"/><circle cx="100" cy="427.3" r="8.5" fill="#9a3d43"/></svg>
<svg x="96" y="424" width="16" height="8" viewBox="96 424 16 8"><rect x="96" y="424" width="16" height="8" fill="#ffd3ff"/><circle cx="100" cy="427.3" r="8.5" fill="#b03243"/></svg>
<svg x="112" y="424" width="16" height="8" viewBox="112 424 16 8"><rect x="112" y="424" width="16" height="8" fill="#ffd0ff"/><circle cx="123.2" cy="427.7" r="8.5" fill="#b52f43"/></svg>
<svg x="128" y="424" width="16" height="8" viewBox="128 424 16 8"><rect x="128" y="424" width="16" height="8" fill="#ffdfff"/><circle cx="123.2" cy="427.7" r="8.5" fill="#993e43"/><circle cx="146.5" cy="428.1" r="8.5" fill="#993e43"/></svg>
<svg x="144" y="424" width="16" height="8" viewBox="144 424 16 8"><rect x="144" y="424" width="16" height="8" fill="#ffd8ff"/><circle cx="146.5" cy="428.1" r="8.5" fill="#a53843"/></svg>
<svg x="160" y="424" width="16" height="8" viewBox="160 424 16 8"><rect x="160" y="424" width="16" height="8" fill="#ffccff"/><circle cx="169.9" cy="428.6" r="8.5" fill="#bf2b43"/></svg>
<svg x="176" y="424" width="16" height="8" viewBox="176 424 16 8"><rect x="176" y="424" width="16" height="8" fill="#ffe0ff"/><circle cx="169.9" cy="428.6" r="8.5" fill="#973f43"/><circle cx="193.4" cy="429.1" r="8.5" fill="#973f43"/></svg>
<svg x="192" y="424" width="16" height="8" viewBox="192 424 16 8"><rect x="192" y="424" width="16" height="8" fill="#ffddff"/><circle cx="193.4" cy="429.1" r="8.5" fill="#9d3c43"/></svg>
<svg x="208" y="424" width="16" height="8" viewBox="208 424 16 8"><rect x="208" y="424" width="16" height="8" fill="#ffccff"/><circle cx="218" cy="427.3" r="8.5" fill="#be2b43"/></svg>
<svg x="224" y="424" width="16" height="8" viewBox="224 424 16 8"><rect x="224" y="424" width="16" height="8" fill="#ffe1ff"/><circle cx="218" cy="427.3" r="8.5" fill="#954043"/><circle cx="241.9" cy="427.9" r="8.5" fill="#954043"/></svg>
<svg x="240" y="424" width="16" height="8" viewBox="240 424 16 8"><rect x="240" y="424" width="16" height="8" fill="#ffdbff"/><circle cx="241.9" cy="427.9" r="8.5" fill="#a13a43"/></svg>
<svg x="256" y="424" width="16" height="8" viewBox="256 424 16 8"><rect x="256" y="424" width="16" height="8" fill="#ffccff"/><circle cx="266" cy="428.6" r="8.5" fill="#be2b43"/></svg>
<svg x="272" y="424" width="16" height="8" viewBox="272 424 16 8"><rect x="272" y="424" width="16" height="8" fill="#e7ffff"/><circle cx="266" cy="428.6" r="8.5" fill="#426a43"/><circle cx="290.5" cy="429.5" r="8.5" fill="#599300"/></svg>
<svg x="288" y="424" width="16" height="8" viewBox="288 424 16 8"><rect x="288" y="424" width="16" height="8" fill="#b6ffff"/><circle cx="290.5" cy="429.5" r="8.5" fill="#28ac00"/></svg>
<svg x="304" y="424" width="16" height="8" viewBox="304 424 16 8"><rect x="304" y="424" width="16" height="8" fill="#a8ffff"/><circle cx="315.2" cy="430.7" r="8.5" fill="#1ab300"/></svg>
<svg x="320" y="424" width="16" height="8" viewBox="320 424 16 8"><rect x="320" y="424" width="16" height="8" fill="#dbffff"/><circle cx="315.2" cy="430.7" r="8.5" fill="#4d9900"/><circle cx="340.4" cy="432.2" r="8.5" fill="#4d9900"/></svg>
<svg x="336" y="424" width="16" height="8" viewBox="336 424 16 8"><rect x="336" y="424" width="16" height="8" fill="#b2ffff"/><circle cx="340.4" cy="432.2" r="8.5" fill="#23ae00"/></svg>
<svg x="352" y="424" width="16" height="8" viewBox="352 424 16 8"><rect x="352" y="424" width="16" height="8" fill="#d0ffff"/><circle cx="369" cy="430.4" r="8.5" fill="#429e00"/></svg>
<svg x="368" y="424" width="16" height="8" viewBox="368 424 16 8"><rect x="368" y="424" width="16" height="8" fill="#c2ffff"/><circle cx="369" cy="430.4" r="8.5" fill="#34a500"/></svg>
<svg x="640" y="424" width="16" height="8" viewBox="640 424 16 8"><rect x="640" y="424" width="16" height="8" fill="#e6ffff"/><circle cx="653.3" cy="430.4" r="8.5" fill="#1f3394"/></svg>
<svg x="656" y="424" width="16" height="8" viewBox="656 424 16 8"><rect x="656" y="424" width="16" height="8" fill="#f3ffff"/><circle cx="653.3" cy="430.4" r="8.5" fill="#2c2c94"/></svg>
<svg x="672" y="424" width="16" height="8" viewBox="672 424 16 8"><rect x="672" y="424" width="16" height="8" fill="#e1ffff"/><circle cx="681.9" cy="432.2" r="8.5" fill="#1a3594"/></svg>
<svg x="688" y="424" width="16" height="8" viewBox="688 424 16 8"><rect x="688" y="424" width="16" height="8" fill="#f2ffff"/><circle cx="681.9" cy="432.2" r="8.5" fill="#2b2d94"/><circle cx="707.1" cy="430.7" r="8.5" fill="#2b2d94"/></svg>
<svg x="704" y="424" width="16" height="8" viewBox="704 424 16 8"><rect x="704" y="424" width="16" height="8" fill="#e5ffff"/><circle cx="707.1" cy="430.7" r="8.5" fill="#1e3394"/></svg>
<svg x="720" y="424" width="16" height="8" viewBox="720 424 16 8"><rect x="720" y="424" width="16" height="8" fill="#e1ffff"/><circle cx="731.8" cy="429.5" r="8.5" fill="#1a3594"/></svg>
<svg x="736" y="424" width="16" height="8" viewBox="736 424 16 8"><rect x="736" y="424" width="16" height="8" fill="#edffff"/><circle cx="731.8" cy="429.5" r="8.5" fill="#262f94"/><circle cx="756.3" cy="428.6" r="8.5" fill="#262f94"/></svg>
<svg x="752" y="424" width="16" height="8" viewBox="752 424 16 8"><rect x="752" y="424" width="16" height="8" fill="#e1ffff"/><circle cx="756.3" cy="428.6" r="8.5" fill="#1a3594"/></svg>
<svg x="768" y="424" width="16" height="8" viewBox="768 424 16 8"><rect x="768" y="424" width="16" height="8" fill="#e2ffff"/><circle cx="780.4" cy="427.9" r="8.5" fill="#1b3594"/></svg>
<svg x="784" y="424" width="16" height="8" viewBox="784 424 16 8"><rect x="784" y="424" width="16" height="8" fill="#ebffff"/><circle cx="780.4" cy="427.9" r="8.5" fill="#243094"/><circle cx="804.3" cy="427.3" r="8.5" fill="#243094"/></svg>
<svg x="800" y="424" width="16" height="8" viewBox="800 424 16 8"><rect x="800" y="424" width="16" height="8" fill="#e1ffff"/><circle cx="804.3" cy="427.3" r="8.5" fill="#1a3694"/></svg>
<svg x="816" y="424" width="16" height="8" viewBox="816 424 16 8"><rect x="816" y="424" width="16" height="8" fill="#e4ffff"/><circle cx="828.9" cy="429.1" r="8.5" fill="#1d3494"/></svg>
<svg x="832" y="424" width="16" height="8" viewBox="832 424 16 8"><rect x="832" y="424" width="16" height="8" fill="#eaffff"/><circle cx="828.9" cy="429.1" r="8.5" fill="#233194"/><circle cx="852.4" cy="428.6" r="8.5" fill="#233194"/></svg>
<svg x="848" y="424" width="16" height="8" viewBox="848 424 16 8"><rect x="848" y="424" width="16" height="8" fill="#e1ffff"/><circle cx="852.4" cy="428.6" r="8.5" fill="#1a3694"/></svg>
<svg x="864" y="424" width="16" height="8" viewBox="864 424 16 8"><rect x="864" y="424" width="16" height="8" fill="#e1ffff"/><circle cx="875.8" cy="428.1" r="8.5" fill="#1a3594"/></svg>
<svg x="880" y="424" width="16" height="8" viewBox="880 424 16 8"><rect x="880" y="424" width="16" height="8" fill="#e9ffff"/><circle cx="875.8" cy="428.1" r="8.5" fill="#223194"/><circle cx="899.1" cy="427.7" r="8.5" fill="#223194"/></svg>
<svg x="896" y="424" width="16" height="8" viewBox="896 424 16 8"><rect x="896" y="424" width="16" height="8" fill="#e4ffff"/><circle cx="899.1" cy="427.7" r="8.5" fill="#1d3494"/></svg>
<svg x="912" y="424" width="16" height="8" viewBox="912 424 16 8"><rect x="912" y="424" width="16" height="8" fill="#ddffff"/><circle cx="922.3" cy="427.3" r="8.5" fill="#163794"/></svg>
<svg x="928" y="424" width="16" height="8" viewBox="928 424 16 8"><rect x="928" y="424" width="16" height="8" fill="#e9ffff"/><circle cx="922.3" cy="427.3" r="8.5" fill="#223194"/><circle cx="945.4" cy="427" r="8.5" fill="#223194"/></svg>
<svg x="944" y="424" width="16" height="8" viewBox="944 424 16 8"><rect x="944" y="424" width="16" height="8" fill="#e8ffff"/><circle cx="945.4" cy="427" r="8.5" fill="#213294"/></svg>
<svg x="64" y="432" width="16" height="8" viewBox="64 432 16 8"><rect x="64" y="432" width="16" height="8" fill="#fff3ff"/><circle cx="76.9" cy="427" r="8.5" fill="#715343"/></svg>
<svg x="80" y="432" width="16" height="8" viewBox="80 432 16 8"><rect x="80" y="432" width="16" height="8" fill="#fffaff"/><circle cx="76.9" cy="427" r="8.5" fill="#635943"/><circle cx="100" cy="427.3" r="8.5" fill="#635943"/></svg>
<svg x="96" y="432" width="16" height="8" viewBox="96 432 16 8"><rect x="96" y="432" width="16" height="8" fill="#fff1ff"/><circle cx="100" cy="427.3" r="8.5" fill="#755043"/></svg>
<svg x="112" y="432" width="16" height="8" viewBox="112 432 16 8"><rect x="112" y="432" width="16" height="8" fill="#ffeeff"/><circle cx="123.2" cy="427.7" r="8.5" fill="#7c4d43"/></svg>
<svg x="128" y="432" width="16" height="8" viewBox="128 432 16 8"><rect x="128" y="432" width="16" height="8" fill="#fff8ff"/><circle cx="123.2" cy="427.7" r="8.5" fill="#685743"/><circle cx="146.5" cy="428.1" r="8.5" fill="#685743"/></svg>
<svg x="144" y="432" width="16" height="8" viewBox="144 432 16 8"><rect x="144" y="432" width="16" height="8" fill="#fff0ff"/><circle cx="146.5" cy="428.1" r="8.5" fill="#774f43"/></svg>
<svg x="160" y="432" width="16" height="8" viewBox="160 432 16 8"><rect x="160" y="432" width="16" height="8" fill="#ffe8ff"/><circle cx="169.9" cy="428.6" r="8.5" fill="#884743"/></svg>
<svg x="176" y="432" width="16" height="8" viewBox="176 432 16 8"><rect x="176" y="432" width="16" height="8" fill="#fff4ff"/><circle cx="169.9" cy="428.6" r="8.5" fill="#705343"/><circle cx="193.4" cy="429.1" r="8.5" fill="#705343"/></svg>
<svg x="192" y="432" width="16" height="8" viewBox="192 432 16 8"><rect x="192" y="432" width="16" height="8" fill="#ffeeff"/><circle cx="193.4" cy="429.1" r="8.5" fill="#7b4d43"/></svg>
<svg x="208" y="432" width="16" height="8" viewBox="208 432 16 8"><rect x="208" y="432" width="16" height="8" fill="#ffefff"/><circle cx="218" cy="427.3" r="8.5" fill="#794e43"/></svg>
<svg x="224" y="432" width="16" height="8" viewBox="224 432 16 8"><rect x="224" y="432" width="16" height="8" fill="#fff8ff"/><circle cx="218" cy="427.3" r="8.5" fill="#675743"/><circle cx="241.9" cy="427.9" r="8.5" fill="#675743"/></svg>
<svg x="240" y="432" width="16" height="8" viewBox="240 432 16 8"><rect x="240" y="432" width="16" height="8" fill="#fff1ff"/><circle cx="241.9" cy="427.9" r="8.5" fill="#755043"/></svg>
<svg x="256" y="432" width="16" height="8" viewBox="256 432 16 8"><rect x="256" y="432" width="16" height="8" fill="#ffe8ff"/><circle cx="266" cy="428.6" r="8.5" fill="#874743"/></svg>
<svg x="272" y="432" width="16" height="8" viewBox="272 432 16 8"><rect x="272" y="432" width="16" height="8" fill="#efffff"/><circle cx="266" cy="428.6" r="8.5" fill="#4a6643"/><circle cx="290.5" cy="429.5" r="8.5" fill="#618f00"/></svg>
<svg x="288" y="432" width="16" height="8" viewBox="288 432 16 8"><rect x="288" y="432" width="16" height="8" fill="#d4ffff"/><circle cx="290.5" cy="429.5" r="8.5" fill="#469d00"/></svg>
<svg x="304" y="432" width="16" height="8" viewBox="304 432 16 8"><rect x="304" y="432" width="16" height="8" fill="#bcffff"/><circle cx="315.2" cy="430.7" r="8.5" fill="#2ea900"/></svg>
<svg x="320" y="432" width="16" height="8" viewBox="320 432 16 8"><rect x="320" y="432" width="16" height="8" fill="#e0ffff"/><circle cx="315.2" cy="430.7" r="8.5" fill="#529600"/><circle cx="340.4" cy="432.2" r="8.5" fill="#529600"/></svg>
<svg x="336" y="432" width="16" height="8" viewBox="336 432 16 8"><rect x="336" y="432" width="16" height="8" fill="#afffff"/><circle cx="340.4" cy="432.2" r="8.5" fill="#20b000"/></svg>
<svg x="352" y="432" width="16" height="8" viewBox="352 432 16 8"><rect x="352" y="432" width="16" height="8" fill="#dfffff"/><circle cx="369" cy="430.4" r="8.5" fill="#519700"/></svg>
<svg x="368" y="432" width="16" height="8" viewBox="368 432 16 8"><rect x="368" y="432" width="16" height="8" fill="#d3ffff"/><circle cx="369" cy="430.4" r="8.5" fill="#459d00"/></svg>
<svg x="640" y="432" width="16" height="8" viewBox="640 432 16 8"><rect x="640" y="432" width="16" height="8" fill="#ecffff"/><circle cx="653.3" cy="430.4" r="8.5" fill="#253094"/></svg>
<svg x="656" y="432" width="16" height="8" viewBox="656 432 16 8"><rect x="656" y="432" width="16" height="8" fill="#f7ffff"/><circle cx="653.3" cy="430.4" r="8.5" fill="#302a94"/></svg>
<svg x="672" y="432" width="16" height="8" viewBox="672 432 16 8"><rect x="672" y="432" width="16" height="8" fill="#e0ffff"/><circle cx="681.9" cy="432.2" r="8.5" fill="#193694"/></svg>
<svg x="688" y="432" width="16" height="8" viewBox="688 432 16 8"><rect x="688" y="432" width="16" height="8" fill="#f5ffff"/><circle cx="681.9" cy="432.2" r="8.5" fill="#2e2b94"/><circle cx="707.1" cy="430.7" r="8.5" fill="#2e2b94"/></svg>
<svg x="704" y="432" width="16" height="8" viewBox="704 432 16 8"><rect x="704" y="432" width="16" height="8" fill="#ebffff"/><circle cx="707.1" cy="430.7" r="8.5" fill="#243094"/></svg>
<svg x="720" y="432" width="16" height="8" viewBox="720 432 16 8"><rect x="720" y="432" width="16" height="8" fill="#edffff"/><circle cx="731.8" cy="429.5" r="8.5" fill="#262f94"/></svg>
<svg x="736" y="432" width="16" height="8" viewBox="736 432 16 8"><rect x="736" y="432" width="16" height="8" fill="#f9ffff"/><circle cx="731.8" cy="429.5" r="8.5" fill="#322994"/><circle cx="756.3" cy="428.6" r="8.5" fill="#322994"/></svg>
<svg x="752" y="432" width="16" height="8" viewBox="752 432 16 8"><rect x="752" y="432" width="16" height="8" fill="#f1ffff"/><circle cx="756.3" cy="428.6" r="8.5" fill="#2a2d94"/></svg>
<svg x="768" y="432" width="16" height="8" viewBox="768 432 16 8"><rect x="768" y="432" width="16" height="8" fill="#f4ffff"/><circle cx="780.4" cy="427.9" r="8.5" fill="#2d2c94"/></svg>
<svg x="784" y="432" width="16" height="8" viewBox="784 432 16 8"><rect x="784" y="432" width="16" height="8" fill="#fbffff"/><circle cx="780.4" cy="427.9" r="8.5" fill="#342894"/><circle cx="804.3" cy="427.3" r="8.5" fill="#342894"/></svg>
<svg x="800" y="432" width="16" height="8" viewBox="800 432 16 8"><rect x="800" y="432" width="16" height="8" fill="#f5ffff"/><circle cx="804.3" cy="427.3" r="8.5" fill="#2e2b94"/></svg>
<svg x="816" y="432" width="16" height="8" viewBox="816 432 16 8"><rect x="816" y="432" width="16" height="8" fill="#f1ffff"/><circle cx="828.9" cy="429.1" r="8.5" fill="#2a2d94"/></svg>
<svg x="832" y="432" width="16" height="8" viewBox="832 432 16 8"><rect x="832" y="432" width="16" height="8" fill="#f8ffff"/><circle cx="828.9" cy="429.1" r="8.5" fill="#312994"/><circle cx="852.4" cy="428.6" r="8.5" fill="#312994"/></svg>
<svg x="848" y="432" width="16" height="8" viewBox="848 432 16 8"><rect x="848" y="432" width="16" height="8" fill="#f1ffff"/><circle cx="852.4" cy="428.6" r="8.5" fill="#2a2d94"/></svg>
<svg x="864" y="432" width="16" height="8" viewBox="864 432 16 8"><rect x="864" y="432" width="16" height="8" fill="#f3ffff"/><circle cx="875.8" cy="428.1" r="8.5" fill="#2c2c94"/></svg>
<svg x="880" y="432" width="16" height="8" viewBox="880 432 16 8"><rect x="880" y="432" width="16" height="8" fill="#faffff"/><circle cx="875.8" cy="428.1" r="8.5" fill="#332894"/><circle cx="899.1" cy="427.7" r="8.5" fill="#332894"/></svg>
<svg x="896" y="432" width="16" height="8" viewBox="896 432 16 8"><rect x="896" y="432" width="16" height="8" fill="#f5ffff"/><circle cx="899.1" cy="427.7" r="8.5" fill="#2e2b94"/></svg>
<svg x="912" y="432" width="16" height="8" viewBox="912 432 16 8"><rect x="912" y="432" width="16" height="8" fill="#f5ffff"/><circle cx="922.3" cy="427.3" r="8.5" fill="#2e2b94"/></svg>
<svg x="928" y="432" width="16" height="8" viewBox="928 432 16 8"><rect x="928" y="432" width="16" height="8" fill="#fbffff"/><circle cx="922.3" cy="427.3" r="8.5" fill="#342894"/><circle cx="945.4" cy="427" r="8.5" fill="#342894"/></svg>
<svg x="944" y="432" width="16" height="8" viewBox="944 432 16 8"><rect x="944" y="432" width="16" height="8" fill="#f9ffff"/><circle cx="945.4" cy="427" r="8.5" fill="#322994"/></svg>
<svg x="48" y="440" width="16" height="8" viewBox="48 440 16 8"><rect x="48" y="440" width="16" height="8" fill="#fffeff"/><circle cx="71.7" cy="449.1" r="8.5" fill="#5b5e43"/></svg>
<svg x="64" y="440" width="16" height="8" viewBox="64 440 16 8"><rect x="64" y="440" width="16" height="8" fill="#ffd4ff"/><circle cx="71.7" cy="449.1" r="8.5" fill="#ae3343"/></svg>
<svg x="80" y="440" width="16" height="8" viewBox="80 440 16 8"><rect x="80" y="440" width="16" height="8" fill="#ffe6ff"/><circle cx="71.7" cy="449.1" r="8.5" fill="#8b4543"/><circle cx="94.6" cy="449.3" r="8.5" fill="#8b4543"/></svg>
<svg x="96" y="440" width="16" height="8" viewBox="96 440 16 8"><rect x="96" y="440" width="16" height="8" fill="#ffebff"/><circle cx="94.6" cy="449.3" r="8.5" fill="#814a43"/><circle cx="117.6" cy="449.6" r="8.5" fill="#814a43"/></svg>
<svg x="112" y="440" width="16" height="8" viewBox="112 440 16 8"><rect x="112" y="440" width="16" height="8" fill="#ffdbff"/><circle cx="117.6" cy="449.6" r="8.5" fill="#a03b43"/></svg>
<svg x="128" y="440" width="16" height="8" viewBox="128 440 16 8"><rect x="128" y="440" width="16" height="8" fill="#ffe2ff"/><circle cx="140.6" cy="449.8" r="8.5" fill="#924243"/></svg>
<svg x="144" y="440" width="16" height="8" viewBox="144 440 16 8"><rect x="144" y="440" width="16" height="8" fill="#ffefff"/><circle cx="140.6" cy="449.8" r="8.5" fill="#794e43"/><circle cx="163.6" cy="450.2" r="8.5" fill="#794e43"/></svg>
<svg x="160" y="440" width="16" height="8" viewBox="160 440 16 8"><rect x="160" y="440" width="16" height="8" fill="#ffe4ff"/><circle cx="163.6" cy="450.2" r="8.5" fill="#8e4343"/></svg>
<svg x="176" y="440" width="16" height="8" viewBox="176 440 16 8"><rect x="176" y="440" width="16" height="8" fill="#ffe2ff"/><circle cx="186.8" cy="450.5" r="8.5" fill="#924143"/></svg>
<svg x="192" y="440" width="16" height="8" viewBox="192 440 16 8"><rect x="192" y="440" width="16" height="8" fill="#ffefff"/><circle cx="186.8" cy="450.5" r="8.5" fill="#7a4e43"/><circle cx="210.6" cy="449" r="8.5" fill="#7a4e43"/></svg>
<svg x="208" y="440" width="16" height="8" viewBox="208 440 16 8"><rect x="208" y="440" width="16" height="8" fill="#ffe1ff"/><circle cx="210.6" cy="449" r="8.5" fill="#954043"/></svg>
<svg x="224" y="440" width="16" height="8" viewBox="224 440 16 8"><rect x="224" y="440" width="16" height="8" fill="#ffd9ff"/><circle cx="234" cy="449.3" r="8.5" fill="#a53843"/></svg>
<svg x="240" y="440" width="16" height="8" viewBox="240 440 16 8"><rect x="240" y="440" width="16" height="8" fill="#ffeeff"/><circle cx="234" cy="449.3" r="8.5" fill="#7b4d43"/><circle cx="257.5" cy="449.8" r="8.5" fill="#7b4d43"/></svg>
<svg x="256" y="440" width="16" height="8" viewBox="256 440 16 8"><rect x="256" y="440" width="16" height="8" fill="#ffe8ff"/><circle cx="257.5" cy="449.8" r="8.5" fill="#874743"/></svg>
<svg x="272" y="440" width="16" height="8" viewBox="272 440 16 8"><rect x="272" y="440" width="16" height="8" fill="#ffdeff"/><circle cx="281.3" cy="450.3" r="8.5" fill="#9a3d43"/></svg>
<svg x="288" y="440" width="16" height="8" viewBox="288 440 16 8"><rect x="288" y="440" width="16" height="8" fill="#fff3ff"/><circle cx="281.3" cy="450.3" r="8.5" fill="#725243"/><circle cx="305.2" cy="451" r="8.5" fill="#725243"/></svg>
<svg x="304" y="440" width="16" height="8" viewBox="304 440 16 8"><rect x="304" y="440" width="16" height="8" fill="#ffeeff"/><circle cx="305.2" cy="451" r="8.5" fill="#7b4d43"/></svg>
<svg x="320" y="440" width="16" height="8" viewBox="320 440 16 8"><rect x="320" y="440" width="16" height="8" fill="#ffeaff"/><circle cx="329.5" cy="451.9" r="8.5" fill="#834943"/></svg>
<svg x="336" y="440" width="16" height="8" viewBox="336 440 16 8"><rect x="336" y="440" width="16" height="8" fill="#f0ffff"/><circle cx="329.5" cy="451.9" r="8.5" fill="#4b6643"/><circle cx="356" cy="449.8" r="8.5" fill="#618e00"/><circle cx="340.4" cy="432.2" r="8.5" fill="#618e00"/></svg>
<svg x="352" y="440" width="16" height="8" viewBox="352 440 16 8"><rect x="352" y="440" width="16" height="8" fill="#c4ffff"/><circle cx="356" cy="449.8" r="8.5" fill="#36a500"/></svg>
<svg x="656" y="440" width="16" height="8" viewBox="656 440 16 8"><rect x="656" y="440" width="16" height="8" fill="#e8ffff"/><circle cx="666.3" cy="449.8" r="8.5" fill="#213294"/></svg>
<svg x="672" y="440" width="16" height="8" viewBox="672 440 16 8"><rect x="672" y="440" width="16" height="8" fill="#fbffff"/><circle cx="681.9" cy="432.2" r="8.5" fill="#342894"/><circle cx="666.3" cy="449.8" r="8.5" fill="#342894"/><circle cx="692.8" cy="451.9" r="8.5" fill="#342894"/></svg>
<svg x="688" y="440" width="16" height="8" viewBox="688 440 16 8"><rect x="688" y="440" width="16" height="8" fill="#f2ffff"/><circle cx="692.8" cy="451.9" r="8.5" fill="#2b2d94"/></svg>
<svg x="704" y="440" width="16" height="8" viewBox="704 440 16 8"><rect x="704" y="440" width="16" height="8" fill="#f1ffff"/><circle cx="717.1" cy="451" r="8.5" fill="#2a2d94"/></svg>
<svg x="720" y="440" width="16" height="8" viewBox="720 440 16 8"><rect x="720" y="440" width="16" height="8" fill="#f7ffff"/><circle cx="717.1" cy="451" r="8.5" fill="#302a94"/><circle cx="741" cy="450.3" r="8.5" fill="#302a94"/></svg>
<svg x="736" y="440" width="16" height="8" viewBox="736 440 16 8"><rect x="736" y="440" width="16" height="8" fill="#ebffff"/><circle cx="741" cy="450.3" r="8.5" fill="#243094"/></svg>
<svg x="752" y="440" width="16" height="8" viewBox="752 440 16 8"><rect x="752" y="440" width="16" height="8" fill="#ecffff"/><circle cx="764.8" cy="449.8" r="8.5" fill="#253094"/></svg>
<svg x="768" y="440" width="16" height="8" viewBox="768 440 16 8"><rect x="768" y="440" width="16" height="8" fill="#f4ffff"/><circle cx="764.8" cy="449.8" r="8.5" fill="#2d2c94"/><circle cx="788.3" cy="449.3" r="8.5" fill="#2d2c94"/></svg>
<svg x="784" y="440" width="16" height="8" viewBox="784 440 16 8"><rect x="784" y="440" width="16" height="8" fill="#e8ffff"/><circle cx="788.3" cy="449.3" r="8.5" fill="#213294"/></svg>
<svg x="800" y="440" width="16" height="8" viewBox="800 440 16 8"><rect x="800" y="440" width="16" height="8" fill="#e7ffff"/><circle cx="811.7" cy="449" r="8.5" fill="#203294"/></svg>
<svg x="816" y="440" width="16" height="8" viewBox="816 440 16 8"><rect x="816" y="440" width="16" height="8" fill="#f5ffff"/><circle cx="811.7" cy="449" r="8.5" fill="#2e2b94"/><circle cx="835.5" cy="450.5" r="8.5" fill="#2e2b94"/></svg>
<svg x="832" y="440" width="16" height="8" viewBox="832 440 16 8"><rect x="832" y="440" width="16" height="8" fill="#eeffff"/><circle cx="835.5" cy="450.5" r="8.5" fill="#272f94"/></svg>
<svg x="848" y="440" width="16" height="8" viewBox="848 440 16 8"><rect x="848" y="440" width="16" height="8" fill="#eaffff"/><circle cx="858.7" cy="450.2" r="8.5" fill="#233194"/></svg>
<svg x="864" y="440" width="16" height="8" viewBox="864 440 16 8"><rect x="864" y="440" width="16" height="8" fill="#f4ffff"/><circle cx="858.7" cy="450.2" r="8.5" fill="#2d2c94"/><circle cx="881.7" cy="449.8" r="8.5" fill="#2d2c94"/></svg>
<svg x="880" y="440" width="16" height="8" viewBox="880 440 16 8"><rect x="880" y="440" width="16" height="8" fill="#efffff"/><circle cx="881.7" cy="449.8" r="8.5" fill="#282e94"/></svg>
<svg x="896" y="440" width="16" height="8" viewBox="896 440 16 8"><rect x="896" y="440" width="16" height="8" fill="#e5ffff"/><circle cx="904.7" cy="449.6" r="8.5" fill="#1e3394"/></svg>
<svg x="912" y="440" width="16" height="8" viewBox="912 440 16 8"><rect x="912" y="440" width="16" height="8" fill="#f0ffff"/><circle cx="904.7" cy="449.6" r="8.5" fill="#292e94"/><circle cx="927.7" cy="449.3" r="8.5" fill="#292e94"/></svg>
<svg x="928" y="440" width="16" height="8" viewBox="928 440 16 8"><rect x="928" y="440" width="16" height="8" fill="#f0ffff"/><circle cx="927.7" cy="449.3" r="8.5" fill="#292e94"/><circle cx="950.6" cy="449.1" r="8.5" fill="#292e94"/></svg>
<svg x="944" y="440" width="16" height="8" viewBox="944 440 16 8"><rect x="944" y="440" width="16" height="8" fill="#e3ffff"/><circle cx="950.6" cy="449.1" r="8.5" fill="#1c3494"/></svg>
<svg x="48" y="448" width="16" height="8" viewBox="48 448 16 8"><rect x="48" y="448" width="16" height="8" fill="#fffeff"/><circle cx="71.7" cy="449.1" r="8.5" fill="#5c5d43"/></svg>
<svg x="64" y="448" width="16" height="8" viewBox="64 448 16 8"><rect x="64" y="448" width="16" height="8" fill="#ffcaff"/><circle cx="71.7" cy="449.1" r="8.5" fill="#c12a43"/></svg>
<svg x="80" y="448" width="16" height="8" viewBox="80 448 16 8"><rect x="80" y="448" width="16" height="8" fill="#ffdeff"/><circle cx="71.7" cy="449.1" r="8.5" fill="#9a3d43"/><circle cx="94.6" cy="449.3" r="8.5" fill="#9a3d43"/></svg>
<svg x="96" y="448" width="16" height="8" viewBox="96 448 16 8"><rect x="96" y="448" width="16" height="8" fill="#ffe1ff"/><circle cx="94.6" cy="449.3" r="8.5" fill="#954043"/><circle cx="117.6" cy="449.6" r="8.5" fill="#954043"/></svg>
<svg x="112" y="448" width="16" height="8" viewBox="112 448 16 8"><rect x="112" y="448" width="16" height="8" fill="#ffcfff"/><circle cx="117.6" cy="449.6" r="8.5" fill="#b82e43"/></svg>
<svg x="128" y="448" width="16" height="8" viewBox="128 448 16 8"><rect x="128" y="448" width="16" height="8" fill="#ffd7ff"/><circle cx="140.6" cy="449.8" r="8.5" fill="#a93643"/></svg>
<svg x="144" y="448" width="16" height="8" viewBox="144 448 16 8"><rect x="144" y="448" width="16" height="8" fill="#ffe0ff"/><circle cx="140.6" cy="449.8" r="8.5" fill="#973f43"/><circle cx="163.6" cy="450.2" r="8.5" fill="#973f43"/></svg>
<svg x="160" y="448" width="16" height="8" viewBox="160 448 16 8"><rect x="160" y="448" width="16" height="8" fill="#ffd5ff"/><circle cx="163.6" cy="450.2" r="8.5" fill="#ac3443"/></svg>
<svg x="176" y="448" width="16" height="8" viewBox="176 448 16 8"><rect x="176" y="448" width="16" height="8" fill="#ffcfff"/><circle cx="186.8" cy="450.5" r="8.5" fill="#b82e43"/></svg>
<svg x="192" y="448" width="16" height="8" viewBox="192 448 16 8"><rect x="192" y="448" width="16" height="8" fill="#ffe4ff"/><circle cx="186.8" cy="450.5" r="8.5" fill="#8f4343"/><circle cx="210.6" cy="449" r="8.5" fill="#8f4343"/></svg>
<svg x="208" y="448" width="16" height="8" viewBox="208 448 16 8"><rect x="208" y="448" width="16" height="8" fill="#ffdbff"/><circle cx="210.6" cy="449" r="8.5" fill="#a13a43"/></svg>
<svg x="224" y="448" width="16" height="8" viewBox="224 448 16 8"><rect x="224" y="448" width="16" height="8" fill="#ffceff"/><circle cx="234" cy="449.3" r="8.5" fill="#bb2d43"/></svg>
<svg x="240" y="448" width="16" height="8" viewBox="240 448 16 8"><rect x="240" y="448" width="16" height="8" fill="#ffe2ff"/><circle cx="234" cy="449.3" r="8.5" fill="#924243"/><circle cx="257.5" cy="449.8" r="8.5" fill="#924243"/></svg>
<svg x="256" y="448" width="16" height="8" viewBox="256 448 16 8"><rect x="256" y="448" width="16" height="8" fill="#ffdeff"/><circle cx="257.5" cy="449.8" r="8.5" fill="#9b3d43"/></svg>
<svg x="272" y="448" width="16" height="8" viewBox="272 448 16 8"><rect x="272" y="448" width="16" height="8" fill="#ffcaff"/><circle cx="281.3" cy="450.3" r="8.5" fill="#c22943"/></svg>
<svg x="288" y="448" width="16" height="8" viewBox="288 448 16 8"><rect x="288" y="448" width="16" height="8" fill="#ffe2ff"/><circle cx="281.3" cy="450.3" r="8.5" fill="#934143"/><circle cx="305.2" cy="451" r="8.5" fill="#934143"/></svg>
<svg x="304" y="448" width="16" height="8" viewBox="304 448 16 8"><rect x="304" y="448" width="16" height="8" fill="#ffdeff"/><circle cx="305.2" cy="451" r="8.5" fill="#9b3d43"/></svg>
<svg x="320" y="448" width="16" height="8" viewBox="320 448 16 8"><rect x="320" y="448" width="16" height="8" fill="#ffcaff"/><circle cx="329.5" cy="451.9" r="8.5" fill="#c22943"/></svg>
<svg x="336" y="448" width="16" height="8" viewBox="336 448 16 8"><rect x="336" y="448" width="16" height="8" fill="#f0ffff"/><circle cx="329.5" cy="451.9" r="8.5" fill="#4b6643"/><circle cx="356" cy="449.8" r="8.5" fill="#628e00"/></svg>
<svg x="352" y="448" width="16" height="8" viewBox="352 448 16 8"><rect x="352" y="448" width="16" height="8" fill="#adffff"/><circle cx="356" cy="449.8" r="8.5" fill="#1eb100"/></svg>
<svg x="656" y="448" width="16" height="8" viewBox="656 448 16 8"><rect x="656" y="448" width="16" height="8" fill="#deffff"/><circle cx="666.3" cy="449.8" r="8.5" fill="#173794"/></svg>
<svg x="672" y="448" width="16" height="8" viewBox="672 448 16 8"><rect x="672" y="448" width="16" height="8" fill="#f2ffff"/><circle cx="666.3" cy="449.8" r="8.5" fill="#2b2d94"/><circle cx="692.8" cy="451.9" r="8.5" fill="#2b2d94"/></svg>
<svg x="688" y="448" width="16" height="8" viewBox="688 448 16 8"><rect x="688" y="448" width="16" height="8" fill="#e0ffff"/><circle cx="692.8" cy="451.9" r="8.5" fill="#193694"/></svg>
<svg x="704" y="448" width="16" height="8" viewBox="704 448 16 8"><rect x="704" y="448" width="16" height="8" fill="#e4ffff"/><circle cx="717.1" cy="451" r="8.5" fill="#1d3494"/></svg>
<svg x="720" y="448" width="16" height="8" viewBox="720 448 16 8"><rect x="720" y="448" width="16" height="8" fill="#ebffff"/><circle cx="717.1" cy="451" r="8.5" fill="#243094"/><circle cx="741" cy="450.3" r="8.5" fill="#243094"/></svg>
<svg x="736" y="448" width="16" height="8" viewBox="736 448 16 8"><rect x="736" y="448" width="16" height="8" fill="#e0ffff"/><circle cx="741" cy="450.3" r="8.5" fill="#193694"/></svg>
<svg x="752" y="448" width="16" height="8" viewBox="752 448 16 8"><rect x="752" y="448" width="16" height="8" fill="#e4ffff"/><circle cx="764.8" cy="449.8" r="8.5" fill="#1d3494"/></svg>
<svg x="768" y="448" width="16" height="8" viewBox="768 448 16 8"><rect x="768" y="448" width="16" height="8" fill="#ecffff"/><circle cx="764.8" cy="449.8" r="8.5" fill="#253094"/><circle cx="788.3" cy="449.3" r="8.5" fill="#253094"/></svg>
<svg x="784" y="448" width="16" height="8" viewBox="784 448 16 8"><rect x="784" y="448" width="16" height="8" fill="#e2ffff"/><circle cx="788.3" cy="449.3" r="8.5" fill="#1b3594"/></svg>
<svg x="800" y="448" width="16" height="8" viewBox="800 448 16 8"><rect x="800" y="448" width="16" height="8" fill="#e2ffff"/><circle cx="811.7" cy="449" r="8.5" fill="#1b3594"/></svg>
<svg x="816" y="448" width="16" height="8" viewBox="816 448 16 8"><rect x="816" y="448" width="16" height="8" fill="#edffff"/><circle cx="811.7" cy="449" r="8.5" fill="#262f94"/><circle cx="835.5" cy="450.5" r="8.5" fill="#262f94"/></svg>
<svg x="832" y="448" width="16" height="8" viewBox="832 448 16 8"><rect x="832" y="448" width="16" height="8" fill="#e3ffff"/><circle cx="835.5" cy="450.5" r="8.5" fill="#1c3494"/></svg>
<svg x="848" y="448" width="16" height="8" viewBox="848 448 16 8"><rect x="848" y="448" width="16" height="8" fill="#dfffff"/><circle cx="858.7" cy="450.2" r="8.5" fill="#183794"/></svg>
<svg x="864" y="448" width="16" height="8" viewBox="864 448 16 8"><rect x="864" y="448" width="16" height="8" fill="#eaffff"/><circle cx="858.7" cy="450.2" r="8.5" fill="#233194"/><circle cx="881.7" cy="449.8" r="8.5" fill="#233194"/></svg>
<svg x="880" y="448" width="16" height="8" viewBox="880 448 16 8"><rect x="880" y="448" width="16" height="8" fill="#e8ffff"/><circle cx="881.7" cy="449.8" r="8.5" fill="#213294"/></svg>
<svg x="896" y="448" width="16" height="8" viewBox="896 448 16 8"><rect x="896" y="448" width="16" height="8" fill="#dbffff"/><circle cx="904.7" cy="449.6" r="8.5" fill="#143894"/></svg>
<svg x="912" y="448" width="16" height="8" viewBox="912 448 16 8"><rect x="912" y="448" width="16" height="8" fill="#eaffff"/><circle cx="904.7" cy="449.6" r="8.5" fill="#233194"/><circle cx="927.7" cy="449.3" r="8.5" fill="#233194"/></svg>
<svg x="928" y="448" width="16" height="8" viewBox="928 448 16 8"><rect x="928" y="448" width="16" height="8" fill="#ebffff"/><circle cx="927.7" cy="449.3" r="8.5" fill="#243094"/><circle cx="950.6" cy="449.1" r="8.5" fill="#243094"/></svg>
<svg x="944" y="448" width="16" height="8" viewBox="944 448 16 8"><rect x="944" y="448" width="16" height="8" fill="#ddffff"/><circle cx="950.6" cy="449.1" r="8.5" fill="#163794"/></svg>
<svg x="48" y="456" width="16" height="8" viewBox="48 456 16 8"><circle cx="67.7" cy="471.4" r="8.5" fill="#5a5e43"/></svg>
<svg x="64" y="456" width="16" height="8" viewBox="64 456 16 8"><rect x="64" y="456" width="16" height="8" fill="#fff9ff"/><circle cx="67.7" cy="471.4" r="8.5" fill="#665843"/><circle cx="71.7" cy="449.1" r="8.5" fill="#665843"/></svg>
<svg x="80" y="456" width="16" height="8" viewBox="80 456 16 8"><rect x="80" y="456" width="16" height="8" fill="#fff9ff"/><circle cx="90.4" cy="471.6" r="8.5" fill="#655843"/><circle cx="94.6" cy="449.3" r="8.5" fill="#655843"/></svg>
<svg x="96" y="456" width="16" height="8" viewBox="96 456 16 8"><rect x="96" y="456" width="16" height="8" fill="#fffdff"/><circle cx="113.2" cy="471.7" r="8.5" fill="#5d5c43"/><circle cx="94.6" cy="449.3" r="8.5" fill="#5d5c43"/></svg>
<svg x="112" y="456" width="16" height="8" viewBox="112 456 16 8"><rect x="112" y="456" width="16" height="8" fill="#fff8ff"/><circle cx="113.2" cy="471.7" r="8.5" fill="#685743"/><circle cx="117.6" cy="449.6" r="8.5" fill="#685743"/></svg>
<svg x="128" y="456" width="16" height="8" viewBox="128 456 16 8"><rect x="128" y="456" width="16" height="8" fill="#fff8ff"/><circle cx="135.9" cy="471.9" r="8.5" fill="#685743"/><circle cx="140.6" cy="449.8" r="8.5" fill="#685743"/></svg>
<svg x="144" y="456" width="16" height="8" viewBox="144 456 16 8"><rect x="144" y="456" width="16" height="8" fill="#fffcff"/><circle cx="158.7" cy="472.1" r="8.5" fill="#5f5c43"/><circle cx="140.6" cy="449.8" r="8.5" fill="#5f5c43"/><circle cx="163.6" cy="450.2" r="8.5" fill="#5f5c43"/></svg>
<svg x="160" y="456" width="16" height="8" viewBox="160 456 16 8"><rect x="160" y="456" width="16" height="8" fill="#fff6ff"/><circle cx="158.7" cy="472.1" r="8.5" fill="#6b5543"/><circle cx="163.6" cy="450.2" r="8.5" fill="#6b5543"/></svg>
<svg x="176" y="456" width="16" height="8" viewBox="176 456 16 8"><rect x="176" y="456" width="16" height="8" fill="#fff4ff"/><circle cx="181.6" cy="472.4" r="8.5" fill="#6f5343"/><circle cx="186.8" cy="450.5" r="8.5" fill="#6f5343"/></svg>
<svg x="192" y="456" width="16" height="8" viewBox="192 456 16 8"><rect x="192" y="456" width="16" height="8" fill="#fffaff"/><circle cx="204.8" cy="471.1" r="8.5" fill="#635943"/><circle cx="186.8" cy="450.5" r="8.5" fill="#635943"/><circle cx="210.6" cy="449" r="8.5" fill="#635943"/></svg>
<svg x="208" y="456" width="16" height="8" viewBox="208 456 16 8"><rect x="208" y="456" width="16" height="8" fill="#fffbff"/><circle cx="204.8" cy="471.1" r="8.5" fill="#615a43"/><circle cx="227.8" cy="471.3" r="8.5" fill="#615a43"/><circle cx="210.6" cy="449" r="8.5" fill="#615a43"/></svg>
<svg x="224" y="456" width="16" height="8" viewBox="224 456 16 8"><rect x="224" y="456" width="16" height="8" fill="#fff7ff"/><circle cx="227.8" cy="471.3" r="8.5" fill="#6a5643"/><circle cx="234" cy="449.3" r="8.5" fill="#6a5643"/></svg>
<svg x="240" y="456" width="16" height="8" viewBox="240 456 16 8"><rect x="240" y="456" width="16" height="8" fill="#fffaff"/><circle cx="250.8" cy="471.6" r="8.5" fill="#635a43"/><circle cx="257.5" cy="449.8" r="8.5" fill="#635a43"/></svg>
<svg x="256" y="456" width="16" height="8" viewBox="256 456 16 8"><rect x="256" y="456" width="16" height="8" fill="#fffaff"/><circle cx="274" cy="471.9" r="8.5" fill="#645943"/><circle cx="257.5" cy="449.8" r="8.5" fill="#645943"/></svg>
<svg x="272" y="456" width="16" height="8" viewBox="272 456 16 8"><rect x="272" y="456" width="16" height="8" fill="#fff4ff"/><circle cx="274" cy="471.9" r="8.5" fill="#6f5343"/><circle cx="281.3" cy="450.3" r="8.5" fill="#6f5343"/></svg>
<svg x="288" y="456" width="16" height="8" viewBox="288 456 16 8"><rect x="288" y="456" width="16" height="8" fill="#fffaff"/><circle cx="297.3" cy="472.3" r="8.5" fill="#655943"/><circle cx="305.2" cy="451" r="8.5" fill="#655943"/></svg>
<svg x="304" y="456" width="16" height="8" viewBox="304 456 16 8"><rect x="304" y="456" width="16" height="8" fill="#fff6ff"/><circle cx="305.2" cy="451" r="8.5" fill="#6b5543"/></svg>
<svg x="320" y="456" width="16" height="8" viewBox="320 456 16 8"><rect x="320" y="456" width="16" height="8" fill="#ffebff"/><circle cx="329.5" cy="451.9" r="8.5" fill="#824a43"/></svg>
<svg x="336" y="456" width="16" height="8" viewBox="336 456 16 8"><rect x="336" y="456" width="16" height="8" fill="#fffaff"/><circle cx="345.6" cy="470.8" r="8.5" fill="#645943"/><circle cx="329.5" cy="451.9" r="8.5" fill="#645943"/><circle cx="356" cy="449.8" r="8.5" fill="#7b8100"/></svg>
<svg x="352" y="456" width="16" height="8" viewBox="352 456 16 8"><rect x="352" y="456" width="16" height="8" fill="#f2ffff"/><circle cx="356" cy="449.8" r="8.5" fill="#648d00"/></svg>
<svg x="656" y="456" width="16" height="8" viewBox="656 456 16 8"><rect x="656" y="456" width="16" height="8" fill="#faffff"/><circle cx="666.3" cy="449.8" r="8.5" fill="#332994"/><circle cx="676.7" cy="470.8" r="8.5" fill="#332994"/></svg>
<svg x="672" y="456" width="16" height="8" viewBox="672 456 16 8"><rect x="672" y="456" width="16" height="8" fill="#faffff"/><circle cx="666.3" cy="449.8" r="8.5" fill="#332994"/><circle cx="692.8" cy="451.9" r="8.5" fill="#332994"/><circle cx="676.7" cy="470.8" r="8.5" fill="#332994"/></svg>
<svg x="688" y="456" width="16" height="8" viewBox="688 456 16 8"><rect x="688" y="456" width="16" height="8" fill="#f2ffff"/><circle cx="692.8" cy="451.9" r="8.5" fill="#2b2d94"/></svg>
<svg x="704" y="456" width="16" height="8" viewBox="704 456 16 8"><rect x="704" y="456" width="16" height="8" fill="#f7ffff"/><circle cx="717.1" cy="451" r="8.5" fill="#302a94"/></svg>
<svg x="720" y="456" width="16" height="8" viewBox="720 456 16 8"><rect x="720" y="456" width="16" height="8" fill="#fdffff"/><circle cx="717.1" cy="451" r="8.5" fill="#362794"/><circle cx="741" cy="450.3" r="8.5" fill="#362794"/><circle cx="725" cy="472.3" r="8.5" fill="#362794"/></svg>
<svg x="736" y="456" width="16" height="8" viewBox="736 456 16 8"><rect x="736" y="456" width="16" height="8" fill="#f8ffff"/><circle cx="741" cy="450.3" r="8.5" fill="#312a94"/><circle cx="748.3" cy="471.9" r="8.5" fill="#312a94"/></svg>
<svg x="752" y="456" width="16" height="8" viewBox="752 456 16 8"><rect x="752" y="456" width="16" height="8" fill="#fbffff"/><circle cx="764.8" cy="449.8" r="8.5" fill="#342894"/><circle cx="771.5" cy="471.6" r="8.5" fill="#342894"/></svg>
<svg x="768" y="456" width="16" height="8" viewBox="768 456 16 8"><rect x="768" y="456" width="16" height="8" fill="#fdffff"/><circle cx="764.8" cy="449.8" r="8.5" fill="#362794"/><circle cx="788.3" cy="449.3" r="8.5" fill="#362794"/><circle cx="771.5" cy="471.6" r="8.5" fill="#362794"/></svg>
<svg x="784" y="456" width="16" height="8" viewBox="784 456 16 8"><rect x="784" y="456" width="16" height="8" fill="#faffff"/><circle cx="788.3" cy="449.3" r="8.5" fill="#332994"/><circle cx="794.5" cy="471.3" r="8.5" fill="#332994"/></svg>
<svg x="800" y="456" width="16" height="8" viewBox="800 456 16 8"><rect x="800" y="456" width="16" height="8" fill="#fcffff"/><circle cx="811.7" cy="449" r="8.5" fill="#352894"/><circle cx="817.5" cy="471.1" r="8.5" fill="#352894"/></svg>
<svg x="816" y="456" width="16" height="8" viewBox="816 456 16 8"><rect x="816" y="456" width="16" height="8" fill="#fcffff"/><circle cx="811.7" cy="449" r="8.5" fill="#352894"/><circle cx="835.5" cy="450.5" r="8.5" fill="#352894"/><circle cx="817.5" cy="471.1" r="8.5" fill="#352894"/></svg>
<svg x="832" y="456" width="16" height="8" viewBox="832 456 16 8"><rect x="832" y="456" width="16" height="8" fill="#f8ffff"/><circle cx="835.5" cy="450.5" r="8.5" fill="#312994"/><circle cx="840.7" cy="472.4" r="8.5" fill="#312994"/></svg>
<svg x="848" y="456" width="16" height="8" viewBox="848 456 16 8"><rect x="848" y="456" width="16" height="8" fill="#f8ffff"/><circle cx="858.7" cy="450.2" r="8.5" fill="#312a94"/><circle cx="863.6" cy="472.1" r="8.5" fill="#312a94"/></svg>
<svg x="864" y="456" width="16" height="8" viewBox="864 456 16 8"><rect x="864" y="456" width="16" height="8" fill="#fdffff"/><circle cx="858.7" cy="450.2" r="8.5" fill="#362794"/><circle cx="881.7" cy="449.8" r="8.5" fill="#362794"/><circle cx="863.6" cy="472.1" r="8.5" fill="#362794"/></svg>
<svg x="880" y="456" width="16" height="8" viewBox="880 456 16 8"><rect x="880" y="456" width="16" height="8" fill="#fbffff"/><circle cx="881.7" cy="449.8" r="8.5" fill="#342894"/><circle cx="886.4" cy="471.9" r="8.5" fill="#342894"/></svg>
<svg x="896" y="456" width="16" height="8" viewBox="896 456 16 8"><rect x="896" y="456" width="16" height="8" fill="#faffff"/><circle cx="904.7" cy="449.6" r="8.5" fill="#332994"/><circle cx="909.1" cy="471.7" r="8.5" fill="#332994"/></svg>
<svg x="912" y="456" width="16" height="8" viewBox="912 456 16 8"><rect x="912" y="456" width="16" height="8" fill="#fdffff"/><circle cx="927.7" cy="449.3" r="8.5" fill="#362794"/><circle cx="909.1" cy="471.7" r="8.5" fill="#362794"/></svg>
<svg x="928" y="456" width="16" height="8" viewBox="928 456 16 8"><rect x="928" y="456" width="16" height="8" fill="#fcffff"/><circle cx="927.7" cy="449.3" r="8.5" fill="#352894"/><circle cx="931.9" cy="471.6" r="8.5" fill="#352894"/></svg>
<svg x="944" y="456" width="16" height="8" viewBox="944 456 16 8"><rect x="944" y="456" width="16" height="8" fill="#fbffff"/><circle cx="950.6" cy="449.1" r="8.5" fill="#342894"/><circle cx="954.6" cy="471.4" r="8.5" fill="#342894"/></svg>
<svg x="48" y="464" width="16" height="8" viewBox="48 464 16 8"><rect x="48" y="464" width="16" height="8" fill="#fff2ff"/><circle cx="67.7" cy="471.4" r="8.5" fill="#735243"/></svg>
<svg x="64" y="464" width="16" height="8" viewBox="64 464 16 8"><rect x="64" y="464" width="16" height="8" fill="#ffd7ff"/><circle cx="67.7" cy="471.4" r="8.5" fill="#a73743"/></svg>
<svg x="80" y="464" width="16" height="8" viewBox="80 464 16 8"><rect x="80" y="464" width="16" height="8" fill="#ffd1ff"/><circle cx="90.4" cy="471.6" r="8.5" fill="#b43043"/></svg>
<svg x="96" y="464" width="16" height="8" viewBox="96 464 16 8"><rect x="96" y="464" width="16" height="8" fill="#ffe4ff"/><circle cx="90.4" cy="471.6" r="8.5" fill="#8f4343"/><circle cx="113.2" cy="471.7" r="8.5" fill="#8f4343"/></svg>
<svg x="112" y="464" width="16" height="8" viewBox="112 464 16 8"><rect x="112" y="464" width="16" height="8" fill="#ffe1ff"/><circle cx="113.2" cy="471.7" r="8.5" fill="#954043"/><circle cx="135.9" cy="471.9" r="8.5" fill="#954043"/></svg>
<svg x="128" y="464" width="16" height="8" viewBox="128 464 16 8"><rect x="128" y="464" width="16" height="8" fill="#ffceff"/><circle cx="135.9" cy="471.9" r="8.5" fill="#bb2d43"/></svg>
<svg x="144" y="464" width="16" height="8" viewBox="144 464 16 8"><rect x="144" y="464" width="16" height="8" fill="#ffe1ff"/><circle cx="135.9" cy="471.9" r="8.5" fill="#954043"/><circle cx="158.7" cy="472.1" r="8.5" fill="#954043"/></svg>
<svg x="160" y="464" width="16" height="8" viewBox="160 464 16 8"><rect x="160" y="464" width="16" height="8" fill="#ffe6ff"/><circle cx="158.7" cy="472.1" r="8.5" fill="#8b4543"/><circle cx="181.6" cy="472.4" r="8.5" fill="#8b4543"/></svg>
<svg x="176" y="464" width="16" height="8" viewBox="176 464 16 8"><rect x="176" y="464" width="16" height="8" fill="#ffd5ff"/><circle cx="181.6" cy="472.4" r="8.5" fill="#ac3443"/></svg>
<svg x="192" y="464" width="16" height="8" viewBox="192 464 16 8"><rect x="192" y="464" width="16" height="8" fill="#ffd8ff"/><circle cx="204.8" cy="471.1" r="8.5" fill="#a63743"/></svg>
<svg x="208" y="464" width="16" height="8" viewBox="208 464 16 8"><rect x="208" y="464" width="16" height="8" fill="#ffe3ff"/><circle cx="204.8" cy="471.1" r="8.5" fill="#924243"/><circle cx="227.8" cy="471.3" r="8.5" fill="#924243"/></svg>
<svg x="224" y="464" width="16" height="8" viewBox="224 464 16 8"><rect x="224" y="464" width="16" height="8" fill="#ffd6ff"/><circle cx="227.8" cy="471.3" r="8.5" fill="#a93643"/></svg>
<svg x="240" y="464" width="16" height="8" viewBox="240 464 16 8"><rect x="240" y="464" width="16" height="8" fill="#ffd2ff"/><circle cx="250.8" cy="471.6" r="8.5" fill="#b23143"/></svg>
<svg x="256" y="464" width="16" height="8" viewBox="256 464 16 8"><rect x="256" y="464" width="16" height="8" fill="#ffe6ff"/><circle cx="250.8" cy="471.6" r="8.5" fill="#8b4543"/><circle cx="274" cy="471.9" r="8.5" fill="#8b4543"/></svg>
<svg x="272" y="464" width="16" height="8" viewBox="272 464 16 8"><rect x="272" y="464" width="16" height="8" fill="#ffdfff"/><circle cx="274" cy="471.9" r="8.5" fill="#993e43"/></svg>
<svg x="288" y="464" width="16" height="8" viewBox="288 464 16 8"><rect x="288" y="464" width="16" height="8" fill="#ffd1ff"/><circle cx="297.3" cy="472.3" r="8.5" fill="#b53043"/></svg>
<svg x="304" y="464" width="16" height="8" viewBox="304 464 16 8"><rect x="304" y="464" width="16" height="8" fill="#ffe9ff"/><circle cx="297.3" cy="472.3" r="8.5" fill="#854843"/><circle cx="320.8" cy="472.7" r="8.5" fill="#854843"/></svg>
<svg x="320" y="464" width="16" height="8" viewBox="320 464 16 8"><rect x="320" y="464" width="16" height="8" fill="#ffe6ff"/><circle cx="320.8" cy="472.7" r="8.5" fill="#8b4543"/></svg>
<svg x="336" y="464" width="16" height="8" viewBox="336 464 16 8"><rect x="336" y="464" width="16" height="8" fill="#ffcdff"/><circle cx="345.6" cy="470.8" r="8.5" fill="#bc2c43"/></svg>
<svg x="352" y="464" width="16" height="8" viewBox="352 464 16 8"><rect x="352" y="464" width="16" height="8" fill="#fffbff"/><circle cx="345.6" cy="470.8" r="8.5" fill="#625a43"/></svg>
<svg x="656" y="464" width="16" height="8" viewBox="656 464 16 8"><rect x="656" y="464" width="16" height="8" fill="#f8ffff"/><circle cx="676.7" cy="470.8" r="8.5" fill="#312a94"/></svg>
<svg x="672" y="464" width="16" height="8" viewBox="672 464 16 8"><rect x="672" y="464" width="16" height="8" fill="#e1ffff"/><circle cx="676.7" cy="470.8" r="8.5" fill="#1a3594"/></svg>
<svg x="688" y="464" width="16" height="8" viewBox="688 464 16 8"><rect x="688" y="464" width="16" height="8" fill="#eaffff"/><circle cx="701.5" cy="472.7" r="8.5" fill="#233194"/></svg>
<svg x="704" y="464" width="16" height="8" viewBox="704 464 16 8"><rect x="704" y="464" width="16" height="8" fill="#f1ffff"/><circle cx="701.5" cy="472.7" r="8.5" fill="#2a2d94"/><circle cx="725" cy="472.3" r="8.5" fill="#2a2d94"/></svg>
<svg x="720" y="464" width="16" height="8" viewBox="720 464 16 8"><rect x="720" y="464" width="16" height="8" fill="#e3ffff"/><circle cx="725" cy="472.3" r="8.5" fill="#1c3494"/></svg>
<svg x="736" y="464" width="16" height="8" viewBox="736 464 16 8"><rect x="736" y="464" width="16" height="8" fill="#e5ffff"/><circle cx="748.3" cy="471.9" r="8.5" fill="#1e3394"/></svg>
<svg x="752" y="464" width="16" height="8" viewBox="752 464 16 8"><rect x="752" y="464" width="16" height="8" fill="#eeffff"/><circle cx="748.3" cy="471.9" r="8.5" fill="#272f94"/><circle cx="771.5" cy="471.6" r="8.5" fill="#272f94"/></svg>
<svg x="768" y="464" width="16" height="8" viewBox="768 464 16 8"><rect x="768" y="464" width="16" height="8" fill="#e5ffff"/><circle cx="771.5" cy="471.6" r="8.5" fill="#1e3394"/></svg>
<svg x="784" y="464" width="16" height="8" viewBox="784 464 16 8"><rect x="784" y="464" width="16" height="8" fill="#e0ffff"/><circle cx="794.5" cy="471.3" r="8.5" fill="#193694"/></svg>
<svg x="800" y="464" width="16" height="8" viewBox="800 464 16 8"><rect x="800" y="464" width="16" height="8" fill="#ecffff"/><circle cx="794.5" cy="471.3" r="8.5" fill="#253094"/><circle cx="817.5" cy="471.1" r="8.5" fill="#253094"/></svg>
<svg x="816" y="464" width="16" height="8" viewBox="816 464 16 8"><rect x="816" y="464" width="16" height="8" fill="#e9ffff"/><circle cx="817.5" cy="471.1" r="8.5" fill="#223194"/></svg>
<svg x="832" y="464" width="16" height="8" viewBox="832 464 16 8"><rect x="832" y="464" width="16" height="8" fill="#e0ffff"/><circle cx="840.7" cy="472.4" r="8.5" fill="#193694"/></svg>
<svg x="848" y="464" width="16" height="8" viewBox="848 464 16 8"><rect x="848" y="464" width="16" height="8" fill="#ecffff"/><circle cx="840.7" cy="472.4" r="8.5" fill="#253094"/><circle cx="863.6" cy="472.1" r="8.5" fill="#253094"/></svg>
<svg x="864" y="464" width="16" height="8" viewBox="864 464 16 8"><rect x="864" y="464" width="16" height="8" fill="#edffff"/><circle cx="863.6" cy="472.1" r="8.5" fill="#262f94"/><circle cx="886.4" cy="471.9" r="8.5" fill="#262f94"/></svg>
<svg x="880" y="464" width="16" height="8" viewBox="880 464 16 8"><rect x="880" y="464" width="16" height="8" fill="#e0ffff"/><circle cx="886.4" cy="471.9" r="8.5" fill="#193694"/></svg>
<svg x="896" y="464" width="16" height="8" viewBox="896 464 16 8"><rect x="896" y="464" width="16" height="8" fill="#e7ffff"/><circle cx="909.1" cy="471.7" r="8.5" fill="#203294"/></svg>
<svg x="912" y="464" width="16" height="8" viewBox="912 464 16 8"><rect x="912" y="464" width="16" height="8" fill="#edffff"/><circle cx="909.1" cy="471.7" r="8.5" fill="#262f94"/><circle cx="931.9" cy="471.6" r="8.5" fill="#262f94"/></svg>
<svg x="928" y="464" width="16" height="8" viewBox="928 464 16 8"><rect x="928" y="464" width="16" height="8" fill="#e4ffff"/><circle cx="931.9" cy="471.6" r="8.5" fill="#1d3494"/></svg>
<svg x="944" y="464" width="16" height="8" viewBox="944 464 16 8"><rect x="944" y="464" width="16" height="8" fill="#e1ffff"/><circle cx="954.6" cy="471.4" r="8.5" fill="#1a3694"/></svg>
<svg x="960" y="464" width="16" height="8" viewBox="960 464 16 8"><rect x="960" y="464" width="16" height="8" fill="#faffff"/><circle cx="954.6" cy="471.4" r="8.5" fill="#332894"/></svg>
<svg x="48" y="472" width="16" height="8" viewBox="48 472 16 8"><rect x="48" y="472" width="16" height="8" fill="#fff4ff"/><circle cx="67.7" cy="471.4" r="8.5" fill="#6e5443"/></svg>
<svg x="64" y="472" width="16" height="8" viewBox="64 472 16 8"><rect x="64" y="472" width="16" height="8" fill="#ffdbff"/><circle cx="67.7" cy="471.4" r="8.5" fill="#a03a43"/></svg>
<svg x="80" y="472" width="16" height="8" viewBox="80 472 16 8"><rect x="80" y="472" width="16" height="8" fill="#ffd5ff"/><circle cx="90.4" cy="471.6" r="8.5" fill="#ab3543"/></svg>
<svg x="96" y="472" width="16" height="8" viewBox="96 472 16 8"><rect x="96" y="472" width="16" height="8" fill="#ffe6ff"/><circle cx="90.4" cy="471.6" r="8.5" fill="#8a4543"/><circle cx="113.2" cy="471.7" r="8.5" fill="#8a4543"/></svg>
<svg x="112" y="472" width="16" height="8" viewBox="112 472 16 8"><rect x="112" y="472" width="16" height="8" fill="#ffe2ff"/><circle cx="113.2" cy="471.7" r="8.5" fill="#924143"/><circle cx="135.9" cy="471.9" r="8.5" fill="#924143"/></svg>
<svg x="128" y="472" width="16" height="8" viewBox="128 472 16 8"><rect x="128" y="472" width="16" height="8" fill="#ffceff"/><circle cx="135.9" cy="471.9" r="8.5" fill="#ba2d43"/></svg>
<svg x="144" y="472" width="16" height="8" viewBox="144 472 16 8"><rect x="144" y="472" width="16" height="8" fill="#ffe1ff"/><circle cx="135.9" cy="471.9" r="8.5" fill="#944143"/><circle cx="158.7" cy="472.1" r="8.5" fill="#944143"/></svg>
<svg x="160" y="472" width="16" height="8" viewBox="160 472 16 8"><rect x="160" y="472" width="16" height="8" fill="#ffe5ff"/><circle cx="158.7" cy="472.1" r="8.5" fill="#8d4443"/><circle cx="181.6" cy="472.4" r="8.5" fill="#8d4443"/></svg>
<svg x="176" y="472" width="16" height="8" viewBox="176 472 16 8"><rect x="176" y="472" width="16" height="8" fill="#ffd1ff"/><circle cx="181.6" cy="472.4" r="8.5" fill="#b43043"/></svg>
<svg x="192" y="472" width="16" height="8" viewBox="192 472 16 8"><rect x="192" y="472" width="16" height="8" fill="#ffdfff"/><circle cx="204.8" cy="471.1" r="8.5" fill="#983f43"/></svg>
<svg x="208" y="472" width="16" height="8" viewBox="208 472 16 8"><rect x="208" y="472" width="16" height="8" fill="#ffeaff"/><circle cx="204.8" cy="471.1" r="8.5" fill="#824a43"/><circle cx="227.8" cy="471.3" r="8.5" fill="#824a43"/></svg>
<svg x="224" y="472" width="16" height="8" viewBox="224 472 16 8"><rect x="224" y="472" width="16" height="8" fill="#ffdcff"/><circle cx="227.8" cy="471.3" r="8.5" fill="#9e3b43"/></svg>
<svg x="240" y="472" width="16" height="8" viewBox="240 472 16 8"><rect x="240" y="472" width="16" height="8" fill="#ffd6ff"/><circle cx="250.8" cy="471.6" r="8.5" fill="#a93643"/></svg>
<svg x="256" y="472" width="16" height="8" viewBox="256 472 16 8"><rect x="256" y="472" width="16" height="8" fill="#ffe7ff"/><circle cx="250.8" cy="471.6" r="8.5" fill="#884743"/><circle cx="274" cy="471.9" r="8.5" fill="#884743"/></svg>
<svg x="272" y="472" width="16" height="8" viewBox="272 472 16 8"><rect x="272" y="472" width="16" height="8" fill="#ffdfff"/><circle cx="274" cy="471.9" r="8.5" fill="#993e43"/></svg>
<svg x="288" y="472" width="16" height="8" viewBox="288 472 16 8"><rect x="288" y="472" width="16" height="8" fill="#ffcfff"/><circle cx="297.3" cy="472.3" r="8.5" fill="#b92e43"/></svg>
<svg x="304" y="472" width="16" height="8" viewBox="304 472 16 8"><rect x="304" y="472" width="16" height="8" fill="#ffe4ff"/><circle cx="297.3" cy="472.3" r="8.5" fill="#8e4343"/><circle cx="320.8" cy="472.7" r="8.5" fill="#8e4343"/></svg>
<svg x="320" y="472" width="16" height="8" viewBox="320 472 16 8"><rect x="320" y="472" width="16" height="8" fill="#ffe2ff"/><circle cx="320.8" cy="472.7" r="8.5" fill="#944143"/></svg>
<svg x="336" y="472" width="16" height="8" viewBox="336 472 16 8"><rect x="336" y="472" width="16" height="8" fill="#ffd9ff"/><circle cx="345.6" cy="470.8" r="8.5" fill="#a53843"/></svg>
<svg x="352" y="472" width="16" height="8" viewBox="352 472 16 8"><rect x="352" y="472" width="16" height="8" fill="#fffdff"/><circle cx="345.6" cy="470.8" r="8.5" fill="#5e5c43"/></svg>
<svg x="656" y="472" width="16" height="8" viewBox="656 472 16 8"><rect x="656" y="472" width="16" height="8" fill="#fbffff"/><circle cx="676.7" cy="470.8" r="8.5" fill="#342894"/></svg>
<svg x="672" y="472" width="16" height="8" viewBox="672 472 16 8"><rect x="672" y="472" width="16" height="8" fill="#e8ffff"/><circle cx="676.7" cy="470.8" r="8.5" fill="#213294"/></svg>
<svg x="688" y="472" width="16" height="8" viewBox="688 472 16 8"><rect x="688" y="472" width="16" height="8" fill="#e7ffff"/><circle cx="701.5" cy="472.7" r="8.5" fill="#203294"/></svg>
<svg x="704" y="472" width="16" height="8" viewBox="704 472 16 8"><rect x="704" y="472" width="16" height="8" fill="#eeffff"/><circle cx="701.5" cy="472.7" r="8.5" fill="#272f94"/><circle cx="725" cy="472.3" r="8.5" fill="#272f94"/></svg>
<svg x="720" y="472" width="16" height="8" viewBox="720 472 16 8"><rect x="720" y="472" width="16" height="8" fill="#e2ffff"/><circle cx="725" cy="472.3" r="8.5" fill="#1b3594"/></svg>
<svg x="736" y="472" width="16" height="8" viewBox="736 472 16 8"><rect x="736" y="472" width="16" height="8" fill="#e6ffff"/><circle cx="748.3" cy="471.9" r="8.5" fill="#1f3394"/></svg>
<svg x="752" y="472" width="16" height="8" viewBox="752 472 16 8"><rect x="752" y="472" width="16" height="8" fill="#f0ffff"/><circle cx="748.3" cy="471.9" r="8.5" fill="#292e94"/><circle cx="771.5" cy="471.6" r="8.5" fill="#292e94"/></svg>
<svg x="768" y="472" width="16" height="8" viewBox="768 472 16 8"><rect x="768" y="472" width="16" height="8" fill="#e7ffff"/><circle cx="771.5" cy="471.6" r="8.5" fill="#203294"/></svg>
<svg x="784" y="472" width="16" height="8" viewBox="784 472 16 8"><rect x="784" y="472" width="16" height="8" fill="#e4ffff"/><circle cx="794.5" cy="471.3" r="8.5" fill="#1d3494"/></svg>
<svg x="800" y="472" width="16" height="8" viewBox="800 472 16 8"><rect x="800" y="472" width="16" height="8" fill="#f1ffff"/><circle cx="794.5" cy="471.3" r="8.5" fill="#2a2d94"/><circle cx="817.5" cy="471.1" r="8.5" fill="#2a2d94"/></svg>
<svg x="816" y="472" width="16" height="8" viewBox="816 472 16 8"><rect x="816" y="472" width="16" height="8" fill="#edffff"/><circle cx="817.5" cy="471.1" r="8.5" fill="#262f94"/></svg>
<svg x="832" y="472" width="16" height="8" viewBox="832 472 16 8"><rect x="832" y="472" width="16" height="8" fill="#ddffff"/><circle cx="840.7" cy="472.4" r="8.5" fill="#163794"/></svg>
<svg x="848" y="472" width="16" height="8" viewBox="848 472 16 8"><rect x="848" y="472" width="16" height="8" fill="#ecffff"/><circle cx="840.7" cy="472.4" r="8.5" fill="#253094"/><circle cx="863.6" cy="472.1" r="8.5" fill="#253094"/></svg>
<svg x="864" y="472" width="16" height="8" viewBox="864 472 16 8"><rect x="864" y="472" width="16" height="8" fill="#edffff"/><circle cx="863.6" cy="472.1" r="8.5" fill="#262f94"/><circle cx="886.4" cy="471.9" r="8.5" fill="#262f94"/></svg>
<svg x="880" y="472" width="16" height="8" viewBox="880 472 16 8"><rect x="880" y="472" width="16" height="8" fill="#e0ffff"/><circle cx="886.4" cy="471.9" r="8.5" fill="#193694"/></svg>
<svg x="896" y="472" width="16" height="8" viewBox="896 472 16 8"><rect x="896" y="472" width="16" height="8" fill="#e8ffff"/><circle cx="909.1" cy="471.7" r="8.5" fill="#213294"/></svg>
<svg x="912" y="472" width="16" height="8" viewBox="912 472 16 8"><rect x="912" y="472" width="16" height="8" fill="#efffff"/><circle cx="909.1" cy="471.7" r="8.5" fill="#282e94"/><circle cx="931.9" cy="471.6" r="8.5" fill="#282e94"/></svg>
<svg x="928" y="472" width="16" height="8" viewBox="928 472 16 8"><rect x="928" y="472" width="16" height="8" fill="#e6ffff"/><circle cx="931.9" cy="471.6" r="8.5" fill="#1f3394"/></svg>
<svg x="944" y="472" width="16" height="8" viewBox="944 472 16 8"><rect x="944" y="472" width="16" height="8" fill="#e4ffff"/><circle cx="954.6" cy="471.4" r="8.5" fill="#1d3494"/></svg>
<svg x="960" y="472" width="16" height="8" viewBox="960 472 16 8"><rect x="960" y="472" width="16" height="8" fill="#fbffff"/><circle cx="954.6" cy="471.4" r="8.5" fill="#342894"/></svg>
<svg x="48" y="480" width="16" height="8" viewBox="48 480 16 8"><rect x="48" y="480" width="16" height="8" fill="#fffbff"/><circle cx="64.9" cy="493.9" r="8.5" fill="#615b43"/></svg>
<svg x="64" y="480" width="16" height="8" viewBox="64 480 16 8"><rect x="64" y="480" width="16" height="8" fill="#fff9ff"/><circle cx="64.9" cy="493.9" r="8.5" fill="#655943"/></svg>
<svg x="80" y="480" width="16" height="8" viewBox="80 480 16 8"><rect x="80" y="480" width="16" height="8" fill="#fff6ff"/><circle cx="87.4" cy="494" r="8.5" fill="#6c5543"/><circle cx="90.4" cy="471.6" r="8.5" fill="#6c5543"/></svg>
<svg x="96" y="480" width="16" height="8" viewBox="96 480 16 8"><rect x="96" y="480" width="16" height="8" fill="#fff8ff"/><circle cx="110" cy="494.1" r="8.5" fill="#675743"/><circle cx="113.2" cy="471.7" r="8.5" fill="#675743"/></svg>
<svg x="112" y="480" width="16" height="8" viewBox="112 480 16 8"><rect x="112" y="480" width="16" height="8" fill="#fffcff"/><circle cx="110" cy="494.1" r="8.5" fill="#5f5b43"/><circle cx="132.6" cy="494.2" r="8.5" fill="#5f5b43"/><circle cx="113.2" cy="471.7" r="8.5" fill="#5f5b43"/></svg>
<svg x="128" y="480" width="16" height="8" viewBox="128 480 16 8"><rect x="128" y="480" width="16" height="8" fill="#fff7ff"/><circle cx="132.6" cy="494.2" r="8.5" fill="#6a5643"/><circle cx="135.9" cy="471.9" r="8.5" fill="#6a5643"/></svg>
<svg x="144" y="480" width="16" height="8" viewBox="144 480 16 8"><rect x="144" y="480" width="16" height="8" fill="#fff7ff"/><circle cx="155.2" cy="494.3" r="8.5" fill="#6a5643"/><circle cx="158.7" cy="472.1" r="8.5" fill="#6a5643"/></svg>
<svg x="160" y="480" width="16" height="8" viewBox="160 480 16 8"><rect x="160" y="480" width="16" height="8" fill="#fffdff"/><circle cx="155.2" cy="494.3" r="8.5" fill="#5e5c43"/><circle cx="177.8" cy="494.5" r="8.5" fill="#5e5c43"/><circle cx="158.7" cy="472.1" r="8.5" fill="#5e5c43"/></svg>
<svg x="176" y="480" width="16" height="8" viewBox="176 480 16 8"><rect x="176" y="480" width="16" height="8" fill="#fff8ff"/><circle cx="177.8" cy="494.5" r="8.5" fill="#675743"/><circle cx="181.6" cy="472.4" r="8.5" fill="#675743"/></svg>
<svg x="192" y="480" width="16" height="8" viewBox="192 480 16 8"><rect x="192" y="480" width="16" height="8" fill="#fff3ff"/><circle cx="200.6" cy="493.6" r="8.5" fill="#725243"/></svg>
<svg x="208" y="480" width="16" height="8" viewBox="208 480 16 8"><rect x="208" y="480" width="16" height="8" fill="#fff9ff"/><circle cx="223.3" cy="493.7" r="8.5" fill="#665843"/></svg>
<svg x="224" y="480" width="16" height="8" viewBox="224 480 16 8"><rect x="224" y="480" width="16" height="8" fill="#fffbff"/><circle cx="223.3" cy="493.7" r="8.5" fill="#625a43"/><circle cx="246" cy="493.8" r="8.5" fill="#625a43"/></svg>
<svg x="240" y="480" width="16" height="8" viewBox="240 480 16 8"><rect x="240" y="480" width="16" height="8" fill="#fff4ff"/><circle cx="246" cy="493.8" r="8.5" fill="#6f5443"/><circle cx="250.8" cy="471.6" r="8.5" fill="#6f5443"/></svg>
<svg x="256" y="480" width="16" height="8" viewBox="256 480 16 8"><rect x="256" y="480" width="16" height="8" fill="#fff7ff"/><circle cx="268.8" cy="494" r="8.5" fill="#695643"/><circle cx="274" cy="471.9" r="8.5" fill="#695643"/></svg>
<svg x="272" y="480" width="16" height="8" viewBox="272 480 16 8"><rect x="272" y="480" width="16" height="8" fill="#fffcff"/><circle cx="268.8" cy="494" r="8.5" fill="#5f5c43"/><circle cx="291.6" cy="494.2" r="8.5" fill="#5f5c43"/><circle cx="274" cy="471.9" r="8.5" fill="#5f5c43"/></svg>
<svg x="288" y="480" width="16" height="8" viewBox="288 480 16 8"><rect x="288" y="480" width="16" height="8" fill="#fff7ff"/><circle cx="291.6" cy="494.2" r="8.5" fill="#6a5643"/><circle cx="297.3" cy="472.3" r="8.5" fill="#6a5643"/></svg>
<svg x="304" y="480" width="16" height="8" viewBox="304 480 16 8"><rect x="304" y="480" width="16" height="8" fill="#fff7ff"/><circle cx="314.6" cy="494.4" r="8.5" fill="#695743"/><circle cx="320.8" cy="472.7" r="8.5" fill="#695743"/></svg>
<svg x="320" y="480" width="16" height="8" viewBox="320 480 16 8"><rect x="320" y="480" width="16" height="8" fill="#fff9ff"/><circle cx="314.6" cy="494.4" r="8.5" fill="#665843"/><circle cx="338.1" cy="492.9" r="8.5" fill="#665843"/><circle cx="320.8" cy="472.7" r="8.5" fill="#665843"/></svg>
<svg x="336" y="480" width="16" height="8" viewBox="336 480 16 8"><rect x="336" y="480" width="16" height="8" fill="#fff4ff"/><circle cx="338.1" cy="492.9" r="8.5" fill="#6f5343"/></svg>
<svg x="672" y="480" width="16" height="8" viewBox="672 480 16 8"><rect x="672" y="480" width="16" height="8" fill="#f6ffff"/><circle cx="684.2" cy="492.9" r="8.5" fill="#2f2b94"/></svg>
<svg x="688" y="480" width="16" height="8" viewBox="688 480 16 8"><rect x="688" y="480" width="16" height="8" fill="#fcffff"/><circle cx="701.5" cy="472.7" r="8.5" fill="#352894"/><circle cx="684.2" cy="492.9" r="8.5" fill="#352894"/><circle cx="707.7" cy="494.4" r="8.5" fill="#352894"/></svg>
<svg x="704" y="480" width="16" height="8" viewBox="704 480 16 8"><rect x="704" y="480" width="16" height="8" fill="#fbffff"/><circle cx="701.5" cy="472.7" r="8.5" fill="#342894"/><circle cx="707.7" cy="494.4" r="8.5" fill="#342894"/></svg>
<svg x="720" y="480" width="16" height="8" viewBox="720 480 16 8"><rect x="720" y="480" width="16" height="8" fill="#f9ffff"/><circle cx="725" cy="472.3" r="8.5" fill="#322994"/><circle cx="730.7" cy="494.2" r="8.5" fill="#322994"/></svg>
<svg x="736" y="480" width="16" height="8" viewBox="736 480 16 8"><rect x="736" y="480" width="16" height="8" fill="#fdffff"/><circle cx="748.3" cy="471.9" r="8.5" fill="#362794"/><circle cx="730.7" cy="494.2" r="8.5" fill="#362794"/><circle cx="753.5" cy="494" r="8.5" fill="#362794"/></svg>
<svg x="752" y="480" width="16" height="8" viewBox="752 480 16 8"><rect x="752" y="480" width="16" height="8" fill="#fbffff"/><circle cx="753.5" cy="494" r="8.5" fill="#342894"/></svg>
<svg x="768" y="480" width="16" height="8" viewBox="768 480 16 8"><rect x="768" y="480" width="16" height="8" fill="#f8ffff"/><circle cx="771.5" cy="471.6" r="8.5" fill="#312a94"/><circle cx="776.3" cy="493.8" r="8.5" fill="#312a94"/></svg>
<svg x="784" y="480" width="16" height="8" viewBox="784 480 16 8"><rect x="784" y="480" width="16" height="8" fill="#fbffff"/><circle cx="799" cy="493.7" r="8.5" fill="#342894"/></svg>
<svg x="800" y="480" width="16" height="8" viewBox="800 480 16 8"><rect x="800" y="480" width="16" height="8" fill="#fcffff"/><circle cx="799" cy="493.7" r="8.5" fill="#352894"/><circle cx="821.7" cy="493.6" r="8.5" fill="#352894"/></svg>
<svg x="816" y="480" width="16" height="8" viewBox="816 480 16 8"><rect x="816" y="480" width="16" height="8" fill="#f7ffff"/><circle cx="821.7" cy="493.6" r="8.5" fill="#302a94"/></svg>
<svg x="832" y="480" width="16" height="8" viewBox="832 480 16 8"><rect x="832" y="480" width="16" height="8" fill="#faffff"/><circle cx="840.7" cy="472.4" r="8.5" fill="#332994"/><circle cx="844.5" cy="494.5" r="8.5" fill="#332994"/></svg>
<svg x="848" y="480" width="16" height="8" viewBox="848 480 16 8"><rect x="848" y="480" width="16" height="8" fill="#feffff"/><circle cx="863.6" cy="472.1" r="8.5" fill="#372794"/><circle cx="844.5" cy="494.5" r="8.5" fill="#372794"/><circle cx="867.1" cy="494.3" r="8.5" fill="#372794"/></svg>
<svg x="864" y="480" width="16" height="8" viewBox="864 480 16 8"><rect x="864" y="480" width="16" height="8" fill="#faffff"/><circle cx="863.6" cy="472.1" r="8.5" fill="#332994"/><circle cx="867.1" cy="494.3" r="8.5" fill="#332994"/></svg>
<svg x="880" y="480" width="16" height="8" viewBox="880 480 16 8"><rect x="880" y="480" width="16" height="8" fill="#f9ffff"/><circle cx="886.4" cy="471.9" r="8.5" fill="#322994"/><circle cx="889.7" cy="494.2" r="8.5" fill="#322994"/></svg>
<svg x="896" y="480" width="16" height="8" viewBox="896 480 16 8"><rect x="896" y="480" width="16" height="8" fill="#fcffff"/><circle cx="909.1" cy="471.7" r="8.5" fill="#352894"/><circle cx="912.3" cy="494.1" r="8.5" fill="#352894"/></svg>
<svg x="912" y="480" width="16" height="8" viewBox="912 480 16 8"><rect x="912" y="480" width="16" height="8" fill="#fcffff"/><circle cx="912.3" cy="494.1" r="8.5" fill="#352894"/></svg>
<svg x="928" y="480" width="16" height="8" viewBox="928 480 16 8"><rect x="928" y="480" width="16" height="8" fill="#f9ffff"/><circle cx="931.9" cy="471.6" r="8.5" fill="#322994"/><circle cx="934.9" cy="494" r="8.5" fill="#322994"/></svg>
<svg x="944" y="480" width="16" height="8" viewBox="944 480 16 8"><rect x="944" y="480" width="16" height="8" fill="#faffff"/><circle cx="957.4" cy="493.9" r="8.5" fill="#332994"/></svg>
<svg x="960" y="480" width="16" height="8" viewBox="960 480 16 8"><rect x="960" y="480" width="16" height="8" fill="#feffff"/><circle cx="957.4" cy="493.9" r="8.5" fill="#372794"/></svg>
<svg x="48" y="488" width="16" height="8" viewBox="48 488 16 8"><rect x="48" y="488" width="16" height="8" fill="#ffe6ff"/><circle cx="64.9" cy="493.9" r="8.5" fill="#8b4543"/></svg>
<svg x="64" y="488" width="16" height="8" viewBox="64 488 16 8"><rect x="64" y="488" width="16" height="8" fill="#ffddff"/><circle cx="64.9" cy="493.9" r="8.5" fill="#9c3c43"/><circle cx="87.4" cy="494" r="8.5" fill="#9c3c43"/></svg>
<svg x="80" y="488" width="16" height="8" viewBox="80 488 16 8"><rect x="80" y="488" width="16" height="8" fill="#ffc8ff"/><circle cx="87.4" cy="494" r="8.5" fill="#c52743"/></svg>
<svg x="96" y="488" width="16" height="8" viewBox="96 488 16 8"><rect x="96" y="488" width="16" height="8" fill="#ffdbff"/><circle cx="110" cy="494.1" r="8.5" fill="#a03a43"/></svg>
<svg x="112" y="488" width="16" height="8" viewBox="112 488 16 8"><rect x="112" y="488" width="16" height="8" fill="#ffdeff"/><circle cx="110" cy="494.1" r="8.5" fill="#9a3d43"/><circle cx="132.6" cy="494.2" r="8.5" fill="#9a3d43"/></svg>
<svg x="128" y="488" width="16" height="8" viewBox="128 488 16 8"><rect x="128" y="488" width="16" height="8" fill="#ffd2ff"/><circle cx="132.6" cy="494.2" r="8.5" fill="#b23143"/></svg>
<svg x="144" y="488" width="16" height="8" viewBox="144 488 16 8"><rect x="144" y="488" width="16" height="8" fill="#ffd1ff"/><circle cx="155.2" cy="494.3" r="8.5" fill="#b43043"/></svg>
<svg x="160" y="488" width="16" height="8" viewBox="160 488 16 8"><rect x="160" y="488" width="16" height="8" fill="#ffdfff"/><circle cx="155.2" cy="494.3" r="8.5" fill="#983e43"/><circle cx="177.8" cy="494.5" r="8.5" fill="#983e43"/></svg>
<svg x="176" y="488" width="16" height="8" viewBox="176 488 16 8"><rect x="176" y="488" width="16" height="8" fill="#ffddff"/><circle cx="177.8" cy="494.5" r="8.5" fill="#9d3c43"/></svg>
<svg x="192" y="488" width="16" height="8" viewBox="192 488 16 8"><rect x="192" y="488" width="16" height="8" fill="#ffc8ff"/><circle cx="200.6" cy="493.6" r="8.5" fill="#c62743"/></svg>
<svg x="208" y="488" width="16" height="8" viewBox="208 488 16 8"><rect x="208" y="488" width="16" height="8" fill="#ffdeff"/><circle cx="200.6" cy="493.6" r="8.5" fill="#9b3d43"/><circle cx="223.3" cy="493.7" r="8.5" fill="#9b3d43"/></svg>
<svg x="224" y="488" width="16" height="8" viewBox="224 488 16 8"><rect x="224" y="488" width="16" height="8" fill="#ffdfff"/><circle cx="223.3" cy="493.7" r="8.5" fill="#9a3e43"/><circle cx="246" cy="493.8" r="8.5" fill="#9a3e43"/></svg>
<svg x="240" y="488" width="16" height="8" viewBox="240 488 16 8"><rect x="240" y="488" width="16" height="8" fill="#ffcdff"/><circle cx="246" cy="493.8" r="8.5" fill="#bc2c43"/></svg>
<svg x="256" y="488" width="16" height="8" viewBox="256 488 16 8"><rect x="256" y="488" width="16" height="8" fill="#ffd7ff"/><circle cx="268.8" cy="494" r="8.5" fill="#a83643"/></svg>
<svg x="272" y="488" width="16" height="8" viewBox="272 488 16 8"><rect x="272" y="488" width="16" height="8" fill="#ffdfff"/><circle cx="268.8" cy="494" r="8.5" fill="#993e43"/><circle cx="291.6" cy="494.2" r="8.5" fill="#993e43"/></svg>
<svg x="288" y="488" width="16" height="8" viewBox="288 488 16 8"><rect x="288" y="488" width="16" height="8" fill="#ffd6ff"/><circle cx="291.6" cy="494.2" r="8.5" fill="#ab3543"/></svg>
<svg x="304" y="488" width="16" height="8" viewBox="304 488 16 8"><rect x="304" y="488" width="16" height="8" fill="#ffd0ff"/><circle cx="314.6" cy="494.4" r="8.5" fill="#b72f43"/></svg>
<svg x="320" y="488" width="16" height="8" viewBox="320 488 16 8"><rect x="320" y="488" width="16" height="8" fill="#ffe1ff"/><circle cx="314.6" cy="494.4" r="8.5" fill="#944143"/><circle cx="338.1" cy="492.9" r="8.5" fill="#944143"/></svg>
<svg x="336" y="488" width="16" height="8" viewBox="336 488 16 8"><rect x="336" y="488" width="16" height="8" fill="#ffdaff"/><circle cx="338.1" cy="492.9" r="8.5" fill="#a23943"/></svg>
<svg x="672" y="488" width="16" height="8" viewBox="672 488 16 8"><rect x="672" y="488" width="16" height="8" fill="#e2ffff"/><circle cx="684.2" cy="492.9" r="8.5" fill="#1b3594"/></svg>
<svg x="688" y="488" width="16" height="8" viewBox="688 488 16 8"><rect x="688" y="488" width="16" height="8" fill="#ebffff"/><circle cx="684.2" cy="492.9" r="8.5" fill="#243094"/><circle cx="707.7" cy="494.4" r="8.5" fill="#243094"/></svg>
<svg x="704" y="488" width="16" height="8" viewBox="704 488 16 8"><rect x="704" y="488" width="16" height="8" fill="#e3ffff"/><circle cx="707.7" cy="494.4" r="8.5" fill="#1c3494"/></svg>
<svg x="720" y="488" width="16" height="8" viewBox="720 488 16 8"><rect x="720" y="488" width="16" height="8" fill="#dfffff"/><circle cx="730.7" cy="494.2" r="8.5" fill="#183694"/></svg>
<svg x="736" y="488" width="16" height="8" viewBox="736 488 16 8"><rect x="736" y="488" width="16" height="8" fill="#eaffff"/><circle cx="730.7" cy="494.2" r="8.5" fill="#233194"/><circle cx="753.5" cy="494" r="8.5" fill="#233194"/></svg>
<svg x="752" y="488" width="16" height="8" viewBox="752 488 16 8"><rect x="752" y="488" width="16" height="8" fill="#e8ffff"/><circle cx="753.5" cy="494" r="8.5" fill="#213294"/><circle cx="776.3" cy="493.8" r="8.5" fill="#213294"/></svg>
<svg x="768" y="488" width="16" height="8" viewBox="768 488 16 8"><rect x="768" y="488" width="16" height="8" fill="#daffff"/><circle cx="776.3" cy="493.8" r="8.5" fill="#133994"/></svg>
<svg x="784" y="488" width="16" height="8" viewBox="784 488 16 8"><rect x="784" y="488" width="16" height="8" fill="#e9ffff"/><circle cx="776.3" cy="493.8" r="8.5" fill="#223194"/><circle cx="799" cy="493.7" r="8.5" fill="#223194"/></svg>
<svg x="800" y="488" width="16" height="8" viewBox="800 488 16 8"><rect x="800" y="488" width="16" height="8" fill="#e9ffff"/><circle cx="799" cy="493.7" r="8.5" fill="#223194"/><circle cx="821.7" cy="493.6" r="8.5" fill="#223194"/></svg>
<svg x="816" y="488" width="16" height="8" viewBox="816 488 16 8"><rect x="816" y="488" width="16" height="8" fill="#deffff"/><circle cx="821.7" cy="493.6" r="8.5" fill="#173794"/></svg>
<svg x="832" y="488" width="16" height="8" viewBox="832 488 16 8"><rect x="832" y="488" width="16" height="8" fill="#e4ffff"/><circle cx="844.5" cy="494.5" r="8.5" fill="#1d3494"/></svg>
<svg x="848" y="488" width="16" height="8" viewBox="848 488 16 8"><rect x="848" y="488" width="16" height="8" fill="#eaffff"/><circle cx="844.5" cy="494.5" r="8.5" fill="#233194"/><circle cx="867.1" cy="494.3" r="8.5" fill="#233194"/></svg>
<svg x="864" y="488" width="16" height="8" viewBox="864 488 16 8"><rect x="864" y="488" width="16" height="8" fill="#e5ffff"/><circle cx="867.1" cy="494.3" r="8.5" fill="#1e3494"/></svg>
<svg x="880" y="488" width="16" height="8" viewBox="880 488 16 8"><rect x="880" y="488" width="16" height="8" fill="#ddffff"/><circle cx="889.7" cy="494.2" r="8.5" fill="#163894"/></svg>
<svg x="896" y="488" width="16" height="8" viewBox="896 488 16 8"><rect x="896" y="488" width="16" height="8" fill="#e9ffff"/><circle cx="889.7" cy="494.2" r="8.5" fill="#223194"/><circle cx="912.3" cy="494.1" r="8.5" fill="#223194"/></svg>
<svg x="912" y="488" width="16" height="8" viewBox="912 488 16 8"><rect x="912" y="488" width="16" height="8" fill="#e9ffff"/><circle cx="912.3" cy="494.1" r="8.5" fill="#223194"/><circle cx="934.9" cy="494" r="8.5" fill="#223194"/></svg>
<svg x="928" y="488" width="16" height="8" viewBox="928 488 16 8"><rect x="928" y="488" width="16" height="8" fill="#dbffff"/><circle cx="934.9" cy="494" r="8.5" fill="#143894"/></svg>
<svg x="944" y="488" width="16" height="8" viewBox="944 488 16 8"><rect x="944" y="488" width="16" height="8" fill="#e6ffff"/><circle cx="957.4" cy="493.9" r="8.5" fill="#1f3394"/></svg>
<svg x="960" y="488" width="16" height="8" viewBox="960 488 16 8"><rect x="960" y="488" width="16" height="8" fill="#f2ffff"/><circle cx="957.4" cy="493.9" r="8.5" fill="#2b2d94"/></svg>
<svg x="48" y="496" width="16" height="8" viewBox="48 496 16 8"><rect x="48" y="496" width="16" height="8" fill="#fff0ff"/><circle cx="64.9" cy="493.9" r="8.5" fill="#774f43"/></svg>
<svg x="64" y="496" width="16" height="8" viewBox="64 496 16 8"><rect x="64" y="496" width="16" height="8" fill="#ffebff"/><circle cx="64.9" cy="493.9" r="8.5" fill="#824a43"/><circle cx="87.4" cy="494" r="8.5" fill="#824a43"/></svg>
<svg x="80" y="496" width="16" height="8" viewBox="80 496 16 8"><rect x="80" y="496" width="16" height="8" fill="#ffddff"/><circle cx="87.4" cy="494" r="8.5" fill="#9d3c43"/></svg>
<svg x="96" y="496" width="16" height="8" viewBox="96 496 16 8"><rect x="96" y="496" width="16" height="8" fill="#ffe8ff"/><circle cx="110" cy="494.1" r="8.5" fill="#874743"/></svg>
<svg x="112" y="496" width="16" height="8" viewBox="112 496 16 8"><rect x="112" y="496" width="16" height="8" fill="#ffedff"/><circle cx="110" cy="494.1" r="8.5" fill="#7c4d43"/><circle cx="132.6" cy="494.2" r="8.5" fill="#7c4d43"/></svg>
<svg x="128" y="496" width="16" height="8" viewBox="128 496 16 8"><rect x="128" y="496" width="16" height="8" fill="#ffdfff"/><circle cx="132.6" cy="494.2" r="8.5" fill="#983f43"/></svg>
<svg x="144" y="496" width="16" height="8" viewBox="144 496 16 8"><rect x="144" y="496" width="16" height="8" fill="#ffdfff"/><circle cx="155.2" cy="494.3" r="8.5" fill="#993e43"/></svg>
<svg x="160" y="496" width="16" height="8" viewBox="160 496 16 8"><rect x="160" y="496" width="16" height="8" fill="#ffecff"/><circle cx="155.2" cy="494.3" r="8.5" fill="#804b43"/><circle cx="177.8" cy="494.5" r="8.5" fill="#804b43"/></svg>
<svg x="176" y="496" width="16" height="8" viewBox="176 496 16 8"><rect x="176" y="496" width="16" height="8" fill="#ffe6ff"/><circle cx="177.8" cy="494.5" r="8.5" fill="#8b4543"/></svg>
<svg x="192" y="496" width="16" height="8" viewBox="192 496 16 8"><rect x="192" y="496" width="16" height="8" fill="#ffe0ff"/><circle cx="200.6" cy="493.6" r="8.5" fill="#973f43"/></svg>
<svg x="208" y="496" width="16" height="8" viewBox="208 496 16 8"><rect x="208" y="496" width="16" height="8" fill="#ffecff"/><circle cx="200.6" cy="493.6" r="8.5" fill="#7f4b43"/><circle cx="223.3" cy="493.7" r="8.5" fill="#7f4b43"/></svg>
<svg x="224" y="496" width="16" height="8" viewBox="224 496 16 8"><rect x="224" y="496" width="16" height="8" fill="#ffeeff"/><circle cx="223.3" cy="493.7" r="8.5" fill="#7b4d43"/><circle cx="246" cy="493.8" r="8.5" fill="#7b4d43"/></svg>
<svg x="240" y="496" width="16" height="8" viewBox="240 496 16 8"><rect x="240" y="496" width="16" height="8" fill="#ffe0ff"/><circle cx="246" cy="493.8" r="8.5" fill="#973f43"/></svg>
<svg x="256" y="496" width="16" height="8" viewBox="256 496 16 8"><rect x="256" y="496" width="16" height="8" fill="#ffe5ff"/><circle cx="268.8" cy="494" r="8.5" fill="#8e4443"/></svg>
<svg x="272" y="496" width="16" height="8" viewBox="272 496 16 8"><rect x="272" y="496" width="16" height="8" fill="#ffeeff"/><circle cx="268.8" cy="494" r="8.5" fill="#7b4d43"/><circle cx="291.6" cy="494.2" r="8.5" fill="#7b4d43"/></svg>
<svg x="288" y="496" width="16" height="8" viewBox="288 496 16 8"><rect x="288" y="496" width="16" height="8" fill="#ffe2ff"/><circle cx="291.6" cy="494.2" r="8.5" fill="#934143"/></svg>
<svg x="304" y="496" width="16" height="8" viewBox="304 496 16 8"><rect x="304" y="496" width="16" height="8" fill="#ffdcff"/><circle cx="314.6" cy="494.4" r="8.5" fill="#9e3b43"/></svg>
<svg x="320" y="496" width="16" height="8" viewBox="320 496 16 8"><rect x="320" y="496" width="16" height="8" fill="#fff2ff"/><circle cx="314.6" cy="494.4" r="8.5" fill="#735143"/><circle cx="338.1" cy="492.9" r="8.5" fill="#735143"/></svg>
<svg x="336" y="496" width="16" height="8" viewBox="336 496 16 8"><rect x="336" y="496" width="16" height="8" fill="#ffecff"/><circle cx="338.1" cy="492.9" r="8.5" fill="#7f4b43"/></svg>
<svg x="672" y="496" width="16" height="8" viewBox="672 496 16 8"><rect x="672" y="496" width="16" height="8" fill="#f0ffff"/><circle cx="684.2" cy="492.9" r="8.5" fill="#292e94"/></svg>
<svg x="688" y="496" width="16" height="8" viewBox="688 496 16 8"><rect x="688" y="496" width="16" height="8" fill="#f6ffff"/><circle cx="684.2" cy="492.9" r="8.5" fill="#2f2b94"/><circle cx="707.7" cy="494.4" r="8.5" fill="#2f2b94"/></svg>
<svg x="704" y="496" width="16" height="8" viewBox="704 496 16 8"><rect x="704" y="496" width="16" height="8" fill="#ebffff"/><circle cx="707.7" cy="494.4" r="8.5" fill="#243194"/></svg>
<svg x="720" y="496" width="16" height="8" viewBox="720 496 16 8"><rect x="720" y="496" width="16" height="8" fill="#e9ffff"/><circle cx="730.7" cy="494.2" r="8.5" fill="#223194"/></svg>
<svg x="736" y="496" width="16" height="8" viewBox="736 496 16 8"><rect x="736" y="496" width="16" height="8" fill="#f3ffff"/><circle cx="730.7" cy="494.2" r="8.5" fill="#2c2c94"/><circle cx="753.5" cy="494" r="8.5" fill="#2c2c94"/></svg>
<svg x="752" y="496" width="16" height="8" viewBox="752 496 16 8"><rect x="752" y="496" width="16" height="8" fill="#f0ffff"/><circle cx="753.5" cy="494" r="8.5" fill="#292e94"/></svg>
<svg x="768" y="496" width="16" height="8" viewBox="768 496 16 8"><rect x="768" y="496" width="16" height="8" fill="#e9ffff"/><circle cx="776.3" cy="493.8" r="8.5" fill="#223194"/></svg>
<svg x="784" y="496" width="16" height="8" viewBox="784 496 16 8"><rect x="784" y="496" width="16" height="8" fill="#f2ffff"/><circle cx="776.3" cy="493.8" r="8.5" fill="#2b2d94"/><circle cx="799" cy="493.7" r="8.5" fill="#2b2d94"/></svg>
<svg x="800" y="496" width="16" height="8" viewBox="800 496 16 8"><rect x="800" y="496" width="16" height="8" fill="#f4ffff"/><circle cx="799" cy="493.7" r="8.5" fill="#2d2c94"/><circle cx="821.7" cy="493.6" r="8.5" fill="#2d2c94"/></svg>
<svg x="816" y="496" width="16" height="8" viewBox="816 496 16 8"><rect x="816" y="496" width="16" height="8" fill="#ebffff"/><circle cx="821.7" cy="493.6" r="8.5" fill="#243094"/></svg>
<svg x="832" y="496" width="16" height="8" viewBox="832 496 16 8"><rect x="832" y="496" width="16" height="8" fill="#ebffff"/><circle cx="844.5" cy="494.5" r="8.5" fill="#243094"/></svg>
<svg x="848" y="496" width="16" height="8" viewBox="848 496 16 8"><rect x="848" y="496" width="16" height="8" fill="#f3ffff"/><circle cx="844.5" cy="494.5" r="8.5" fill="#2c2c94"/><circle cx="867.1" cy="494.3" r="8.5" fill="#2c2c94"/></svg>
<svg x="864" y="496" width="16" height="8" viewBox="864 496 16 8"><rect x="864" y="496" width="16" height="8" fill="#ecffff"/><circle cx="867.1" cy="494.3" r="8.5" fill="#253094"/></svg>
<svg x="880" y="496" width="16" height="8" viewBox="880 496 16 8"><rect x="880" y="496" width="16" height="8" fill="#e7ffff"/><circle cx="889.7" cy="494.2" r="8.5" fill="#203294"/></svg>
<svg x="896" y="496" width="16" height="8" viewBox="896 496 16 8"><rect x="896" y="496" width="16" height="8" fill="#f2ffff"/><circle cx="889.7" cy="494.2" r="8.5" fill="#2b2d94"/><circle cx="912.3" cy="494.1" r="8.5" fill="#2b2d94"/></svg>
<svg x="912" y="496" width="16" height="8" viewBox="912 496 16 8"><rect x="912" y="496" width="16" height="8" fill="#f2ffff"/><circle cx="912.3" cy="494.1" r="8.5" fill="#2b2d94"/><circle cx="934.9" cy="494" r="8.5" fill="#2b2d94"/></svg>
<svg x="928" y="496" width="16" height="8" viewBox="928 496 16 8"><rect x="928" y="496" width="16" height="8" fill="#e8ffff"/><circle cx="934.9" cy="494" r="8.5" fill="#213294"/></svg>
<svg x="944" y="496" width="16" height="8" viewBox="944 496 16 8"><rect x="944" y="496" width="16" height="8" fill="#eeffff"/><circle cx="957.4" cy="493.9" r="8.5" fill="#272f94"/></svg>
<svg x="960" y="496" width="16" height="8" viewBox="960 496 16 8"><rect x="960" y="496" width="16" height="8" fill="#f8ffff"/><circle cx="957.4" cy="493.9" r="8.5" fill="#312a94"/></svg>
<svg x="48" y="504" width="16" height="8" viewBox="48 504 16 8"><rect x="48" y="504" width="16" height="8" fill="#fff1ff"/><circle cx="63.1" cy="516.5" r="8.5" fill="#5e4100"/></svg>
<svg x="64" y="504" width="16" height="8" viewBox="64 504 16 8"><rect x="64" y="504" width="16" height="8" fill="#fff4ff"/><circle cx="63.1" cy="516.5" r="8.5" fill="#584400"/><circle cx="85.6" cy="516.6" r="8.5" fill="#584400"/></svg>
<svg x="80" y="504" width="16" height="8" viewBox="80 504 16 8"><rect x="80" y="504" width="16" height="8" fill="#ffe8ff"/><circle cx="85.6" cy="516.6" r="8.5" fill="#703800"/></svg>
<svg x="96" y="504" width="16" height="8" viewBox="96 504 16 8"><rect x="96" y="504" width="16" height="8" fill="#ffeaff"/><circle cx="108.1" cy="516.6" r="8.5" fill="#6b3a00"/></svg>
<svg x="112" y="504" width="16" height="8" viewBox="112 504 16 8"><rect x="112" y="504" width="16" height="8" fill="#fff6ff"/><circle cx="108.1" cy="516.6" r="8.5" fill="#534600"/><circle cx="130.6" cy="516.7" r="8.5" fill="#534600"/></svg>
<svg x="128" y="504" width="16" height="8" viewBox="128 504 16 8"><rect x="128" y="504" width="16" height="8" fill="#ffeeff"/><circle cx="130.6" cy="516.7" r="8.5" fill="#633e00"/></svg>
<svg x="144" y="504" width="16" height="8" viewBox="144 504 16 8"><rect x="144" y="504" width="16" height="8" fill="#ffefff"/><circle cx="153.1" cy="516.7" r="8.5" fill="#7a4e43"/></svg>
<svg x="160" y="504" width="16" height="8" viewBox="160 504 16 8"><rect x="160" y="504" width="16" height="8" fill="#fff6ff"/><circle cx="153.1" cy="516.7" r="8.5" fill="#6b5543"/><circle cx="175.6" cy="516.8" r="8.5" fill="#6b5543"/></svg>
<svg x="176" y="504" width="16" height="8" viewBox="176 504 16 8"><rect x="176" y="504" width="16" height="8" fill="#fff7ff"/><circle cx="175.6" cy="516.8" r="8.5" fill="#695643"/><circle cx="198.1" cy="516.3" r="8.5" fill="#695643"/></svg>
<svg x="192" y="504" width="16" height="8" viewBox="192 504 16 8"><rect x="192" y="504" width="16" height="8" fill="#ffecff"/><circle cx="198.1" cy="516.3" r="8.5" fill="#804b43"/></svg>
<svg x="208" y="504" width="16" height="8" viewBox="208 504 16 8"><rect x="208" y="504" width="16" height="8" fill="#fff0ff"/><circle cx="220.6" cy="516.4" r="8.5" fill="#774f43"/></svg>
<svg x="224" y="504" width="16" height="8" viewBox="224 504 16 8"><rect x="224" y="504" width="16" height="8" fill="#fff8ff"/><circle cx="220.6" cy="516.4" r="8.5" fill="#685743"/><circle cx="243.1" cy="516.4" r="8.5" fill="#685743"/></svg>
<svg x="240" y="504" width="16" height="8" viewBox="240 504 16 8"><rect x="240" y="504" width="16" height="8" fill="#fff1ff"/><circle cx="243.1" cy="516.4" r="8.5" fill="#765043"/></svg>
<svg x="256" y="504" width="16" height="8" viewBox="256 504 16 8"><rect x="256" y="504" width="16" height="8" fill="#ffedff"/><circle cx="265.7" cy="516.5" r="8.5" fill="#7d4c43"/></svg>
<svg x="272" y="504" width="16" height="8" viewBox="272 504 16 8"><rect x="272" y="504" width="16" height="8" fill="#fff6ff"/><circle cx="265.7" cy="516.5" r="8.5" fill="#6b5543"/><circle cx="288.2" cy="516.6" r="8.5" fill="#6b5543"/></svg>
<svg x="288" y="504" width="16" height="8" viewBox="288 504 16 8"><rect x="288" y="504" width="16" height="8" fill="#fff6ff"/><circle cx="288.2" cy="516.6" r="8.5" fill="#6c5543"/><circle cx="310.8" cy="516.7" r="8.5" fill="#6c5543"/></svg>
<svg x="304" y="504" width="16" height="8" viewBox="304 504 16 8"><rect x="304" y="504" width="16" height="8" fill="#ffefff"/><circle cx="310.8" cy="516.7" r="8.5" fill="#7a4e43"/></svg>
<svg x="320" y="504" width="16" height="8" viewBox="320 504 16 8"><rect x="320" y="504" width="16" height="8" fill="#ffefff"/><circle cx="333.5" cy="515.9" r="8.5" fill="#784f43"/></svg>
<svg x="336" y="504" width="16" height="8" viewBox="336 504 16 8"><rect x="336" y="504" width="16" height="8" fill="#fff9ff"/><circle cx="333.5" cy="515.9" r="8.5" fill="#655843"/></svg>
<svg x="672" y="504" width="16" height="8" viewBox="672 504 16 8"><rect x="672" y="504" width="16" height="8" fill="#f9ffff"/><circle cx="688.8" cy="515.9" r="8.5" fill="#322994"/></svg>
<svg x="688" y="504" width="16" height="8" viewBox="688 504 16 8"><rect x="688" y="504" width="16" height="8" fill="#f7ffff"/><circle cx="688.8" cy="515.9" r="8.5" fill="#302a94"/></svg>
<svg x="704" y="504" width="16" height="8" viewBox="704 504 16 8"><rect x="704" y="504" width="16" height="8" fill="#f4ffff"/><circle cx="711.5" cy="516.7" r="8.5" fill="#2d2c94"/></svg>
<svg x="720" y="504" width="16" height="8" viewBox="720 504 16 8"><rect x="720" y="504" width="16" height="8" fill="#f7ffff"/><circle cx="734.1" cy="516.6" r="8.5" fill="#302a94"/></svg>
<svg x="736" y="504" width="16" height="8" viewBox="736 504 16 8"><rect x="736" y="504" width="16" height="8" fill="#faffff"/><circle cx="734.1" cy="516.6" r="8.5" fill="#332994"/><circle cx="756.6" cy="516.5" r="8.5" fill="#332994"/></svg>
<svg x="752" y="504" width="16" height="8" viewBox="752 504 16 8"><rect x="752" y="504" width="16" height="8" fill="#f4ffff"/><circle cx="756.6" cy="516.5" r="8.5" fill="#2d2c94"/></svg>
<svg x="768" y="504" width="16" height="8" viewBox="768 504 16 8"><rect x="768" y="504" width="16" height="8" fill="#f4ffff"/><circle cx="779.2" cy="516.4" r="8.5" fill="#2d2c94"/></svg>
<svg x="784" y="504" width="16" height="8" viewBox="784 504 16 8"><rect x="784" y="504" width="16" height="8" fill="#faffff"/><circle cx="779.2" cy="516.4" r="8.5" fill="#332994"/><circle cx="801.7" cy="516.4" r="8.5" fill="#332994"/></svg>
<svg x="800" y="504" width="16" height="8" viewBox="800 504 16 8"><rect x="800" y="504" width="16" height="8" fill="#f7ffff"/><circle cx="801.7" cy="516.4" r="8.5" fill="#302a94"/></svg>
<svg x="816" y="504" width="16" height="8" viewBox="816 504 16 8"><rect x="816" y="504" width="16" height="8" fill="#f2ffff"/><circle cx="824.2" cy="516.3" r="8.5" fill="#2b2d94"/></svg>
<svg x="832" y="504" width="16" height="8" viewBox="832 504 16 8"><rect x="832" y="504" width="16" height="8" fill="#f8ffff"/><circle cx="846.7" cy="516.8" r="8.5" fill="#312a94"/></svg>
<svg x="848" y="504" width="16" height="8" viewBox="848 504 16 8"><rect x="848" y="504" width="16" height="8" fill="#faffff"/><circle cx="846.7" cy="516.8" r="8.5" fill="#332894"/><circle cx="869.2" cy="516.7" r="8.5" fill="#332894"/></svg>
<svg x="864" y="504" width="16" height="8" viewBox="864 504 16 8"><rect x="864" y="504" width="16" height="8" fill="#f5ffff"/><circle cx="869.2" cy="516.7" r="8.5" fill="#2e2b94"/></svg>
<svg x="880" y="504" width="16" height="8" viewBox="880 504 16 8"><rect x="880" y="504" width="16" height="8" fill="#f5ffff"/><circle cx="891.7" cy="516.7" r="8.5" fill="#2e2b94"/></svg>
<svg x="896" y="504" width="16" height="8" viewBox="896 504 16 8"><rect x="896" y="504" width="16" height="8" fill="#feffff"/><circle cx="891.7" cy="516.7" r="8.5" fill="#372794"/><circle cx="914.2" cy="516.6" r="8.5" fill="#dcdedd"/></svg>
<svg x="912" y="504" width="16" height="8" viewBox="912 504 16 8"><circle cx="914.2" cy="516.6" r="8.5" fill="#dddddd"/></svg>
<svg x="928" y="504" width="16" height="8" viewBox="928 504 16 8"><circle cx="936.7" cy="516.6" r="8.5" fill="#dddddd"/></svg>
<svg x="944" y="504" width="16" height="8" viewBox="944 504 16 8"><circle cx="959.2" cy="516.5" r="8.5" fill="#dddddd"/></svg>
<svg x="960" y="504" width="16" height="8" viewBox="960 504 16 8"><circle cx="959.2" cy="516.5" r="8.5" fill="#dddddd"/></svg>
<svg x="48" y="512" width="16" height="8" viewBox="48 512 16 8"><rect x="48" y="512" width="16" height="8" fill="#ffd3ff"/><circle cx="63.1" cy="516.5" r="8.5" fill="#992300"/></svg>
<svg x="64" y="512" width="16" height="8" viewBox="64 512 16 8"><rect x="64" y="512" width="16" height="8" fill="#ffd0ff"/><circle cx="63.1" cy="516.5" r="8.5" fill="#9f2000"/><circle cx="85.6" cy="516.6" r="8.5" fill="#9f2000"/></svg>
<svg x="80" y="512" width="16" height="8" viewBox="80 512 16 8"><rect x="80" y="512" width="16" height="8" fill="#ffbcff"/><circle cx="85.6" cy="516.6" r="8.5" fill="#c60c00"/></svg>
<svg x="96" y="512" width="16" height="8" viewBox="96 512 16 8"><rect x="96" y="512" width="16" height="8" fill="#ffc4ff"/><circle cx="108.1" cy="516.6" r="8.5" fill="#b61400"/></svg>
<svg x="112" y="512" width="16" height="8" viewBox="112 512 16 8"><rect x="112" y="512" width="16" height="8" fill="#ffd0ff"/><circle cx="108.1" cy="516.6" r="8.5" fill="#9e2000"/><circle cx="130.6" cy="516.7" r="8.5" fill="#9e2000"/></svg>
<svg x="128" y="512" width="16" height="8" viewBox="128 512 16 8"><rect x="128" y="512" width="16" height="8" fill="#ffcbff"/><circle cx="130.6" cy="516.7" r="8.5" fill="#a91b00"/></svg>
<svg x="144" y="512" width="16" height="8" viewBox="144 512 16 8"><rect x="144" y="512" width="16" height="8" fill="#ffc9ff"/><circle cx="153.1" cy="516.7" r="8.5" fill="#c42843"/></svg>
<svg x="160" y="512" width="16" height="8" viewBox="160 512 16 8"><rect x="160" y="512" width="16" height="8" fill="#ffddff"/><circle cx="153.1" cy="516.7" r="8.5" fill="#9d3c43"/><circle cx="175.6" cy="516.8" r="8.5" fill="#9d3c43"/></svg>
<svg x="176" y="512" width="16" height="8" viewBox="176 512 16 8"><rect x="176" y="512" width="16" height="8" fill="#ffdcff"/><circle cx="175.6" cy="516.8" r="8.5" fill="#9e3b43"/><circle cx="198.1" cy="516.3" r="8.5" fill="#9e3b43"/></svg>
<svg x="192" y="512" width="16" height="8" viewBox="192 512 16 8"><rect x="192" y="512" width="16" height="8" fill="#ffcbff"/><circle cx="198.1" cy="516.3" r="8.5" fill="#bf2b43"/></svg>
<svg x="208" y="512" width="16" height="8" viewBox="208 512 16 8"><rect x="208" y="512" width="16" height="8" fill="#ffd5ff"/><circle cx="220.6" cy="516.4" r="8.5" fill="#ac3543"/></svg>
<svg x="224" y="512" width="16" height="8" viewBox="224 512 16 8"><rect x="224" y="512" width="16" height="8" fill="#ffdcff"/><circle cx="220.6" cy="516.4" r="8.5" fill="#9e3b43"/><circle cx="243.1" cy="516.4" r="8.5" fill="#9e3b43"/></svg>
<svg x="240" y="512" width="16" height="8" viewBox="240 512 16 8"><rect x="240" y="512" width="16" height="8" fill="#ffd6ff"/><circle cx="243.1" cy="516.4" r="8.5" fill="#a93643"/></svg>
<svg x="256" y="512" width="16" height="8" viewBox="256 512 16 8"><rect x="256" y="512" width="16" height="8" fill="#ffcbff"/><circle cx="265.7" cy="516.5" r="8.5" fill="#c02a43"/></svg>
<svg x="272" y="512" width="16" height="8" viewBox="272 512 16 8"><rect x="272" y="512" width="16" height="8" fill="#ffdcff"/><circle cx="265.7" cy="516.5" r="8.5" fill="#9e3b43"/><circle cx="288.2" cy="516.6" r="8.5" fill="#9e3b43"/></svg>
<svg x="288" y="512" width="16" height="8" viewBox="288 512 16 8"><rect x="288" y="512" width="16" height="8" fill="#ffddff"/><circle cx="288.2" cy="516.6" r="8.5" fill="#9d3c43"/><circle cx="310.8" cy="516.7" r="8.5" fill="#9d3c43"/></svg>
<svg x="304" y="512" width="16" height="8" viewBox="304 512 16 8"><rect x="304" y="512" width="16" height="8" fill="#ffc9ff"/><circle cx="310.8" cy="516.7" r="8.5" fill="#c32843"/></svg>
<svg x="320" y="512" width="16" height="8" viewBox="320 512 16 8"><rect x="320" y="512" width="16" height="8" fill="#ffd8ff"/><circle cx="333.5" cy="515.9" r="8.5" fill="#a63843"/></svg>
<svg x="336" y="512" width="16" height="8" viewBox="336 512 16 8"><rect x="336" y="512" width="16" height="8" fill="#ffebff"/><circle cx="333.5" cy="515.9" r="8.5" fill="#824a43"/></svg>
<svg x="672" y="512" width="16" height="8" viewBox="672 512 16 8"><rect x="672" y="512" width="16" height="8" fill="#edffff"/><circle cx="688.8" cy="515.9" r="8.5" fill="#262f94"/></svg>
<svg x="688" y="512" width="16" height="8" viewBox="688 512 16 8"><rect x="688" y="512" width="16" height="8" fill="#e8ffff"/><circle cx="688.8" cy="515.9" r="8.5" fill="#213294"/><circle cx="711.5" cy="516.7" r="8.5" fill="#213294"/></svg>
<svg x="704" y="512" width="16" height="8" viewBox="704 512 16 8"><rect x="704" y="512" width="16" height="8" fill="#d9ffff"/><circle cx="711.5" cy="516.7" r="8.5" fill="#123994"/></svg>
<svg x="720" y="512" width="16" height="8" viewBox="720 512 16 8"><rect x="720" y="512" width="16" height="8" fill="#e7ffff"/><circle cx="734.1" cy="516.6" r="8.5" fill="#203294"/></svg>
<svg x="736" y="512" width="16" height="8" viewBox="736 512 16 8"><rect x="736" y="512" width="16" height="8" fill="#e8ffff"/><circle cx="734.1" cy="516.6" r="8.5" fill="#213294"/><circle cx="756.6" cy="516.5" r="8.5" fill="#213294"/></svg>
<svg x="752" y="512" width="16" height="8" viewBox="752 512 16 8"><rect x="752" y="512" width="16" height="8" fill="#e0ffff"/><circle cx="756.6" cy="516.5" r="8.5" fill="#193694"/></svg>
<svg x="768" y="512" width="16" height="8" viewBox="768 512 16 8"><rect x="768" y="512" width="16" height="8" fill="#e0ffff"/><circle cx="779.2" cy="516.4" r="8.5" fill="#193694"/></svg>
<svg x="784" y="512" width="16" height="8" viewBox="784 512 16 8"><rect x="784" y="512" width="16" height="8" fill="#e8ffff"/><circle cx="779.2" cy="516.4" r="8.5" fill="#213294"/><circle cx="801.7" cy="516.4" r="8.5" fill="#213294"/></svg>
<svg x="800" y="512" width="16" height="8" viewBox="800 512 16 8"><rect x="800" y="512" width="16" height="8" fill="#e7ffff"/><circle cx="801.7" cy="516.4" r="8.5" fill="#203294"/><circle cx="824.2" cy="516.3" r="8.5" fill="#203294"/></svg>
<svg x="816" y="512" width="16" height="8" viewBox="816 512 16 8"><rect x="816" y="512" width="16" height="8" fill="#d8ffff"/><circle cx="824.2" cy="516.3" r="8.5" fill="#113a94"/></svg>
<svg x="832" y="512" width="16" height="8" viewBox="832 512 16 8"><rect x="832" y="512" width="16" height="8" fill="#e8ffff"/><circle cx="824.2" cy="516.3" r="8.5" fill="#213294"/><circle cx="846.7" cy="516.8" r="8.5" fill="#213294"/></svg>
<svg x="848" y="512" width="16" height="8" viewBox="848 512 16 8"><rect x="848" y="512" width="16" height="8" fill="#e8ffff"/><circle cx="846.7" cy="516.8" r="8.5" fill="#213294"/><circle cx="869.2" cy="516.7" r="8.5" fill="#213294"/></svg>
<svg x="864" y="512" width="16" height="8" viewBox="864 512 16 8"><rect x="864" y="512" width="16" height="8" fill="#dfffff"/><circle cx="869.2" cy="516.7" r="8.5" fill="#183794"/></svg>
<svg x="880" y="512" width="16" height="8" viewBox="880 512 16 8"><rect x="880" y="512" width="16" height="8" fill="#e1ffff"/><circle cx="891.7" cy="516.7" r="8.5" fill="#1a3594"/></svg>
<svg x="896" y="512" width="16" height="8" viewBox="896 512 16 8"><rect x="896" y="512" width="16" height="8" fill="#f6ffff"/><circle cx="891.7" cy="516.7" r="8.5" fill="#2f2b94"/><circle cx="914.2" cy="516.6" r="8.5" fill="#d4e2dd"/></svg>
<svg x="912" y="512" width="16" height="8" viewBox="912 512 16 8"><circle cx="914.2" cy="516.6" r="8.5" fill="#dddddd"/></svg>
<svg x="928" y="512" width="16" height="8" viewBox="928 512 16 8"><circle cx="936.7" cy="516.6" r="8.5" fill="#dddddd"/></svg>
<svg x="944" y="512" width="16" height="8" viewBox="944 512 16 8"><circle cx="936.7" cy="516.6" r="8.5" fill="#dddddd"/><circle cx="959.2" cy="516.5" r="8.5" fill="#dddddd"/></svg>
<svg x="960" y="512" width="16" height="8" viewBox="960 512 16 8"><circle cx="959.2" cy="516.5" r="8.5" fill="#dddddd"/></svg>
<svg x="48" y="520" width="16" height="8" viewBox="48 520 16 8"><rect x="48" y="520" width="16" height="8" fill="#ffecff"/><circle cx="63.1" cy="516.5" r="8.5" fill="#683c00"/></svg>
<svg x="64" y="520" width="16" height="8" viewBox="64 520 16 8"><rect x="64" y="520" width="16" height="8" fill="#ffefff"/><circle cx="63.1" cy="516.5" r="8.5" fill="#613f00"/><circle cx="85.6" cy="516.6" r="8.5" fill="#613f00"/></svg>
<svg x="80" y="520" width="16" height="8" viewBox="80 520 16 8"><rect x="80" y="520" width="16" height="8" fill="#ffe0ff"/><circle cx="85.6" cy="516.6" r="8.5" fill="#7f3000"/></svg>
<svg x="96" y="520" width="16" height="8" viewBox="96 520 16 8"><rect x="96" y="520" width="16" height="8" fill="#ffe4ff"/><circle cx="108.1" cy="516.6" r="8.5" fill="#783300"/></svg>
<svg x="112" y="520" width="16" height="8" viewBox="112 520 16 8"><rect x="112" y="520" width="16" height="8" fill="#fff0ff"/><circle cx="108.1" cy="516.6" r="8.5" fill="#604000"/><circle cx="130.6" cy="516.7" r="8.5" fill="#604000"/></svg>
<svg x="128" y="520" width="16" height="8" viewBox="128 520 16 8"><rect x="128" y="520" width="16" height="8" fill="#ffe6ff"/><circle cx="130.6" cy="516.7" r="8.5" fill="#743500"/></svg>
<svg x="144" y="520" width="16" height="8" viewBox="144 520 16 8"><rect x="144" y="520" width="16" height="8" fill="#ffe5ff"/><circle cx="153.1" cy="516.7" r="8.5" fill="#8c4543"/></svg>
<svg x="160" y="520" width="16" height="8" viewBox="160 520 16 8"><rect x="160" y="520" width="16" height="8" fill="#fff1ff"/><circle cx="153.1" cy="516.7" r="8.5" fill="#765043"/><circle cx="175.6" cy="516.8" r="8.5" fill="#765043"/></svg>
<svg x="176" y="520" width="16" height="8" viewBox="176 520 16 8"><rect x="176" y="520" width="16" height="8" fill="#fff2ff"/><circle cx="175.6" cy="516.8" r="8.5" fill="#735143"/><circle cx="198.1" cy="516.3" r="8.5" fill="#735143"/></svg>
<svg x="192" y="520" width="16" height="8" viewBox="192 520 16 8"><rect x="192" y="520" width="16" height="8" fill="#ffe9ff"/><circle cx="198.1" cy="516.3" r="8.5" fill="#854843"/></svg>
<svg x="208" y="520" width="16" height="8" viewBox="208 520 16 8"><rect x="208" y="520" width="16" height="8" fill="#ffecff"/><circle cx="220.6" cy="516.4" r="8.5" fill="#804b43"/></svg>
<svg x="224" y="520" width="16" height="8" viewBox="224 520 16 8"><rect x="224" y="520" width="16" height="8" fill="#fff4ff"/><circle cx="220.6" cy="516.4" r="8.5" fill="#6f5443"/><circle cx="243.1" cy="516.4" r="8.5" fill="#6f5443"/></svg>
<svg x="240" y="520" width="16" height="8" viewBox="240 520 16 8"><rect x="240" y="520" width="16" height="8" fill="#ffecff"/><circle cx="243.1" cy="516.4" r="8.5" fill="#7e4b43"/></svg>
<svg x="256" y="520" width="16" height="8" viewBox="256 520 16 8"><rect x="256" y="520" width="16" height="8" fill="#ffe7ff"/><circle cx="265.7" cy="516.5" r="8.5" fill="#884743"/></svg>
<svg x="272" y="520" width="16" height="8" viewBox="272 520 16 8"><rect x="272" y="520" width="16" height="8" fill="#fff3ff"/><circle cx="265.7" cy="516.5" r="8.5" fill="#725243"/><circle cx="288.2" cy="516.6" r="8.5" fill="#725243"/></svg>
<svg x="288" y="520" width="16" height="8" viewBox="288 520 16 8"><rect x="288" y="520" width="16" height="8" fill="#fff2ff"/><circle cx="288.2" cy="516.6" r="8.5" fill="#735143"/><circle cx="310.8" cy="516.7" r="8.5" fill="#735143"/></svg>
<svg x="304" y="520" width="16" height="8" viewBox="304 520 16 8"><rect x="304" y="520" width="16" height="8" fill="#ffe5ff"/><circle cx="310.8" cy="516.7" r="8.5" fill="#8c4543"/></svg>
<svg x="320" y="520" width="16" height="8" viewBox="320 520 16 8"><rect x="320" y="520" width="16" height="8" fill="#fff0ff"/><circle cx="333.5" cy="515.9" r="8.5" fill="#774f43"/></svg>
<svg x="336" y="520" width="16" height="8" viewBox="336 520 16 8"><rect x="336" y="520" width="16" height="8" fill="#fffaff"/><circle cx="333.5" cy="515.9" r="8.5" fill="#655943"/></svg>
<svg x="672" y="520" width="16" height="8" viewBox="672 520 16 8"><rect x="672" y="520" width="16" height="8" fill="#f9ffff"/><circle cx="688.8" cy="515.9" r="8.5" fill="#322994"/></svg>
<svg x="688" y="520" width="16" height="8" viewBox="688 520 16 8"><rect x="688" y="520" width="16" height="8" fill="#f7ffff"/><circle cx="688.8" cy="515.9" r="8.5" fill="#302a94"/><circle cx="711.5" cy="516.7" r="8.5" fill="#302a94"/></svg>
<svg x="704" y="520" width="16" height="8" viewBox="704 520 16 8"><rect x="704" y="520" width="16" height="8" fill="#eeffff"/><circle cx="711.5" cy="516.7" r="8.5" fill="#272f94"/></svg>
<svg x="720" y="520" width="16" height="8" viewBox="720 520 16 8"><rect x="720" y="520" width="16" height="8" fill="#f4ffff"/><circle cx="734.1" cy="516.6" r="8.5" fill="#2d2c94"/></svg>
<svg x="736" y="520" width="16" height="8" viewBox="736 520 16 8"><rect x="736" y="520" width="16" height="8" fill="#f8ffff"/><circle cx="734.1" cy="516.6" r="8.5" fill="#312a94"/><circle cx="756.6" cy="516.5" r="8.5" fill="#312a94"/></svg>
<svg x="752" y="520" width="16" height="8" viewBox="752 520 16 8"><rect x="752" y="520" width="16" height="8" fill="#f1ffff"/><circle cx="756.6" cy="516.5" r="8.5" fill="#2a2d94"/></svg>
<svg x="768" y="520" width="16" height="8" viewBox="768 520 16 8"><rect x="768" y="520" width="16" height="8" fill="#f0ffff"/><circle cx="779.2" cy="516.4" r="8.5" fill="#292e94"/></svg>
<svg x="784" y="520" width="16" height="8" viewBox="784 520 16 8"><rect x="784" y="520" width="16" height="8" fill="#f8ffff"/><circle cx="779.2" cy="516.4" r="8.5" fill="#312a94"/><circle cx="801.7" cy="516.4" r="8.5" fill="#312a94"/></svg>
<svg x="800" y="520" width="16" height="8" viewBox="800 520 16 8"><rect x="800" y="520" width="16" height="8" fill="#f4ffff"/><circle cx="801.7" cy="516.4" r="8.5" fill="#2d2c94"/></svg>
<svg x="816" y="520" width="16" height="8" viewBox="816 520 16 8"><rect x="816" y="520" width="16" height="8" fill="#f0ffff"/><circle cx="824.2" cy="516.3" r="8.5" fill="#292e94"/></svg>
<svg x="832" y="520" width="16" height="8" viewBox="832 520 16 8"><rect x="832" y="520" width="16" height="8" fill="#f4ffff"/><circle cx="846.7" cy="516.8" r="8.5" fill="#2d2c94"/></svg>
<svg x="848" y="520" width="16" height="8" viewBox="848 520 16 8"><rect x="848" y="520" width="16" height="8" fill="#f7ffff"/><circle cx="846.7" cy="516.8" r="8.5" fill="#302a94"/><circle cx="869.2" cy="516.7" r="8.5" fill="#302a94"/></svg>
<svg x="864" y="520" width="16" height="8" viewBox="864 520 16 8"><rect x="864" y="520" width="16" height="8" fill="#efffff"/><circle cx="869.2" cy="516.7" r="8.5" fill="#282e94"/></svg>
<svg x="880" y="520" width="16" height="8" viewBox="880 520 16 8"><rect x="880" y="520" width="16" height="8" fill="#f0ffff"/><circle cx="891.7" cy="516.7" r="8.5" fill="#292e94"/></svg>
<svg x="896" y="520" width="16" height="8" viewBox="896 520 16 8"><rect x="896" y="520" width="16" height="8" fill="#fcffff"/><circle cx="891.7" cy="516.7" r="8.5" fill="#352794"/><circle cx="914.2" cy="516.6" r="8.5" fill="#dadedd"/></svg>
<svg x="912" y="520" width="16" height="8" viewBox="912 520 16 8"><circle cx="914.2" cy="516.6" r="8.5" fill="#dddddd"/></svg>
<svg x="928" y="520" width="16" height="8" viewBox="928 520 16 8"><circle cx="936.7" cy="516.6" r="8.5" fill="#dddddd"/></svg>
<svg x="944" y="520" width="16" height="8" viewBox="944 520 16 8"><circle cx="936.7" cy="516.6" r="8.5" fill="#dddddd"/><circle cx="959.2" cy="516.5" r="8.5" fill="#dddddd"/></svg>
<svg x="960" y="520" width="16" height="8" viewBox="960 520 16 8"><circle cx="959.2" cy="516.5" r="8.5" fill="#dddddd"/></svg>
<svg x="48" y="528" width="16" height="8" viewBox="48 528 16 8"><rect x="48" y="528" width="16" height="8" fill="#ffe8ff"/><circle cx="62.6" cy="539.2" r="8.5" fill="#6e3800"/></svg>
<svg x="64" y="528" width="16" height="8" viewBox="64 528 16 8"><rect x="64" y="528" width="16" height="8" fill="#ffeeff"/><circle cx="62.6" cy="539.2" r="8.5" fill="#643e00"/><circle cx="85" cy="539.2" r="8.5" fill="#643e00"/></svg>
<svg x="80" y="528" width="16" height="8" viewBox="80 528 16 8"><rect x="80" y="528" width="16" height="8" fill="#ffdeff"/><circle cx="85" cy="539.2" r="8.5" fill="#822e00"/></svg>
<svg x="96" y="528" width="16" height="8" viewBox="96 528 16 8"><rect x="96" y="528" width="16" height="8" fill="#ffe0ff"/><circle cx="107.5" cy="539.2" r="8.5" fill="#802f00"/></svg>
<svg x="112" y="528" width="16" height="8" viewBox="112 528 16 8"><rect x="112" y="528" width="16" height="8" fill="#ffeeff"/><circle cx="107.5" cy="539.2" r="8.5" fill="#633e00"/><circle cx="129.9" cy="539.2" r="8.5" fill="#633e00"/></svg>
<svg x="128" y="528" width="16" height="8" viewBox="128 528 16 8"><rect x="128" y="528" width="16" height="8" fill="#ffe7ff"/><circle cx="129.9" cy="539.2" r="8.5" fill="#713700"/></svg>
<svg x="144" y="528" width="16" height="8" viewBox="144 528 16 8"><rect x="144" y="528" width="16" height="8" fill="#ffdbff"/><circle cx="152.4" cy="539.2" r="8.5" fill="#892b00"/></svg>
<svg x="160" y="528" width="16" height="8" viewBox="160 528 16 8"><rect x="160" y="528" width="16" height="8" fill="#ffe9ff"/><circle cx="152.4" cy="539.2" r="8.5" fill="#6d3900"/><circle cx="174.8" cy="539.2" r="8.5" fill="#6d3900"/></svg>
<svg x="176" y="528" width="16" height="8" viewBox="176 528 16 8"><rect x="176" y="528" width="16" height="8" fill="#ffeeff"/><circle cx="174.8" cy="539.2" r="8.5" fill="#643e00"/><circle cx="197.3" cy="539.2" r="8.5" fill="#643e00"/></svg>
<svg x="192" y="528" width="16" height="8" viewBox="192 528 16 8"><rect x="192" y="528" width="16" height="8" fill="#ffdeff"/><circle cx="197.3" cy="539.2" r="8.5" fill="#832e00"/></svg>
<svg x="208" y="528" width="16" height="8" viewBox="208 528 16 8"><rect x="208" y="528" width="16" height="8" fill="#ffe0ff"/><circle cx="219.7" cy="539.2" r="8.5" fill="#7f3000"/></svg>
<svg x="224" y="528" width="16" height="8" viewBox="224 528 16 8"><rect x="224" y="528" width="16" height="8" fill="#ffeeff"/><circle cx="219.7" cy="539.2" r="8.5" fill="#623e00"/><circle cx="242.2" cy="539.2" r="8.5" fill="#623e00"/></svg>
<svg x="240" y="528" width="16" height="8" viewBox="240 528 16 8"><rect x="240" y="528" width="16" height="8" fill="#ffe6ff"/><circle cx="242.2" cy="539.2" r="8.5" fill="#733600"/></svg>
<svg x="256" y="528" width="16" height="8" viewBox="256 528 16 8"><rect x="256" y="528" width="16" height="8" fill="#ffdbff"/><circle cx="264.6" cy="539.2" r="8.5" fill="#892b00"/></svg>
<svg x="272" y="528" width="16" height="8" viewBox="272 528 16 8"><rect x="272" y="528" width="16" height="8" fill="#ffeaff"/><circle cx="264.6" cy="539.2" r="8.5" fill="#6c3a00"/><circle cx="287.1" cy="539.2" r="8.5" fill="#6c3a00"/></svg>
<svg x="288" y="528" width="16" height="8" viewBox="288 528 16 8"><rect x="288" y="528" width="16" height="8" fill="#ffedff"/><circle cx="287.1" cy="539.2" r="8.5" fill="#653d00"/><circle cx="309.5" cy="539.2" r="8.5" fill="#653d00"/></svg>
<svg x="304" y="528" width="16" height="8" viewBox="304 528 16 8"><rect x="304" y="528" width="16" height="8" fill="#ffddff"/><circle cx="309.5" cy="539.2" r="8.5" fill="#842d00"/></svg>
<svg x="320" y="528" width="16" height="8" viewBox="320 528 16 8"><rect x="320" y="528" width="16" height="8" fill="#ffe1ff"/><circle cx="332" cy="539.2" r="8.5" fill="#7d3100"/></svg>
<svg x="336" y="528" width="16" height="8" viewBox="336 528 16 8"><rect x="336" y="528" width="16" height="8" fill="#fff9ff"/><circle cx="332" cy="539.2" r="8.5" fill="#4e4900"/></svg>
<svg x="672" y="528" width="16" height="8" viewBox="672 528 16 8"><circle cx="690.3" cy="539.2" r="8.5" fill="#dddddd"/></svg>
<svg x="688" y="528" width="16" height="8" viewBox="688 528 16 8"><circle cx="690.3" cy="539.2" r="8.5" fill="#dddddd"/></svg>
<svg x="704" y="528" width="16" height="8" viewBox="704 528 16 8"><circle cx="712.8" cy="539.2" r="8.5" fill="#dddddd"/></svg>
<svg x="720" y="528" width="16" height="8" viewBox="720 528 16 8"><circle cx="712.8" cy="539.2" r="8.5" fill="#dddddd"/><circle cx="735.2" cy="539.2" r="8.5" fill="#dddddd"/></svg>
<svg x="736" y="528" width="16" height="8" viewBox="736 528 16 8"><circle cx="735.2" cy="539.2" r="8.5" fill="#dddddd"/><circle cx="757.7" cy="539.2" r="8.5" fill="#dddddd"/></svg>
<svg x="752" y="528" width="16" height="8" viewBox="752 528 16 8"><circle cx="757.7" cy="539.2" r="8.5" fill="#dddddd"/></svg>
<svg x="768" y="528" width="16" height="8" viewBox="768 528 16 8"><circle cx="780.1" cy="539.2" r="8.5" fill="#dddddd"/></svg>
<svg x="784" y="528" width="16" height="8" viewBox="784 528 16 8"><circle cx="780.1" cy="539.2" r="8.5" fill="#dddddd"/><circle cx="802.6" cy="539.2" r="8.5" fill="#dddddd"/></svg>
<svg x="800" y="528" width="16" height="8" viewBox="800 528 16 8"><circle cx="802.6" cy="539.2" r="8.5" fill="#dddddd"/></svg>
<svg x="816" y="528" width="16" height="8" viewBox="816 528 16 8"><circle cx="825" cy="539.2" r="8.5" fill="#dddddd"/></svg>
<svg x="832" y="528" width="16" height="8" viewBox="832 528 16 8"><circle cx="825" cy="539.2" r="8.5" fill="#dddddd"/><circle cx="847.5" cy="539.2" r="8.5" fill="#dddddd"/></svg>
<svg x="848" y="528" width="16" height="8" viewBox="848 528 16 8"><circle cx="847.5" cy="539.2" r="8.5" fill="#dddddd"/><circle cx="869.9" cy="539.2" r="8.5" fill="#dddddd"/></svg>
<svg x="864" y="528" width="16" height="8" viewBox="864 528 16 8"><circle cx="869.9" cy="539.2" r="8.5" fill="#dddddd"/></svg>
<svg x="880" y="528" width="16" height="8" viewBox="880 528 16 8"><circle cx="892.4" cy="539.2" r="8.5" fill="#dddddd"/></svg>
<svg x="896" y="528" width="16" height="8" viewBox="896 528 16 8"><circle cx="892.4" cy="539.2" r="8.5" fill="#dddddd"/><circle cx="914.8" cy="539.2" r="8.5" fill="#dddddd"/></svg>
<svg x="912" y="528" width="16" height="8" viewBox="912 528 16 8"><circle cx="914.8" cy="539.2" r="8.5" fill="#dddddd"/></svg>
<svg x="928" y="528" width="16" height="8" viewBox="928 528 16 8"><circle cx="937.3" cy="539.2" r="8.5" fill="#000000"/></svg>
<svg x="944" y="528" width="16" height="8" viewBox="944 528 16 8"><circle cx="937.3" cy="539.2" r="8.5" fill="#000000"/><circle cx="959.7" cy="539.2" r="8.5" fill="#000000"/></svg>
<svg x="960" y="528" width="16" height="8" viewBox="960 528 16 8"><circle cx="959.7" cy="539.2" r="8.5" fill="#000000"/></svg>
<svg x="48" y="536" width="16" height="8" viewBox="48 536 16 8"><rect x="48" y="536" width="16" height="8" fill="#ffd0ff"/><circle cx="62.6" cy="539.2" r="8.5" fill="#9e2000"/></svg>
<svg x="64" y="536" width="16" height="8" viewBox="64 536 16 8"><rect x="64" y="536" width="16" height="8" fill="#ffcfff"/><circle cx="62.6" cy="539.2" r="8.5" fill="#a11f00"/><circle cx="85" cy="539.2" r="8.5" fill="#a11f00"/></svg>
<svg x="80" y="536" width="16" height="8" viewBox="80 536 16 8"><rect x="80" y="536" width="16" height="8" fill="#ffbeff"/><circle cx="85" cy="539.2" r="8.5" fill="#c10e00"/></svg>
<svg x="96" y="536" width="16" height="8" viewBox="96 536 16 8"><rect x="96" y="536" width="16" height="8" fill="#ffc1ff"/><circle cx="107.5" cy="539.2" r="8.5" fill="#bc1100"/></svg>
<svg x="112" y="536" width="16" height="8" viewBox="112 536 16 8"><rect x="112" y="536" width="16" height="8" fill="#ffcfff"/><circle cx="107.5" cy="539.2" r="8.5" fill="#a11f00"/><circle cx="129.9" cy="539.2" r="8.5" fill="#a11f00"/></svg>
<svg x="128" y="536" width="16" height="8" viewBox="128 536 16 8"><rect x="128" y="536" width="16" height="8" fill="#ffceff"/><circle cx="129.9" cy="539.2" r="8.5" fill="#a31e00"/><circle cx="152.4" cy="539.2" r="8.5" fill="#a31e00"/></svg>
<svg x="144" y="536" width="16" height="8" viewBox="144 536 16 8"><rect x="144" y="536" width="16" height="8" fill="#ffb2ff"/><circle cx="152.4" cy="539.2" r="8.5" fill="#d90200"/></svg>
<svg x="160" y="536" width="16" height="8" viewBox="160 536 16 8"><rect x="160" y="536" width="16" height="8" fill="#ffcfff"/><circle cx="152.4" cy="539.2" r="8.5" fill="#a11f00"/><circle cx="174.8" cy="539.2" r="8.5" fill="#a11f00"/></svg>
<svg x="176" y="536" width="16" height="8" viewBox="176 536 16 8"><rect x="176" y="536" width="16" height="8" fill="#ffcfff"/><circle cx="174.8" cy="539.2" r="8.5" fill="#a01f00"/><circle cx="197.3" cy="539.2" r="8.5" fill="#a01f00"/></svg>
<svg x="192" y="536" width="16" height="8" viewBox="192 536 16 8"><rect x="192" y="536" width="16" height="8" fill="#ffbdff"/><circle cx="197.3" cy="539.2" r="8.5" fill="#c40d00"/></svg>
<svg x="208" y="536" width="16" height="8" viewBox="208 536 16 8"><rect x="208" y="536" width="16" height="8" fill="#ffc2ff"/><circle cx="219.7" cy="539.2" r="8.5" fill="#ba1200"/></svg>
<svg x="224" y="536" width="16" height="8" viewBox="224 536 16 8"><rect x="224" y="536" width="16" height="8" fill="#ffcfff"/><circle cx="219.7" cy="539.2" r="8.5" fill="#a01f00"/><circle cx="242.2" cy="539.2" r="8.5" fill="#a01f00"/></svg>
<svg x="240" y="536" width="16" height="8" viewBox="240 536 16 8"><rect x="240" y="536" width="16" height="8" fill="#ffccff"/><circle cx="242.2" cy="539.2" r="8.5" fill="#a61c00"/></svg>
<svg x="256" y="536" width="16" height="8" viewBox="256 536 16 8"><rect x="256" y="536" width="16" height="8" fill="#ffb3ff"/><circle cx="264.6" cy="539.2" r="8.5" fill="#d80300"/></svg>
<svg x="272" y="536" width="16" height="8" viewBox="272 536 16 8"><rect x="272" y="536" width="16" height="8" fill="#ffcfff"/><circle cx="264.6" cy="539.2" r="8.5" fill="#a01f00"/><circle cx="287.1" cy="539.2" r="8.5" fill="#a01f00"/></svg>
<svg x="288" y="536" width="16" height="8" viewBox="288 536 16 8"><rect x="288" y="536" width="16" height="8" fill="#ffcfff"/><circle cx="287.1" cy="539.2" r="8.5" fill="#a11f00"/><circle cx="309.5" cy="539.2" r="8.5" fill="#a11f00"/></svg>
<svg x="304" y="536" width="16" height="8" viewBox="304 536 16 8"><rect x="304" y="536" width="16" height="8" fill="#ffbcff"/><circle cx="309.5" cy="539.2" r="8.5" fill="#c50c00"/></svg>
<svg x="320" y="536" width="16" height="8" viewBox="320 536 16 8"><rect x="320" y="536" width="16" height="8" fill="#ffc3ff"/><circle cx="332" cy="539.2" r="8.5" fill="#b71300"/></svg>
<svg x="336" y="536" width="16" height="8" viewBox="336 536 16 8"><rect x="336" y="536" width="16" height="8" fill="#ffebff"/><circle cx="332" cy="539.2" r="8.5" fill="#6a3b00"/></svg>
<svg x="672" y="536" width="16" height="8" viewBox="672 536 16 8"><circle cx="690.3" cy="539.2" r="8.5" fill="#dddddd"/></svg>
<svg x="688" y="536" width="16" height="8" viewBox="688 536 16 8"><circle cx="690.3" cy="539.2" r="8.5" fill="#dddddd"/></svg>
<svg x="704" y="536" width="16" height="8" viewBox="704 536 16 8"><circle cx="712.8" cy="539.2" r="8.5" fill="#dddddd"/></svg>
<svg x="720" y="536" width="16" height="8" viewBox="720 536 16 8"><circle cx="712.8" cy="539.2" r="8.5" fill="#dddddd"/><circle cx="735.2" cy="539.2" r="8.5" fill="#dddddd"/></svg>
<svg x="736" y="536" width="16" height="8" viewBox="736 536 16 8"><circle cx="735.2" cy="539.2" r="8.5" fill="#dddddd"/><circle cx="757.7" cy="539.2" r="8.5" fill="#dddddd"/></svg>
<svg x="752" y="536" width="16" height="8" viewBox="752 536 16 8"><circle cx="757.7" cy="539.2" r="8.5" fill="#dddddd"/></svg>
<svg x="768" y="536" width="16" height="8" viewBox="768 536 16 8"><circle cx="780.1" cy="539.2" r="8.5" fill="#dddddd"/></svg>
<svg x="784" y="536" width="16" height="8" viewBox="784 536 16 8"><circle cx="780.1" cy="539.2" r="8.5" fill="#dddddd"/><circle cx="802.6" cy="539.2" r="8.5" fill="#dddddd"/></svg>
<svg x="800" y="536" width="16" height="8" viewBox="800 536 16 8"><circle cx="802.6" cy="539.2" r="8.5" fill="#dddddd"/></svg>
<svg x="816" y="536" width="16" height="8" viewBox="816 536 16 8"><circle cx="825" cy="539.2" r="8.5" fill="#dddddd"/></svg>
<svg x="832" y="536" width="16" height="8" viewBox="832 536 16 8"><circle cx="825" cy="539.2" r="8.5" fill="#dddddd"/><circle cx="847.5" cy="539.2" r="8.5" fill="#dddddd"/></svg>
<svg x="848" y="536" width="16" height="8" viewBox="848 536 16 8"><circle cx="847.5" cy="539.2" r="8.5" fill="#dddddd"/><circle cx="869.9" cy="539.2" r="8.5" fill="#dddddd"/></svg>
<svg x="864" y="536" width="16" height="8" viewBox="864 536 16 8"><circle cx="869.9" cy="539.2" r="8.5" fill="#dddddd"/></svg>
<svg x="880" y="536" width="16" height="8" viewBox="880 536 16 8"><circle cx="892.4" cy="539.2" r="8.5" fill="#dddddd"/></svg>
<svg x="896" y="536" width="16" height="8" viewBox="896 536 16 8"><circle cx="892.4" cy="539.2" r="8.5" fill="#dddddd"/><circle cx="914.8" cy="539.2" r="8.5" fill="#dddddd"/></svg>
<svg x="912" y="536" width="16" height="8" viewBox="912 536 16 8"><circle cx="914.8" cy="539.2" r="8.5" fill="#dddddd"/></svg>
<svg x="928" y="536" width="16" height="8" viewBox="928 536 16 8"><circle cx="937.3" cy="539.2" r="8.5" fill="#000000"/></svg>
<svg x="944" y="536" width="16" height="8" viewBox="944 536 16 8"><circle cx="937.3" cy="539.2" r="8.5" fill="#000000"/><circle cx="959.7" cy="539.2" r="8.5" fill="#000000"/></svg>
<svg x="960" y="536" width="16" height="8" viewBox="960 536 16 8"><circle cx="959.7" cy="539.2" r="8.5" fill="#000000"/></svg>
<svg x="48" y="544" width="16" height="8" viewBox="48 544 16 8"><rect x="48" y="544" width="16" height="8" fill="#fff1ff"/><circle cx="62.6" cy="539.2" r="8.5" fill="#5e4100"/></svg>
<svg x="64" y="544" width="16" height="8" viewBox="64 544 16 8"><rect x="64" y="544" width="16" height="8" fill="#fff6ff"/><circle cx="62.6" cy="539.2" r="8.5" fill="#544600"/><circle cx="85" cy="539.2" r="8.5" fill="#544600"/></svg>
<svg x="80" y="544" width="16" height="8" viewBox="80 544 16 8"><rect x="80" y="544" width="16" height="8" fill="#ffebff"/><circle cx="85" cy="539.2" r="8.5" fill="#6a3b00"/></svg>
<svg x="96" y="544" width="16" height="8" viewBox="96 544 16 8"><rect x="96" y="544" width="16" height="8" fill="#ffebff"/><circle cx="107.5" cy="539.2" r="8.5" fill="#693b00"/></svg>
<svg x="112" y="544" width="16" height="8" viewBox="112 544 16 8"><rect x="112" y="544" width="16" height="8" fill="#fff6ff"/><circle cx="107.5" cy="539.2" r="8.5" fill="#544600"/><circle cx="129.9" cy="539.2" r="8.5" fill="#544600"/></svg>
<svg x="128" y="544" width="16" height="8" viewBox="128 544 16 8"><rect x="128" y="544" width="16" height="8" fill="#fff0ff"/><circle cx="129.9" cy="539.2" r="8.5" fill="#604000"/></svg>
<svg x="144" y="544" width="16" height="8" viewBox="144 544 16 8"><rect x="144" y="544" width="16" height="8" fill="#ffe9ff"/><circle cx="152.4" cy="539.2" r="8.5" fill="#6d3900"/></svg>
<svg x="160" y="544" width="16" height="8" viewBox="160 544 16 8"><rect x="160" y="544" width="16" height="8" fill="#fff1ff"/><circle cx="174.8" cy="539.2" r="8.5" fill="#5d4100"/></svg>
<svg x="176" y="544" width="16" height="8" viewBox="176 544 16 8"><rect x="176" y="544" width="16" height="8" fill="#fff6ff"/><circle cx="174.8" cy="539.2" r="8.5" fill="#544600"/><circle cx="197.3" cy="539.2" r="8.5" fill="#544600"/></svg>
<svg x="192" y="544" width="16" height="8" viewBox="192 544 16 8"><rect x="192" y="544" width="16" height="8" fill="#ffeaff"/><circle cx="197.3" cy="539.2" r="8.5" fill="#6b3a00"/></svg>
<svg x="208" y="544" width="16" height="8" viewBox="208 544 16 8"><rect x="208" y="544" width="16" height="8" fill="#ffecff"/><circle cx="219.7" cy="539.2" r="8.5" fill="#683c00"/></svg>
<svg x="224" y="544" width="16" height="8" viewBox="224 544 16 8"><rect x="224" y="544" width="16" height="8" fill="#fff6ff"/><circle cx="219.7" cy="539.2" r="8.5" fill="#534600"/><circle cx="242.2" cy="539.2" r="8.5" fill="#534600"/></svg>
<svg x="240" y="544" width="16" height="8" viewBox="240 544 16 8"><rect x="240" y="544" width="16" height="8" fill="#ffefff"/><circle cx="242.2" cy="539.2" r="8.5" fill="#613f00"/></svg>
<svg x="256" y="544" width="16" height="8" viewBox="256 544 16 8"><rect x="256" y="544" width="16" height="8" fill="#ffe9ff"/><circle cx="264.6" cy="539.2" r="8.5" fill="#6d3900"/></svg>
<svg x="272" y="544" width="16" height="8" viewBox="272 544 16 8"><rect x="272" y="544" width="16" height="8" fill="#fff2ff"/><circle cx="287.1" cy="539.2" r="8.5" fill="#5c4200"/></svg>
<svg x="288" y="544" width="16" height="8" viewBox="288 544 16 8"><rect x="288" y="544" width="16" height="8" fill="#fff5ff"/><circle cx="287.1" cy="539.2" r="8.5" fill="#554500"/><circle cx="309.5" cy="539.2" r="8.5" fill="#554500"/></svg>
<svg x="304" y="544" width="16" height="8" viewBox="304 544 16 8"><rect x="304" y="544" width="16" height="8" fill="#ffeaff"/><circle cx="309.5" cy="539.2" r="8.5" fill="#6b3a00"/></svg>
<svg x="320" y="544" width="16" height="8" viewBox="320 544 16 8"><rect x="320" y="544" width="16" height="8" fill="#ffecff"/><circle cx="332" cy="539.2" r="8.5" fill="#673c00"/></svg>
<svg x="336" y="544" width="16" height="8" viewBox="336 544 16 8"><rect x="336" y="544" width="16" height="8" fill="#fffcff"/><circle cx="332" cy="539.2" r="8.5" fill="#484c00"/></svg>
<svg x="672" y="544" width="16" height="8" viewBox="672 544 16 8"><circle cx="690.3" cy="539.2" r="8.5" fill="#dddddd"/></svg>
<svg x="688" y="544" width="16" height="8" viewBox="688 544 16 8"><circle cx="690.3" cy="539.2" r="8.5" fill="#dddddd"/></svg>
<svg x="704" y="544" width="16" height="8" viewBox="704 544 16 8"><circle cx="712.8" cy="539.2" r="8.5" fill="#dddddd"/></svg>
<svg x="720" y="544" width="16" height="8" viewBox="720 544 16 8"><circle cx="735.2" cy="539.2" r="8.5" fill="#dddddd"/></svg>
<svg x="736" y="544" width="16" height="8" viewBox="736 544 16 8"><circle cx="735.2" cy="539.2" r="8.5" fill="#dddddd"/><circle cx="757.7" cy="539.2" r="8.5" fill="#dddddd"/></svg>
<svg x="752" y="544" width="16" height="8" viewBox="752 544 16 8"><circle cx="757.7" cy="539.2" r="8.5" fill="#dddddd"/></svg>
<svg x="768" y="544" width="16" height="8" viewBox="768 544 16 8"><circle cx="780.1" cy="539.2" r="8.5" fill="#dddddd"/></svg>
<svg x="784" y="544" width="16" height="8" viewBox="784 544 16 8"><circle cx="780.1" cy="539.2" r="8.5" fill="#dddddd"/><circle cx="802.6" cy="539.2" r="8.5" fill="#dddddd"/></svg>
<svg x="800" y="544" width="16" height="8" viewBox="800 544 16 8"><circle cx="802.6" cy="539.2" r="8.5" fill="#dddddd"/></svg>
<svg x="816" y="544" width="16" height="8" viewBox="816 544 16 8"><circle cx="825" cy="539.2" r="8.5" fill="#dddddd"/></svg>
<svg x="832" y="544" width="16" height="8" viewBox="832 544 16 8"><circle cx="825" cy="539.2" r="8.5" fill="#dddddd"/><circle cx="847.5" cy="539.2" r="8.5" fill="#dddddd"/></svg>
<svg x="848" y="544" width="16" height="8" viewBox="848 544 16 8"><circle cx="847.5" cy="539.2" r="8.5" fill="#dddddd"/><circle cx="869.9" cy="539.2" r="8.5" fill="#dddddd"/></svg>
<svg x="864" y="544" width="16" height="8" viewBox="864 544 16 8"><circle cx="869.9" cy="539.2" r="8.5" fill="#dddddd"/></svg>
<svg x="880" y="544" width="16" height="8" viewBox="880 544 16 8"><circle cx="892.4" cy="539.2" r="8.5" fill="#dddddd"/></svg>
<svg x="896" y="544" width="16" height="8" viewBox="896 544 16 8"><circle cx="892.4" cy="539.2" r="8.5" fill="#dddddd"/><circle cx="914.8" cy="539.2" r="8.5" fill="#dddddd"/></svg>
<svg x="912" y="544" width="16" height="8" viewBox="912 544 16 8"><circle cx="914.8" cy="539.2" r="8.5" fill="#dddddd"/></svg>
<svg x="928" y="544" width="16" height="8" viewBox="928 544 16 8"><circle cx="937.3" cy="539.2" r="8.5" fill="#000000"/></svg>
<svg x="944" y="544" width="16" height="8" viewBox="944 544 16 8"><circle cx="937.3" cy="539.2" r="8.5" fill="#000000"/><circle cx="959.7" cy="539.2" r="8.5" fill="#000000"/></svg>
<svg x="960" y="544" width="16" height="8" viewBox="960 544 16 8"><circle cx="959.7" cy="539.2" r="8.5" fill="#000000"/></svg>
<svg x="80" y="592" width="16" height="8" viewBox="80 592 16 8"><circle cx="88" cy="605.8" r="6" fill="#424f00"/></svg>
<svg x="144" y="592" width="16" height="8" viewBox="144 592 16 8"><circle cx="151.6" cy="605.8" r="6" fill="#5a5e43"/></svg>
<svg x="224" y="592" width="16" height="8" viewBox="224 592 16 8"><circle cx="241.5" cy="605.8" r="6" fill="#718700"/></svg>
<svg x="240" y="592" width="16" height="8" viewBox="240 592 16 8"><circle cx="241.5" cy="605.8" r="6" fill="#708700"/></svg>
<svg x="304" y="592" width="16" height="8" viewBox="304 592 16 8"><circle cx="315.2" cy="605.8" r="6" fill="#a6ad80"/></svg>
<svg x="368" y="592" width="16" height="8" viewBox="368 592 16 8"><circle cx="378.1" cy="605.8" r="6" fill="#a6c600"/></svg>
<svg x="432" y="592" width="16" height="8" viewBox="432 592 16 8"><circle cx="441.8" cy="605.8" r="6" fill="#d6fe0a"/></svg>
<svg x="496" y="592" width="16" height="8" viewBox="496 592 16 8"><circle cx="502.8" cy="605.8" r="6" fill="#1600b8"/></svg>
<svg x="560" y="592" width="16" height="8" viewBox="560 592 16 8"><circle cx="566.5" cy="605.8" r="6" fill="#beb7e1"/></svg>
<svg x="624" y="592" width="16" height="8" viewBox="624 592 16 8"><circle cx="630.3" cy="605.8" r="6" fill="#604ad0"/></svg>
<svg x="672" y="592" width="16" height="8" viewBox="672 592 16 8"><circle cx="681" cy="605.8" r="6" fill="#2d206c"/></svg>
<svg x="768" y="592" width="16" height="8" viewBox="768 592 16 8"><circle cx="776.3" cy="605.8" r="6" fill="#382694"/></svg>
<svg x="816" y="592" width="16" height="8" viewBox="816 592 16 8"><circle cx="827" cy="605.8" r="6" fill="#dddddd"/></svg>
<svg x="864" y="592" width="16" height="8" viewBox="864 592 16 8"><circle cx="870.4" cy="605.8" r="6" fill="#000000"/></svg>
<svg x="80" y="600" width="16" height="8" viewBox="80 600 16 8"><rect x="80" y="600" width="16" height="8" fill="#ffcdff"/><circle cx="88" cy="605.8" r="6" fill="#a41d00"/></svg>
<svg x="144" y="600" width="16" height="8" viewBox="144 600 16 8"><rect x="144" y="600" width="16" height="8" fill="#ffdaff"/><circle cx="151.6" cy="605.8" r="6" fill="#a23943"/></svg>
<svg x="224" y="600" width="16" height="8" viewBox="224 600 16 8"><rect x="224" y="600" width="16" height="8" fill="#e6ffff"/><circle cx="241.5" cy="605.8" r="6" fill="#589300"/></svg>
<svg x="240" y="600" width="16" height="8" viewBox="240 600 16 8"><rect x="240" y="600" width="16" height="8" fill="#d1ffff"/><circle cx="241.5" cy="605.8" r="6" fill="#439e00"/></svg>
<svg x="304" y="600" width="16" height="8" viewBox="304 600 16 8"><rect x="304" y="600" width="16" height="8" fill="#ffe4ff"/><circle cx="315.2" cy="605.8" r="6" fill="#db9280"/></svg>
<svg x="320" y="600" width="16" height="8" viewBox="320 600 16 8"><rect x="320" y="600" width="16" height="8" fill="#fffdff"/><circle cx="315.2" cy="605.8" r="6" fill="#a9ac80"/></svg>
<svg x="368" y="600" width="16" height="8" viewBox="368 600 16 8"><rect x="368" y="600" width="16" height="8" fill="#ffe2ff"/><circle cx="378.1" cy="605.8" r="6" fill="#deaa00"/></svg>
<svg x="384" y="600" width="16" height="8" viewBox="384 600 16 8"><circle cx="378.1" cy="605.8" r="6" fill="#a6c600"/></svg>
<svg x="432" y="600" width="16" height="8" viewBox="432 600 16 8"><rect x="432" y="600" width="16" height="8" fill="#fff2ff"/><circle cx="441.8" cy="605.8" r="6" fill="#f0f10a"/></svg>
<svg x="496" y="600" width="16" height="8" viewBox="496 600 16 8"><rect x="496" y="600" width="16" height="8" fill="#f1ffff"/><circle cx="502.8" cy="605.8" r="6" fill="#0800b8"/></svg>
<svg x="560" y="600" width="16" height="8" viewBox="560 600 16 8"><rect x="560" y="600" width="16" height="8" fill="#fff4ff"/><circle cx="566.5" cy="605.8" r="6" fill="#d4ace1"/></svg>
<svg x="624" y="600" width="16" height="8" viewBox="624 600 16 8"><rect x="624" y="600" width="16" height="8" fill="#ccffff"/><circle cx="630.3" cy="605.8" r="6" fill="#2d64d0"/></svg>
<svg x="672" y="600" width="16" height="8" viewBox="672 600 16 8"><rect x="672" y="600" width="16" height="8" fill="#f3ffff"/><circle cx="681" cy="605.8" r="6" fill="#21266c"/></svg>
<svg x="768" y="600" width="16" height="8" viewBox="768 600 16 8"><rect x="768" y="600" width="16" height="8" fill="#e6ffff"/><circle cx="776.3" cy="605.8" r="6" fill="#1f3394"/></svg>
<svg x="816" y="600" width="16" height="8" viewBox="816 600 16 8"><circle cx="827" cy="605.8" r="6" fill="#dddddd"/></svg>
<svg x="832" y="600" width="16" height="8" viewBox="832 600 16 8"><circle cx="827" cy="605.8" r="6" fill="#dddddd"/></svg>
<svg x="864" y="600" width="16" height="8" viewBox="864 600 16 8"><circle cx="870.4" cy="605.8" r="6" fill="#000000"/></svg>
<svg x="80" y="608" width="16" height="8" viewBox="80 608 16 8"><rect x="80" y="608" width="16" height="8" fill="#ffedff"/><circle cx="88" cy="605.8" r="6" fill="#653d00"/></svg>
<svg x="144" y="608" width="16" height="8" viewBox="144 608 16 8"><rect x="144" y="608" width="16" height="8" fill="#fff2ff"/><circle cx="151.6" cy="605.8" r="6" fill="#745143"/></svg>
<svg x="224" y="608" width="16" height="8" viewBox="224 608 16 8"><rect x="224" y="608" width="16" height="8" fill="#f7ffff"/><circle cx="241.5" cy="605.8" r="6" fill="#698b00"/></svg>
<svg x="240" y="608" width="16" height="8" viewBox="240 608 16 8"><rect x="240" y="608" width="16" height="8" fill="#eeffff"/><circle cx="241.5" cy="605.8" r="6" fill="#5f8f00"/></svg>
<svg x="304" y="608" width="16" height="8" viewBox="304 608 16 8"><rect x="304" y="608" width="16" height="8" fill="#fff5ff"/><circle cx="315.2" cy="605.8" r="6" fill="#baa380"/></svg>
<svg x="320" y="608" width="16" height="8" viewBox="320 608 16 8"><circle cx="315.2" cy="605.8" r="6" fill="#a6ad80"/></svg>
<svg x="368" y="608" width="16" height="8" viewBox="368 608 16 8"><rect x="368" y="608" width="16" height="8" fill="#fff5ff"/><circle cx="378.1" cy="605.8" r="6" fill="#babc00"/></svg>
<svg x="432" y="608" width="16" height="8" viewBox="432 608 16 8"><rect x="432" y="608" width="16" height="8" fill="#fffaff"/><circle cx="441.8" cy="605.8" r="6" fill="#dff90a"/></svg>
<svg x="496" y="608" width="16" height="8" viewBox="496 608 16 8"><rect x="496" y="608" width="16" height="8" fill="#faffff"/><circle cx="502.8" cy="605.8" r="6" fill="#1100b8"/></svg>
<svg x="560" y="608" width="16" height="8" viewBox="560 608 16 8"><rect x="560" y="608" width="16" height="8" fill="#fffbff"/><circle cx="566.5" cy="605.8" r="6" fill="#c6b3e1"/></svg>
<svg x="624" y="608" width="16" height="8" viewBox="624 608 16 8"><rect x="624" y="608" width="16" height="8" fill="#edffff"/><circle cx="630.3" cy="605.8" r="6" fill="#4e53d0"/></svg>
<svg x="672" y="608" width="16" height="8" viewBox="672 608 16 8"><rect x="672" y="608" width="16" height="8" fill="#fbffff"/><circle cx="681" cy="605.8" r="6" fill="#28236c"/></svg>
<svg x="768" y="608" width="16" height="8" viewBox="768 608 16 8"><rect x="768" y="608" width="16" height="8" fill="#f6ffff"/><circle cx="776.3" cy="605.8" r="6" fill="#2f2b94"/></svg>
<svg x="816" y="608" width="16" height="8" viewBox="816 608 16 8"><circle cx="827" cy="605.8" r="6" fill="#dddddd"/></svg>
<svg x="832" y="608" width="16" height="8" viewBox="832 608 16 8"><circle cx="827" cy="605.8" r="6" fill="#dddddd"/></svg>
<svg x="864" y="608" width="16" height="8" viewBox="864 608 16 8"><circle cx="870.4" cy="605.8" r="6" fill="#000000"/></svg>
</svg>
<div id="num">577</div>
<div class="li" style="left:97.3px">GDR</div>
<div class="li" style="left:160.9px">LFI-NFP</div>
<div class="li" style="left:250.8px">ECOS</div>
<div class="li" style="left:324.5px">SOC</div>
<div class="li" style="left:387.4px">DEM</div>
<div class="li" style="left:451.1px">EPR</div>
<div class="li" style="left:511.8px">HOR</div>
<div class="li" style="left:575.3px">LIOT</div>
<div class="li" style="left:639.1px">DR</div>
<div class="li" style="left:690.3px">UDDPLR</div>
<div class="li" style="left:785.6px">RN</div>
<div class="li" style="left:836.3px">NI</div>
<div class="li" style="left:880.4px">Vacant</div>
</body></html>
